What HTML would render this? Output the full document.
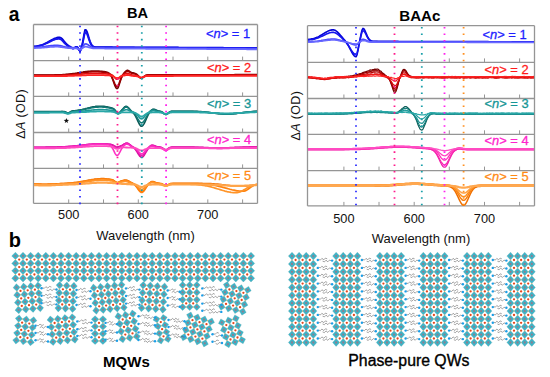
<!DOCTYPE html>
<html><head><meta charset="utf-8"><style>
html,body{margin:0;padding:0;background:#fff;}
body{width:550px;height:377px;position:relative;overflow:hidden;font-family:"Liberation Sans", sans-serif;}
</style></head><body>
<svg width="550" height="377" viewBox="0 0 550 377" style="position:absolute;left:0;top:0">
<line x1="68.7" y1="60.6" x2="68.7" y2="56.6" stroke="#8a8a8a" stroke-width="0.9"/>
<line x1="103.5" y1="60.6" x2="103.5" y2="56.6" stroke="#8a8a8a" stroke-width="0.9"/>
<line x1="138.3" y1="60.6" x2="138.3" y2="56.6" stroke="#8a8a8a" stroke-width="0.9"/>
<line x1="173.0" y1="60.6" x2="173.0" y2="56.6" stroke="#8a8a8a" stroke-width="0.9"/>
<line x1="207.8" y1="60.6" x2="207.8" y2="56.6" stroke="#8a8a8a" stroke-width="0.9"/>
<line x1="242.6" y1="60.6" x2="242.6" y2="56.6" stroke="#8a8a8a" stroke-width="0.9"/>
<line x1="68.7" y1="96.4" x2="68.7" y2="92.4" stroke="#8a8a8a" stroke-width="0.9"/>
<line x1="103.5" y1="96.4" x2="103.5" y2="92.4" stroke="#8a8a8a" stroke-width="0.9"/>
<line x1="138.3" y1="96.4" x2="138.3" y2="92.4" stroke="#8a8a8a" stroke-width="0.9"/>
<line x1="173.0" y1="96.4" x2="173.0" y2="92.4" stroke="#8a8a8a" stroke-width="0.9"/>
<line x1="207.8" y1="96.4" x2="207.8" y2="92.4" stroke="#8a8a8a" stroke-width="0.9"/>
<line x1="242.6" y1="96.4" x2="242.6" y2="92.4" stroke="#8a8a8a" stroke-width="0.9"/>
<line x1="68.7" y1="132.5" x2="68.7" y2="128.5" stroke="#8a8a8a" stroke-width="0.9"/>
<line x1="103.5" y1="132.5" x2="103.5" y2="128.5" stroke="#8a8a8a" stroke-width="0.9"/>
<line x1="138.3" y1="132.5" x2="138.3" y2="128.5" stroke="#8a8a8a" stroke-width="0.9"/>
<line x1="173.0" y1="132.5" x2="173.0" y2="128.5" stroke="#8a8a8a" stroke-width="0.9"/>
<line x1="207.8" y1="132.5" x2="207.8" y2="128.5" stroke="#8a8a8a" stroke-width="0.9"/>
<line x1="242.6" y1="132.5" x2="242.6" y2="128.5" stroke="#8a8a8a" stroke-width="0.9"/>
<line x1="68.7" y1="168.4" x2="68.7" y2="164.4" stroke="#8a8a8a" stroke-width="0.9"/>
<line x1="103.5" y1="168.4" x2="103.5" y2="164.4" stroke="#8a8a8a" stroke-width="0.9"/>
<line x1="138.3" y1="168.4" x2="138.3" y2="164.4" stroke="#8a8a8a" stroke-width="0.9"/>
<line x1="173.0" y1="168.4" x2="173.0" y2="164.4" stroke="#8a8a8a" stroke-width="0.9"/>
<line x1="207.8" y1="168.4" x2="207.8" y2="164.4" stroke="#8a8a8a" stroke-width="0.9"/>
<line x1="242.6" y1="168.4" x2="242.6" y2="164.4" stroke="#8a8a8a" stroke-width="0.9"/>
<line x1="68.7" y1="203.4" x2="68.7" y2="199.4" stroke="#8a8a8a" stroke-width="0.9"/>
<line x1="103.5" y1="203.4" x2="103.5" y2="199.4" stroke="#8a8a8a" stroke-width="0.9"/>
<line x1="138.3" y1="203.4" x2="138.3" y2="199.4" stroke="#8a8a8a" stroke-width="0.9"/>
<line x1="173.0" y1="203.4" x2="173.0" y2="199.4" stroke="#8a8a8a" stroke-width="0.9"/>
<line x1="207.8" y1="203.4" x2="207.8" y2="199.4" stroke="#8a8a8a" stroke-width="0.9"/>
<line x1="242.6" y1="203.4" x2="242.6" y2="199.4" stroke="#8a8a8a" stroke-width="0.9"/>
<line x1="33.5" y1="24.5" x2="257.5" y2="24.5" stroke="#959595" stroke-width="1.3"/>
<line x1="33.5" y1="60.6" x2="257.5" y2="60.6" stroke="#959595" stroke-width="1.3"/>
<line x1="33.5" y1="96.4" x2="257.5" y2="96.4" stroke="#959595" stroke-width="1.3"/>
<line x1="33.5" y1="132.5" x2="257.5" y2="132.5" stroke="#959595" stroke-width="1.3"/>
<line x1="33.5" y1="168.4" x2="257.5" y2="168.4" stroke="#959595" stroke-width="1.3"/>
<line x1="33.5" y1="203.4" x2="257.5" y2="203.4" stroke="#959595" stroke-width="1.3"/>
<line x1="33.5" y1="24.5" x2="33.5" y2="203.4" stroke="#959595" stroke-width="1.3"/>
<line x1="257.5" y1="24.5" x2="257.5" y2="203.4" stroke="#959595" stroke-width="1.3"/>
<path d="M34,183.9 35,183.9 36,184.0 37,184.0 38,184.0 39,184.1 40,184.1 41,184.1 42,184.2 43,184.2 44,184.2 45,184.2 46,184.2 47,184.2 48,184.1 49,184.1 50,184.1 51,184.0 52,184.0 53,184.0 54,183.9 55,183.9 56,183.8 57,183.8 58,183.7 59,183.7 60,183.6 61,183.5 62,183.5 63,183.4 64,183.4 65,183.3 66,183.3 67,183.2 68,183.1 69,183.1 70,183.0 71,182.9 72,182.8 73,182.7 74,182.6 75,182.5 76,182.4 77,182.2 78,182.1 79,182.0 80,181.8 81,181.6 82,181.5 83,181.3 84,181.1 85,180.9 86,180.7 87,180.5 88,180.3 89,180.1 90,179.9 91,179.8 92,179.6 93,179.4 94,179.3 95,179.1 96,179.0 97,178.9 98,178.8 99,178.7 100,178.7 101,178.6 102,178.6 103,178.6 104,178.6 105,178.7 106,178.8 107,178.9 108,179.0 109,179.1 110,179.2 111,179.4 112,179.6 113,180.0 114,180.6 115,181.3 116,182.0 117,182.5 118,182.4 119,181.9 120,181.4 121,181.0 122,180.7 123,180.4 124,180.1 125,180.0 126,180.0 127,180.3 128,180.7 129,181.2 130,181.8 131,182.3 132,182.8 133,183.3 134,184.0 135,184.8 136,185.9 137,187.1 138,188.5 139,189.9 140,190.9 141,191.6 142,191.7 143,191.2 144,190.2 145,188.8 146,187.4 147,185.9 148,184.5 149,183.4 150,182.5 151,181.8 152,181.5 153,181.5 154,181.8 155,182.1 156,182.5 157,182.8 158,183.1 159,183.2 160,183.4 161,183.5 162,183.8 163,184.3 164,184.8 165,185.2 166,185.3 167,185.1 168,184.6 169,184.1 170,183.7 171,183.5 172,183.4 173,183.3 174,183.3 175,183.3 176,183.3 177,183.3 178,183.3 179,183.3 180,183.3 181,183.3 182,183.3 183,183.3 184,183.3 185,183.3 186,183.3 187,183.3 188,183.3 189,183.3 190,183.3 191,183.3 192,183.3 193,183.3 194,183.3 195,183.3 196,183.3 197,183.3 198,183.3 199,183.3 200,183.3 201,183.3 202,183.3 203,183.4 204,183.4 205,183.4 206,183.4 207,183.5 208,183.5 209,183.5 210,183.6 211,183.6 212,183.7 213,183.7 214,183.8 215,183.9 216,183.9 217,184.0 218,184.1 219,184.2 220,184.3 221,184.4 222,184.6 223,184.7 224,184.8 225,184.9 226,185.1 227,185.2 228,185.3 229,185.4 230,185.6 231,185.7 232,185.8 233,185.9 234,186.0 235,186.0 236,186.1 237,186.2 238,186.2 239,186.2 240,186.2 241,186.2 242,186.2 243,186.2 244,186.1 245,186.0 246,186.0 247,185.9 248,185.8 249,185.7 250,185.5 251,185.4 252,185.3 253,185.2 254,185.0 255,184.9 256,184.8 257,184.6" fill="none" stroke="#ee6e00" stroke-width="1.50" stroke-linejoin="round"/>
<path d="M34,184.1 35,184.1 36,184.2 37,184.2 38,184.2 39,184.3 40,184.3 41,184.3 42,184.4 43,184.4 44,184.4 45,184.4 46,184.4 47,184.4 48,184.3 49,184.3 50,184.3 51,184.2 52,184.2 53,184.2 54,184.1 55,184.1 56,184.0 57,184.0 58,183.9 59,183.9 60,183.8 61,183.7 62,183.7 63,183.6 64,183.6 65,183.5 66,183.5 67,183.4 68,183.4 69,183.3 70,183.2 71,183.1 72,183.0 73,183.0 74,182.9 75,182.7 76,182.6 77,182.5 78,182.4 79,182.2 80,182.1 81,181.9 82,181.7 83,181.6 84,181.4 85,181.2 86,181.0 87,180.8 88,180.7 89,180.5 90,180.3 91,180.1 92,179.9 93,179.8 94,179.6 95,179.5 96,179.4 97,179.3 98,179.2 99,179.1 100,179.1 101,179.0 102,179.0 103,179.0 104,179.0 105,179.1 106,179.2 107,179.3 108,179.4 109,179.5 110,179.6 111,179.8 112,180.0 113,180.3 114,180.9 115,181.6 116,182.4 117,182.8 118,182.7 119,182.3 120,181.8 121,181.3 122,181.0 123,180.8 124,180.6 125,180.5 126,180.5 127,180.7 128,181.1 129,181.6 130,182.1 131,182.6 132,183.1 133,183.6 134,184.3 135,185.1 136,186.2 137,187.6 138,189.0 139,190.5 140,191.6 141,192.3 142,192.4 143,191.8 144,190.8 145,189.4 146,187.8 147,186.3 148,184.9 149,183.8 150,182.9 151,182.2 152,181.9 153,181.9 154,182.1 155,182.5 156,182.8 157,183.1 158,183.3 159,183.4 160,183.6 161,183.8 162,184.1 163,184.6 164,185.1 165,185.6 166,185.7 167,185.4 168,184.9 169,184.4 170,183.9 171,183.7 172,183.6 173,183.5 174,183.5 175,183.5 176,183.5 177,183.5 178,183.5 179,183.5 180,183.5 181,183.5 182,183.5 183,183.5 184,183.5 185,183.5 186,183.5 187,183.5 188,183.5 189,183.5 190,183.6 191,183.6 192,183.6 193,183.6 194,183.6 195,183.6 196,183.7 197,183.7 198,183.7 199,183.8 200,183.8 201,183.8 202,183.9 203,184.0 204,184.0 205,184.1 206,184.2 207,184.3 208,184.4 209,184.5 210,184.6 211,184.8 212,184.9 213,185.1 214,185.3 215,185.5 216,185.7 217,185.9 218,186.1 219,186.3 220,186.6 221,186.8 222,187.1 223,187.4 224,187.6 225,187.9 226,188.2 227,188.4 228,188.7 229,189.0 230,189.3 231,189.5 232,189.8 233,190.0 234,190.2 235,190.4 236,190.6 237,190.8 238,190.9 239,191.0 240,191.1 241,191.2 242,191.2 243,191.2 244,191.1 245,190.9 246,190.4 247,189.9 248,189.2 249,188.5 250,187.8 251,187.1 252,186.4 253,185.8 254,185.3 255,184.8 256,184.5 257,184.2" fill="none" stroke="#ff820e" stroke-width="1.70" stroke-linejoin="round"/>
<path d="M34,184.6 35,184.6 36,184.7 37,184.7 38,184.7 39,184.8 40,184.8 41,184.8 42,184.9 43,184.9 44,184.9 45,184.9 46,184.9 47,184.9 48,184.8 49,184.8 50,184.8 51,184.7 52,184.7 53,184.7 54,184.6 55,184.6 56,184.5 57,184.5 58,184.4 59,184.4 60,184.3 61,184.3 62,184.2 63,184.2 64,184.1 65,184.1 66,184.0 67,184.0 68,183.9 69,183.8 70,183.8 71,183.7 72,183.6 73,183.5 74,183.5 75,183.4 76,183.3 77,183.1 78,183.0 79,182.9 80,182.8 81,182.6 82,182.5 83,182.3 84,182.2 85,182.0 86,181.9 87,181.7 88,181.5 89,181.4 90,181.2 91,181.1 92,180.9 93,180.8 94,180.6 95,180.5 96,180.4 97,180.3 98,180.3 99,180.2 100,180.1 101,180.1 102,180.1 103,180.1 104,180.1 105,180.2 106,180.2 107,180.3 108,180.4 109,180.5 110,180.6 111,180.8 112,181.0 113,181.2 114,181.7 115,182.3 116,182.8 117,183.1 118,183.1 119,182.8 120,182.4 121,182.1 122,181.9 123,181.7 124,181.5 125,181.4 126,181.5 127,181.7 128,182.0 129,182.4 130,182.8 131,183.1 132,183.4 133,183.7 134,184.0 135,184.4 136,185.1 137,185.9 138,186.9 139,187.9 140,188.8 141,189.3 142,189.4 143,189.0 144,188.2 145,187.1 146,186.1 147,185.1 148,184.2 149,183.6 150,183.0 151,182.7 152,182.6 153,182.6 154,182.8 155,183.1 156,183.4 157,183.7 158,183.8 159,184.0 160,184.1 161,184.2 162,184.5 163,185.0 164,185.5 165,185.9 166,186.0 167,185.8 168,185.3 169,184.8 170,184.4 171,184.2 172,184.1 173,184.0 174,184.0 175,184.0 176,184.0 177,184.0 178,184.0 179,184.0 180,184.0 181,184.0 182,184.1 183,184.1 184,184.1 185,184.1 186,184.1 187,184.1 188,184.2 189,184.2 190,184.2 191,184.3 192,184.3 193,184.3 194,184.4 195,184.5 196,184.5 197,184.6 198,184.7 199,184.8 200,184.9 201,185.0 202,185.2 203,185.3 204,185.5 205,185.6 206,185.8 207,186.0 208,186.2 209,186.5 210,186.7 211,186.9 212,187.2 213,187.5 214,187.8 215,188.1 216,188.4 217,188.7 218,189.0 219,189.3 220,189.6 221,189.9 222,190.2 223,190.5 224,190.8 225,191.1 226,191.3 227,191.6 228,191.8 229,192.0 230,192.2 231,192.4 232,192.5 233,192.6 234,192.7 235,192.7 236,192.7 237,192.7 238,192.5 239,192.2 240,191.9 241,191.5 242,191.0 243,190.4 244,189.8 245,189.3 246,188.7 247,188.1 248,187.5 249,187.0 250,186.5 251,186.1 252,185.7 253,185.4 254,185.1 255,184.9 256,184.6 257,184.5" fill="none" stroke="#ff9428" stroke-width="1.70" stroke-linejoin="round"/>
<path d="M34,185.1 35,185.1 36,185.2 37,185.2 38,185.2 39,185.3 40,185.3 41,185.3 42,185.4 43,185.4 44,185.4 45,185.4 46,185.4 47,185.4 48,185.3 49,185.3 50,185.3 51,185.3 52,185.2 53,185.2 54,185.1 55,185.1 56,185.0 57,185.0 58,184.9 59,184.9 60,184.9 61,184.8 62,184.8 63,184.7 64,184.7 65,184.7 66,184.6 67,184.6 68,184.6 69,184.5 70,184.5 71,184.4 72,184.4 73,184.4 74,184.3 75,184.3 76,184.2 77,184.1 78,184.1 79,184.0 80,184.0 81,183.9 82,183.8 83,183.7 84,183.7 85,183.6 86,183.5 87,183.4 88,183.3 89,183.3 90,183.2 91,183.1 92,183.0 93,183.0 94,182.9 95,182.8 96,182.8 97,182.7 98,182.7 99,182.7 100,182.6 101,182.6 102,182.6 103,182.6 104,182.6 105,182.6 106,182.7 107,182.7 108,182.8 109,182.8 110,182.9 111,182.9 112,183.0 113,183.1 114,183.1 115,183.2 116,183.3 117,183.4 118,183.5 119,183.5 120,183.6 121,183.7 122,183.8 123,183.8 124,183.9 125,184.0 126,184.0 127,184.1 128,184.1 129,184.2 130,184.2 131,184.3 132,184.3 133,184.4 134,184.5 135,184.6 136,184.8 137,185.2 138,185.7 139,186.2 140,186.6 141,186.9 142,187.0 143,186.7 144,186.3 145,185.8 146,185.4 147,185.0 148,184.8 149,184.6 150,184.6 151,184.6 152,184.5 153,184.5 154,184.5 155,184.5 156,184.5 157,184.5 158,184.5 159,184.5 160,184.6 161,184.7 162,184.8 163,185.1 164,185.4 165,185.7 166,185.7 167,185.6 168,185.3 169,185.0 170,184.7 171,184.6 172,184.5 173,184.5 174,184.5 175,184.5 176,184.5 177,184.5 178,184.5 179,184.5 180,184.5 181,184.5 182,184.5 183,184.5 184,184.5 185,184.5 186,184.5 187,184.5 188,184.5 189,184.5 190,184.5 191,184.5 192,184.5 193,184.5 194,184.5 195,184.5 196,184.5 197,184.5 198,184.5 199,184.5 200,184.5 201,184.5 202,184.5 203,184.5 204,184.5 205,184.6 206,184.6 207,184.6 208,184.6 209,184.6 210,184.7 211,184.7 212,184.7 213,184.8 214,184.8 215,184.8 216,184.9 217,184.9 218,185.0 219,185.0 220,185.1 221,185.2 222,185.2 223,185.3 224,185.4 225,185.4 226,185.5 227,185.5 228,185.6 229,185.7 230,185.7 231,185.8 232,185.8 233,185.8 234,185.9 235,185.9 236,185.9 237,185.9 238,185.9 239,185.9 240,185.9 241,185.9 242,185.9 243,185.8 244,185.8 245,185.7 246,185.7 247,185.6 248,185.6 249,185.5 250,185.4 251,185.4 252,185.3 253,185.3 254,185.2 255,185.1 256,185.1 257,185.0" fill="none" stroke="#ffa54a" stroke-width="2.20" stroke-linejoin="round"/>
<path d="M34,147.2 35,147.2 36,147.2 37,147.2 38,147.2 39,147.2 40,147.2 41,147.2 42,147.2 43,147.2 44,147.2 45,147.2 46,147.1 47,147.1 48,147.1 49,147.1 50,147.1 51,147.1 52,147.1 53,147.1 54,147.0 55,147.0 56,147.0 57,147.0 58,146.9 59,146.9 60,146.9 61,146.8 62,146.8 63,146.8 64,146.7 65,146.7 66,146.6 67,146.5 68,146.5 69,146.4 70,146.3 71,146.3 72,146.2 73,146.1 74,146.0 75,145.9 76,145.8 77,145.7 78,145.6 79,145.5 80,145.4 81,145.3 82,145.2 83,145.1 84,145.0 85,144.8 86,144.7 87,144.6 88,144.5 89,144.4 90,144.4 91,144.3 92,144.2 93,144.1 94,144.1 95,144.0 96,144.0 97,143.9 98,143.9 99,143.9 100,143.9 101,143.9 102,143.9 103,143.9 104,144.0 105,144.0 106,144.0 107,144.1 108,144.2 109,144.3 110,144.4 111,144.5 112,144.8 113,145.1 114,145.7 115,146.2 116,146.7 117,147.0 118,146.9 119,146.6 120,146.2 121,145.8 122,145.4 123,144.9 124,144.3 125,143.7 126,143.3 127,143.2 128,143.5 129,144.1 130,144.9 131,145.7 132,146.4 133,147.2 134,148.0 135,149.0 136,150.3 137,151.9 138,153.5 139,155.1 140,156.4 141,157.1 142,157.2 143,156.7 144,155.5 145,153.9 146,152.2 147,150.5 148,148.8 149,147.4 150,146.3 151,145.6 152,145.2 153,145.3 154,145.5 155,145.9 156,146.3 157,146.6 158,146.8 159,146.9 160,147.1 161,147.3 162,147.7 163,148.3 164,149.0 165,149.6 166,149.8 167,149.4 168,148.7 169,148.0 170,147.5 171,147.2 172,147.0 173,147.0 174,147.0 175,147.0 176,147.0 177,147.0 178,147.0 179,147.0 180,147.0 181,147.0 182,147.0 183,147.0 184,147.0 185,147.0 186,147.0 187,147.0 188,147.0 189,147.0 190,147.1 191,147.1 192,147.1 193,147.1 194,147.1 195,147.2 196,147.2 197,147.2 198,147.2 199,147.3 200,147.3 201,147.3 202,147.4 203,147.4 204,147.5 205,147.5 206,147.5 207,147.6 208,147.6 209,147.7 210,147.7 211,147.7 212,147.7 213,147.8 214,147.8 215,147.8 216,147.8 217,147.9 218,147.9 219,147.9 220,147.9 221,147.9 222,147.9 223,147.8 224,147.8 225,147.8 226,147.8 227,147.8 228,147.7 229,147.7 230,147.6 231,147.6 232,147.6 233,147.5 234,147.5 235,147.4 236,147.4 237,147.4 238,147.3 239,147.3 240,147.2 241,147.2 242,147.2 243,147.1 244,147.1 245,147.1 246,147.0 247,147.0 248,147.0 249,147.0 250,146.9 251,146.9 252,146.9 253,146.9 254,146.9 255,146.9 256,146.9 257,146.8" fill="none" stroke="#d4109c" stroke-width="1.60" stroke-linejoin="round"/>
<path d="M34,147.4 35,147.4 36,147.4 37,147.4 38,147.4 39,147.4 40,147.4 41,147.4 42,147.4 43,147.4 44,147.4 45,147.3 46,147.3 47,147.3 48,147.3 49,147.3 50,147.3 51,147.3 52,147.3 53,147.3 54,147.2 55,147.2 56,147.2 57,147.2 58,147.1 59,147.1 60,147.1 61,147.0 62,147.0 63,146.9 64,146.9 65,146.8 66,146.8 67,146.7 68,146.6 69,146.5 70,146.5 71,146.4 72,146.3 73,146.2 74,146.1 75,146.0 76,145.9 77,145.8 78,145.7 79,145.5 80,145.4 81,145.3 82,145.2 83,145.1 84,145.0 85,144.8 86,144.7 87,144.6 88,144.5 89,144.4 90,144.3 91,144.2 92,144.1 93,144.0 94,144.0 95,143.9 96,143.9 97,143.8 98,143.8 99,143.8 100,143.8 101,143.8 102,143.8 103,143.8 104,143.9 105,143.9 106,144.0 107,144.0 108,144.1 109,144.2 110,144.3 111,144.5 112,144.9 113,145.4 114,146.1 115,147.0 116,147.7 117,148.0 118,147.9 119,147.4 120,146.7 121,146.1 122,145.5 123,144.9 124,144.3 125,143.7 126,143.2 127,143.1 128,143.4 129,144.1 130,144.9 131,145.7 132,146.4 133,147.0 134,147.7 135,148.5 136,149.6 137,150.9 138,152.3 139,153.6 140,154.7 141,155.3 142,155.4 143,154.9 144,153.9 145,152.6 146,151.2 147,149.7 148,148.4 149,147.2 150,146.2 151,145.6 152,145.3 153,145.4 154,145.7 155,146.1 156,146.5 157,146.8 158,147.0 159,147.1 160,147.3 161,147.5 162,147.9 163,148.6 164,149.4 165,150.0 166,150.1 167,149.8 168,149.1 169,148.3 170,147.7 171,147.4 172,147.2 173,147.2 174,147.2 175,147.2 176,147.2 177,147.2 178,147.2 179,147.2 180,147.2 181,147.2 182,147.2 183,147.2 184,147.2 185,147.2 186,147.2 187,147.2 188,147.2 189,147.2 190,147.3 191,147.3 192,147.3 193,147.3 194,147.3 195,147.4 196,147.4 197,147.4 198,147.4 199,147.5 200,147.5 201,147.5 202,147.6 203,147.6 204,147.7 205,147.7 206,147.7 207,147.8 208,147.8 209,147.9 210,147.9 211,147.9 212,147.9 213,148.0 214,148.0 215,148.0 216,148.0 217,148.1 218,148.1 219,148.1 220,148.1 221,148.1 222,148.1 223,148.0 224,148.0 225,148.0 226,148.0 227,148.0 228,147.9 229,147.9 230,147.8 231,147.8 232,147.8 233,147.7 234,147.7 235,147.6 236,147.6 237,147.6 238,147.5 239,147.5 240,147.4 241,147.4 242,147.4 243,147.3 244,147.3 245,147.3 246,147.2 247,147.2 248,147.2 249,147.2 250,147.1 251,147.1 252,147.1 253,147.1 254,147.1 255,147.1 256,147.1 257,147.0" fill="none" stroke="#e818b0" stroke-width="1.60" stroke-linejoin="round"/>
<path d="M34,147.9 35,147.9 36,147.9 37,147.9 38,147.9 39,147.9 40,147.9 41,147.9 42,147.9 43,147.9 44,147.9 45,147.8 46,147.8 47,147.8 48,147.8 49,147.8 50,147.8 51,147.8 52,147.8 53,147.8 54,147.7 55,147.7 56,147.7 57,147.7 58,147.6 59,147.6 60,147.6 61,147.5 62,147.5 63,147.4 64,147.4 65,147.3 66,147.3 67,147.2 68,147.1 69,147.0 70,147.0 71,146.9 72,146.8 73,146.7 74,146.6 75,146.5 76,146.4 77,146.3 78,146.2 79,146.0 80,145.9 81,145.8 82,145.7 83,145.6 84,145.5 85,145.3 86,145.2 87,145.1 88,145.0 89,144.9 90,144.8 91,144.7 92,144.6 93,144.5 94,144.5 95,144.4 96,144.4 97,144.3 98,144.3 99,144.3 100,144.3 101,144.3 102,144.3 103,144.3 104,144.4 105,144.4 106,144.5 107,144.6 108,144.7 109,145.0 110,145.4 111,146.2 112,147.5 113,149.2 114,151.2 115,153.3 116,154.9 117,155.5 118,155.1 119,153.7 120,151.9 121,149.9 122,148.2 123,146.8 124,145.7 125,144.8 126,144.3 127,144.1 128,144.4 129,144.9 130,145.6 131,146.2 132,146.7 133,147.1 134,147.5 135,147.9 136,148.6 137,149.6 138,150.8 139,152.0 140,153.1 141,153.8 142,153.9 143,153.4 144,152.4 145,151.2 146,149.9 147,148.8 148,147.9 149,147.1 150,146.6 151,146.3 152,146.2 153,146.3 154,146.5 155,146.9 156,147.2 157,147.4 158,147.5 159,147.6 160,147.8 161,148.0 162,148.4 163,149.1 164,149.9 165,150.5 166,150.6 167,150.3 168,149.6 169,148.8 170,148.2 171,147.9 172,147.7 173,147.7 174,147.7 175,147.7 176,147.7 177,147.7 178,147.7 179,147.7 180,147.7 181,147.7 182,147.7 183,147.7 184,147.7 185,147.7 186,147.7 187,147.7 188,147.7 189,147.7 190,147.8 191,147.8 192,147.8 193,147.8 194,147.8 195,147.9 196,147.9 197,147.9 198,147.9 199,148.0 200,148.0 201,148.0 202,148.1 203,148.1 204,148.2 205,148.2 206,148.2 207,148.3 208,148.3 209,148.4 210,148.4 211,148.4 212,148.4 213,148.5 214,148.5 215,148.5 216,148.5 217,148.6 218,148.6 219,148.6 220,148.6 221,148.6 222,148.6 223,148.5 224,148.5 225,148.5 226,148.5 227,148.5 228,148.4 229,148.4 230,148.3 231,148.3 232,148.3 233,148.2 234,148.2 235,148.1 236,148.1 237,148.1 238,148.0 239,148.0 240,147.9 241,147.9 242,147.9 243,147.8 244,147.8 245,147.8 246,147.7 247,147.7 248,147.7 249,147.7 250,147.6 251,147.6 252,147.6 253,147.6 254,147.6 255,147.6 256,147.6 257,147.5" fill="none" stroke="#ff30c4" stroke-width="1.60" stroke-linejoin="round"/>
<path d="M34,148.4 35,148.4 36,148.4 37,148.4 38,148.4 39,148.4 40,148.4 41,148.4 42,148.4 43,148.4 44,148.4 45,148.4 46,148.4 47,148.3 48,148.3 49,148.3 50,148.3 51,148.3 52,148.3 53,148.3 54,148.3 55,148.3 56,148.2 57,148.2 58,148.2 59,148.2 60,148.2 61,148.1 62,148.1 63,148.1 64,148.0 65,148.0 66,148.0 67,147.9 68,147.9 69,147.8 70,147.8 71,147.7 72,147.7 73,147.6 74,147.6 75,147.5 76,147.4 77,147.4 78,147.3 79,147.2 80,147.1 81,147.1 82,147.0 83,146.9 84,146.8 85,146.8 86,146.7 87,146.6 88,146.5 89,146.5 90,146.4 91,146.4 92,146.3 93,146.3 94,146.2 95,146.2 96,146.1 97,146.1 98,146.1 99,146.1 100,146.1 101,146.1 102,146.1 103,146.1 104,146.1 105,146.2 106,146.2 107,146.2 108,146.3 109,146.3 110,146.4 111,146.5 112,146.8 113,147.1 114,147.6 115,148.2 116,148.6 117,148.8 118,148.8 119,148.4 120,148.0 121,147.7 122,147.5 123,147.4 124,147.4 125,147.4 126,147.5 127,147.5 128,147.6 129,147.6 130,147.7 131,147.7 132,147.8 133,147.9 134,148.0 135,148.1 136,148.4 137,148.7 138,149.2 139,149.7 140,150.2 141,150.5 142,150.5 143,150.3 144,149.9 145,149.4 146,149.0 147,148.6 148,148.4 149,148.3 150,148.2 151,148.2 152,148.2 153,148.2 154,148.2 155,148.2 156,148.2 157,148.2 158,148.2 159,148.2 160,148.2 161,148.3 162,148.5 163,148.9 164,149.3 165,149.6 166,149.7 167,149.5 168,149.1 169,148.7 170,148.4 171,148.3 172,148.2 173,148.2 174,148.2 175,148.1 176,148.1 177,148.1 178,148.1 179,148.1 180,148.1 181,148.1 182,148.1 183,148.1 184,148.1 185,148.1 186,148.1 187,148.1 188,148.1 189,148.1 190,148.1 191,148.1 192,148.1 193,148.1 194,148.1 195,148.1 196,148.1 197,148.1 198,148.1 199,148.1 200,148.1 201,148.1 202,148.1 203,148.1 204,148.1 205,148.1 206,148.1 207,148.1 208,148.1 209,148.1 210,148.1 211,148.1 212,148.1 213,148.1 214,148.1 215,148.1 216,148.1 217,148.1 218,148.1 219,148.1 220,148.1 221,148.1 222,148.1 223,148.1 224,148.1 225,148.1 226,148.1 227,148.1 228,148.1 229,148.1 230,148.0 231,148.0 232,148.0 233,148.0 234,148.0 235,148.0 236,148.0 237,148.0 238,148.0 239,148.0 240,148.0 241,148.0 242,148.0 243,148.0 244,148.0 245,148.0 246,148.0 247,148.0 248,148.0 249,148.0 250,148.0 251,148.0 252,148.0 253,148.0 254,148.0 255,148.0 256,148.0 257,148.0" fill="none" stroke="#ff4cc0" stroke-width="1.80" stroke-linejoin="round"/>
<path d="M34,111.6 35,111.6 36,111.6 37,111.6 38,111.6 39,111.6 40,111.6 41,111.6 42,111.6 43,111.6 44,111.6 45,111.6 46,111.6 47,111.6 48,111.6 49,111.6 50,111.5 51,111.5 52,111.5 53,111.5 54,111.5 55,111.5 56,111.5 57,111.5 58,111.5 59,111.5 60,111.5 61,111.5 62,111.4 63,111.5 64,111.5 65,111.8 66,112.3 67,112.8 68,113.0 69,112.7 70,112.1 71,111.5 72,111.1 73,110.9 74,110.8 75,110.7 76,110.5 77,110.4 78,110.2 79,110.0 80,109.9 81,109.7 82,109.5 83,109.2 84,109.0 85,108.8 86,108.5 87,108.3 88,108.0 89,107.8 90,107.6 91,107.3 92,107.1 93,106.9 94,106.7 95,106.6 96,106.4 97,106.3 98,106.3 99,106.2 100,106.2 101,106.2 102,106.2 103,106.3 104,106.4 105,106.5 106,106.7 107,106.9 108,107.1 109,107.3 110,107.5 111,107.7 112,108.0 113,108.4 114,109.0 115,110.0 116,111.5 117,112.8 118,113.5 119,113.2 120,112.1 121,110.9 122,109.7 123,108.7 124,107.6 125,106.7 126,106.3 127,106.5 128,107.3 129,108.4 130,109.6 131,110.7 132,111.7 133,112.6 134,113.8 135,115.2 136,117.1 137,119.2 138,121.4 139,123.5 140,125.1 141,126.1 142,126.2 143,125.4 144,123.9 145,121.8 146,119.6 147,117.3 148,115.2 149,113.4 150,111.8 151,110.6 152,109.8 153,109.3 154,109.3 155,109.6 156,110.0 157,110.4 158,110.8 159,111.0 160,111.2 161,111.5 162,112.0 163,112.7 164,113.5 165,114.2 166,114.4 167,114.0 168,113.2 169,112.4 170,111.8 171,111.4 172,111.3 173,111.2 174,111.2 175,111.2 176,111.2 177,111.2 178,111.2 179,111.2 180,111.2 181,111.2 182,111.2 183,111.2 184,111.2 185,111.2 186,111.2 187,111.2 188,111.2 189,111.2 190,111.2 191,111.2 192,111.2 193,111.3 194,111.3 195,111.3 196,111.4 197,111.4 198,111.5 199,111.5 200,111.6 201,111.6 202,111.7 203,111.8 204,111.9 205,112.0 206,112.1 207,112.2 208,112.3 209,112.5 210,112.6 211,112.7 212,112.8 213,113.0 214,113.1 215,113.2 216,113.4 217,113.5 218,113.6 219,113.7 220,113.8 221,113.9 222,114.0 223,114.1 224,114.1 225,114.2 226,114.2 227,114.2 228,114.2 229,114.2 230,114.1 231,114.1 232,114.0 233,113.9 234,113.8 235,113.7 236,113.6 237,113.4 238,113.3 239,113.2 240,113.0 241,112.9 242,112.7 243,112.6 244,112.5 245,112.3 246,112.2 247,112.1 248,112.0 249,111.9 250,111.8 251,111.7 252,111.6 253,111.5 254,111.4 255,111.3 256,111.3 257,111.2" fill="none" stroke="#0b5a56" stroke-width="1.60" stroke-linejoin="round"/>
<path d="M34,111.8 35,111.8 36,111.8 37,111.8 38,111.8 39,111.8 40,111.8 41,111.8 42,111.8 43,111.8 44,111.8 45,111.8 46,111.8 47,111.8 48,111.8 49,111.8 50,111.7 51,111.7 52,111.7 53,111.7 54,111.7 55,111.7 56,111.7 57,111.7 58,111.7 59,111.7 60,111.7 61,111.7 62,111.7 63,111.7 64,111.8 65,112.0 66,112.5 67,113.1 68,113.3 69,113.0 70,112.3 71,111.8 72,111.4 73,111.2 74,111.1 75,110.9 76,110.8 77,110.7 78,110.6 79,110.4 80,110.2 81,110.1 82,109.9 83,109.7 84,109.5 85,109.3 86,109.1 87,108.8 88,108.6 89,108.4 90,108.2 91,108.0 92,107.8 93,107.6 94,107.5 95,107.3 96,107.2 97,107.1 98,107.1 99,107.0 100,107.0 101,107.0 102,107.0 103,107.1 104,107.2 105,107.3 106,107.4 107,107.6 108,107.8 109,107.9 110,108.1 111,108.4 112,108.6 113,108.9 114,109.5 115,110.5 116,111.8 117,113.1 118,113.8 119,113.4 120,112.4 121,111.2 122,110.1 123,109.1 124,108.2 125,107.4 126,106.9 127,107.1 128,107.8 129,108.9 130,109.9 131,110.8 132,111.6 133,112.3 134,113.2 135,114.3 136,115.7 137,117.3 138,119.1 139,120.7 140,122.0 141,122.8 142,122.9 143,122.3 144,121.0 145,119.4 146,117.6 147,115.9 148,114.2 149,112.8 150,111.6 151,110.6 152,109.9 153,109.6 154,109.6 155,109.9 156,110.3 157,110.7 158,111.0 159,111.2 160,111.4 161,111.7 162,112.2 163,112.8 164,113.6 165,114.2 166,114.4 167,114.0 168,113.3 169,112.5 170,111.9 171,111.6 172,111.4 173,111.4 174,111.4 175,111.4 176,111.4 177,111.4 178,111.4 179,111.4 180,111.4 181,111.4 182,111.4 183,111.4 184,111.4 185,111.4 186,111.4 187,111.4 188,111.4 189,111.4 190,111.4 191,111.4 192,111.4 193,111.4 194,111.5 195,111.5 196,111.5 197,111.6 198,111.6 199,111.7 200,111.7 201,111.8 202,111.8 203,111.9 204,112.0 205,112.1 206,112.2 207,112.3 208,112.4 209,112.5 210,112.6 211,112.7 212,112.8 213,112.9 214,113.1 215,113.2 216,113.3 217,113.4 218,113.5 219,113.6 220,113.7 221,113.8 222,113.8 223,113.9 224,113.9 225,114.0 226,114.0 227,114.0 228,114.0 229,114.0 230,113.9 231,113.9 232,113.8 233,113.7 234,113.6 235,113.5 236,113.4 237,113.3 238,113.2 239,113.1 240,113.0 241,112.8 242,112.7 243,112.6 244,112.5 245,112.4 246,112.2 247,112.1 248,112.0 249,111.9 250,111.8 251,111.8 252,111.7 253,111.6 254,111.5 255,111.5 256,111.4 257,111.4" fill="none" stroke="#137a77" stroke-width="1.60" stroke-linejoin="round"/>
<path d="M34,112.3 35,112.3 36,112.3 37,112.3 38,112.3 39,112.3 40,112.3 41,112.3 42,112.3 43,112.3 44,112.3 45,112.3 46,112.3 47,112.3 48,112.3 49,112.3 50,112.2 51,112.2 52,112.2 53,112.2 54,112.2 55,112.2 56,112.2 57,112.2 58,112.2 59,112.2 60,112.2 61,112.2 62,112.2 63,112.2 64,112.3 65,112.5 66,112.9 67,113.4 68,113.6 69,113.3 70,112.8 71,112.4 72,112.1 73,111.9 74,111.8 75,111.8 76,111.7 77,111.6 78,111.6 79,111.5 80,111.4 81,111.3 82,111.2 83,111.1 84,111.0 85,110.9 86,110.7 87,110.6 88,110.5 89,110.4 90,110.3 91,110.2 92,110.0 93,110.0 94,109.9 95,109.8 96,109.7 97,109.7 98,109.6 99,109.6 100,109.6 101,109.6 102,109.6 103,109.6 104,109.7 105,109.8 106,109.8 107,109.9 108,110.0 109,110.1 110,110.2 111,110.3 112,110.5 113,110.6 114,111.0 115,111.6 116,112.4 117,113.2 118,113.6 119,113.4 120,112.7 121,112.0 122,111.3 123,110.8 124,110.3 125,109.9 126,109.7 127,109.8 128,110.1 129,110.6 130,111.1 131,111.5 132,111.8 133,112.1 134,112.4 135,112.9 136,113.6 137,114.6 138,115.8 139,117.1 140,118.2 141,118.8 142,118.9 143,118.3 144,117.3 145,116.0 146,114.8 147,113.7 148,112.8 149,112.1 150,111.5 151,111.1 152,110.9 153,110.7 154,110.8 155,111.0 156,111.2 157,111.5 158,111.7 159,111.8 160,112.0 161,112.2 162,112.5 163,113.1 164,113.7 165,114.2 166,114.4 167,114.1 168,113.5 169,112.8 170,112.3 171,112.1 172,111.9 173,111.9 174,111.9 175,111.9 176,111.9 177,111.9 178,111.9 179,111.9 180,111.8 181,111.8 182,111.8 183,111.8 184,111.8 185,111.8 186,111.9 187,111.9 188,111.9 189,111.9 190,111.9 191,111.9 192,111.9 193,111.9 194,111.9 195,111.9 196,112.0 197,112.0 198,112.0 199,112.1 200,112.1 201,112.1 202,112.2 203,112.2 204,112.3 205,112.3 206,112.4 207,112.5 208,112.6 209,112.6 210,112.7 211,112.8 212,112.9 213,113.0 214,113.0 215,113.1 216,113.2 217,113.3 218,113.3 219,113.4 220,113.5 221,113.5 222,113.6 223,113.6 224,113.7 225,113.7 226,113.7 227,113.7 228,113.7 229,113.7 230,113.6 231,113.6 232,113.6 233,113.5 234,113.4 235,113.4 236,113.3 237,113.2 238,113.1 239,113.0 240,113.0 241,112.9 242,112.8 243,112.7 244,112.6 245,112.5 246,112.4 247,112.4 248,112.3 249,112.2 250,112.1 251,112.1 252,112.0 253,112.0 254,111.9 255,111.9 256,111.8 257,111.8" fill="none" stroke="#1c9696" stroke-width="1.60" stroke-linejoin="round"/>
<path d="M34,112.8 35,112.8 36,112.8 37,112.8 38,112.8 39,112.8 40,112.8 41,112.8 42,112.8 43,112.8 44,112.8 45,112.8 46,112.8 47,112.8 48,112.8 49,112.8 50,112.7 51,112.7 52,112.7 53,112.7 54,112.7 55,112.7 56,112.7 57,112.7 58,112.7 59,112.7 60,112.7 61,112.7 62,112.7 63,112.7 64,112.8 65,113.0 66,113.3 67,113.7 68,113.8 69,113.6 70,113.3 71,112.9 72,112.7 73,112.6 74,112.5 75,112.5 76,112.4 77,112.4 78,112.4 79,112.3 80,112.3 81,112.2 82,112.2 83,112.1 84,112.1 85,112.0 86,112.0 87,111.9 88,111.8 89,111.8 90,111.7 91,111.7 92,111.6 93,111.6 94,111.5 95,111.5 96,111.5 97,111.4 98,111.4 99,111.4 100,111.4 101,111.4 102,111.4 103,111.4 104,111.4 105,111.5 106,111.5 107,111.5 108,111.6 109,111.6 110,111.7 111,111.7 112,111.8 113,111.9 114,112.1 115,112.4 116,112.9 117,113.4 118,113.6 119,113.4 120,113.1 121,112.7 122,112.4 123,112.3 124,112.3 125,112.3 126,112.3 127,112.4 128,112.4 129,112.4 130,112.4 131,112.4 132,112.5 133,112.5 134,112.7 135,112.9 136,113.3 137,113.9 138,114.6 139,115.3 140,116.0 141,116.4 142,116.4 143,116.1 144,115.5 145,114.7 146,114.0 147,113.4 148,113.0 149,112.7 150,112.6 151,112.5 152,112.4 153,112.4 154,112.4 155,112.4 156,112.4 157,112.4 158,112.4 159,112.4 160,112.5 161,112.6 162,112.8 163,113.1 164,113.5 165,113.8 166,113.9 167,113.7 168,113.3 169,112.9 170,112.7 171,112.5 172,112.4 173,112.4 174,112.4 175,112.4 176,112.4 177,112.4 178,112.4 179,112.3 180,112.3 181,112.3 182,112.3 183,112.3 184,112.3 185,112.3 186,112.3 187,112.3 188,112.3 189,112.3 190,112.3 191,112.4 192,112.4 193,112.4 194,112.4 195,112.4 196,112.4 197,112.4 198,112.4 199,112.4 200,112.5 201,112.5 202,112.5 203,112.5 204,112.6 205,112.6 206,112.6 207,112.7 208,112.7 209,112.8 210,112.8 211,112.9 212,112.9 213,113.0 214,113.0 215,113.1 216,113.1 217,113.2 218,113.2 219,113.2 220,113.3 221,113.3 222,113.3 223,113.4 224,113.4 225,113.4 226,113.4 227,113.4 228,113.4 229,113.4 230,113.4 231,113.3 232,113.3 233,113.3 234,113.2 235,113.2 236,113.1 237,113.1 238,113.0 239,113.0 240,112.9 241,112.9 242,112.8 243,112.8 244,112.7 245,112.7 246,112.6 247,112.6 248,112.5 249,112.5 250,112.4 251,112.4 252,112.4 253,112.3 254,112.3 255,112.3 256,112.2 257,112.2" fill="none" stroke="#2aa8a8" stroke-width="1.80" stroke-linejoin="round"/>
<path d="M34,75.1 35,75.1 36,75.1 37,75.1 38,75.1 39,75.1 40,75.1 41,75.1 42,75.1 43,75.1 44,75.1 45,75.1 46,75.1 47,75.0 48,75.0 49,75.0 50,75.0 51,75.0 52,75.0 53,75.0 54,75.0 55,74.9 56,74.9 57,74.9 58,74.9 59,74.8 60,74.8 61,74.7 62,74.7 63,74.6 64,74.6 65,74.5 66,74.4 67,74.3 68,74.2 69,74.1 70,74.0 71,73.9 72,73.8 73,73.6 74,73.5 75,73.4 76,73.2 77,73.1 78,72.9 79,72.7 80,72.6 81,72.4 82,72.2 83,72.1 84,71.9 85,71.8 86,71.6 87,71.5 88,71.4 89,71.3 90,71.2 91,71.1 92,71.0 93,71.0 94,71.0 95,71.0 96,71.0 97,71.0 98,71.0 99,71.1 100,71.2 101,71.3 102,71.4 103,71.5 104,71.6 105,71.8 106,71.9 107,72.2 108,72.6 109,73.1 110,74.1 111,75.6 112,77.6 113,80.3 114,83.2 115,85.9 116,87.9 117,88.7 118,87.9 119,85.3 120,82.0 121,78.9 122,76.4 123,74.5 124,73.1 125,71.9 126,71.0 127,70.4 128,70.4 129,70.9 130,71.6 131,72.2 132,72.7 133,72.9 134,73.1 135,73.4 136,73.8 137,74.5 138,75.5 139,76.6 140,77.7 141,78.3 142,78.2 143,77.6 144,76.6 145,75.8 146,75.3 147,75.0 148,74.9 149,74.8 150,74.8 151,74.8 152,74.8 153,74.8 154,74.8 155,74.8 156,74.8 157,74.8 158,74.8 159,74.8 160,74.8 161,74.8 162,74.8 163,74.8 164,74.8 165,74.8 166,74.8 167,74.8 168,74.8 169,74.8 170,74.8 171,74.8 172,74.8 173,74.8 174,74.8 175,74.8 176,74.8 177,74.8 178,74.8 179,74.8 180,74.8 181,74.8 182,74.8 183,74.8 184,74.8 185,74.8 186,74.8 187,74.8 188,74.8 189,74.8 190,74.8 191,74.7 192,74.7 193,74.7 194,74.7 195,74.7 196,74.7 197,74.7 198,74.7 199,74.7 200,74.7 201,74.7 202,74.7 203,74.7 204,74.7 205,74.7 206,74.7 207,74.7 208,74.7 209,74.7 210,74.7 211,74.7 212,74.7 213,74.7 214,74.7 215,74.7 216,74.7 217,74.7 218,74.7 219,74.7 220,74.7 221,74.7 222,74.7 223,74.7 224,74.7 225,74.7 226,74.7 227,74.7 228,74.7 229,74.7 230,74.7 231,74.7 232,74.7 233,74.7 234,74.7 235,74.6 236,74.6 237,74.6 238,74.6 239,74.6 240,74.6 241,74.6 242,74.6 243,74.6 244,74.6 245,74.6 246,74.6 247,74.6 248,74.6 249,74.6 250,74.6 251,74.6 252,74.6 253,74.6 254,74.6 255,74.6 256,74.6 257,74.6" fill="none" stroke="#760000" stroke-width="1.60" stroke-linejoin="round"/>
<path d="M34,75.3 35,75.3 36,75.3 37,75.3 38,75.3 39,75.3 40,75.3 41,75.3 42,75.3 43,75.3 44,75.3 45,75.3 46,75.3 47,75.3 48,75.2 49,75.2 50,75.2 51,75.2 52,75.2 53,75.2 54,75.2 55,75.2 56,75.1 57,75.1 58,75.1 59,75.1 60,75.0 61,75.0 62,74.9 63,74.9 64,74.8 65,74.8 66,74.7 67,74.6 68,74.6 69,74.5 70,74.4 71,74.3 72,74.2 73,74.1 74,73.9 75,73.8 76,73.7 77,73.5 78,73.4 79,73.3 80,73.1 81,73.0 82,72.9 83,72.7 84,72.6 85,72.5 86,72.3 87,72.2 88,72.1 89,72.0 90,72.0 91,71.9 92,71.8 93,71.8 94,71.8 95,71.8 96,71.8 97,71.8 98,71.8 99,71.9 100,71.9 101,72.0 102,72.1 103,72.2 104,72.3 105,72.4 106,72.6 107,72.8 108,73.1 109,73.6 110,74.4 111,75.6 112,77.3 113,79.5 114,81.9 115,84.1 116,85.8 117,86.5 118,85.7 119,83.6 120,80.9 121,78.4 122,76.3 123,74.7 124,73.6 125,72.6 126,71.8 127,71.3 128,71.3 129,71.8 130,72.4 131,73.0 132,73.4 133,73.7 134,73.8 135,74.1 136,74.4 137,74.9 138,75.7 139,76.6 140,77.4 141,77.9 142,77.9 143,77.3 144,76.5 145,75.9 146,75.4 147,75.2 148,75.1 149,75.0 150,75.0 151,75.0 152,75.0 153,75.0 154,75.0 155,75.0 156,75.0 157,75.0 158,75.0 159,75.0 160,75.0 161,75.0 162,75.0 163,75.0 164,75.0 165,75.0 166,75.0 167,75.0 168,75.0 169,75.0 170,75.0 171,75.0 172,75.0 173,75.0 174,75.0 175,75.0 176,75.0 177,75.0 178,75.0 179,75.0 180,75.0 181,75.0 182,75.0 183,75.0 184,75.0 185,75.0 186,75.0 187,75.0 188,75.0 189,75.0 190,75.0 191,74.9 192,74.9 193,74.9 194,74.9 195,74.9 196,74.9 197,74.9 198,74.9 199,74.9 200,74.9 201,74.9 202,74.9 203,74.9 204,74.9 205,74.9 206,74.9 207,74.9 208,74.9 209,74.9 210,74.9 211,74.9 212,74.9 213,74.9 214,74.9 215,74.9 216,74.9 217,74.9 218,74.9 219,74.9 220,74.9 221,74.9 222,74.9 223,74.9 224,74.9 225,74.9 226,74.9 227,74.9 228,74.9 229,74.9 230,74.9 231,74.9 232,74.9 233,74.9 234,74.9 235,74.8 236,74.8 237,74.8 238,74.8 239,74.8 240,74.8 241,74.8 242,74.8 243,74.8 244,74.8 245,74.8 246,74.8 247,74.8 248,74.8 249,74.8 250,74.8 251,74.8 252,74.8 253,74.8 254,74.8 255,74.8 256,74.8 257,74.8" fill="none" stroke="#a00000" stroke-width="1.60" stroke-linejoin="round"/>
<path d="M34,75.7 35,75.7 36,75.7 37,75.7 38,75.7 39,75.7 40,75.7 41,75.7 42,75.7 43,75.7 44,75.7 45,75.7 46,75.7 47,75.7 48,75.7 49,75.7 50,75.6 51,75.6 52,75.6 53,75.6 54,75.6 55,75.6 56,75.6 57,75.6 58,75.6 59,75.5 60,75.5 61,75.5 62,75.5 63,75.4 64,75.4 65,75.3 66,75.3 67,75.3 68,75.2 69,75.1 70,75.1 71,75.0 72,75.0 73,74.9 74,74.8 75,74.7 76,74.6 77,74.6 78,74.5 79,74.4 80,74.3 81,74.2 82,74.1 83,74.0 84,73.9 85,73.8 86,73.8 87,73.7 88,73.6 89,73.6 90,73.5 91,73.5 92,73.4 93,73.4 94,73.4 95,73.4 96,73.4 97,73.4 98,73.4 99,73.5 100,73.5 101,73.5 102,73.6 103,73.7 104,73.7 105,73.8 106,73.9 107,74.0 108,74.1 109,74.2 110,74.3 111,74.6 112,75.0 113,75.7 114,76.8 115,77.9 116,78.9 117,79.3 118,79.0 119,78.2 120,77.2 121,76.2 122,75.5 123,74.9 124,74.4 125,74.0 126,73.6 127,73.3 128,73.4 129,73.7 130,74.2 131,74.6 132,75.0 133,75.2 134,75.4 135,75.5 136,75.6 137,75.9 138,76.3 139,76.8 140,77.4 141,77.7 142,77.6 143,77.2 144,76.6 145,76.1 146,75.8 147,75.6 148,75.5 149,75.5 150,75.5 151,75.5 152,75.5 153,75.5 154,75.5 155,75.5 156,75.5 157,75.5 158,75.5 159,75.5 160,75.5 161,75.5 162,75.5 163,75.5 164,75.5 165,75.5 166,75.5 167,75.5 168,75.5 169,75.5 170,75.5 171,75.5 172,75.5 173,75.5 174,75.4 175,75.4 176,75.4 177,75.4 178,75.4 179,75.4 180,75.4 181,75.4 182,75.4 183,75.4 184,75.4 185,75.4 186,75.4 187,75.4 188,75.4 189,75.4 190,75.4 191,75.4 192,75.4 193,75.4 194,75.4 195,75.4 196,75.4 197,75.4 198,75.4 199,75.4 200,75.4 201,75.4 202,75.4 203,75.4 204,75.4 205,75.4 206,75.4 207,75.4 208,75.4 209,75.4 210,75.4 211,75.4 212,75.4 213,75.4 214,75.4 215,75.4 216,75.4 217,75.4 218,75.4 219,75.4 220,75.4 221,75.4 222,75.4 223,75.4 224,75.4 225,75.4 226,75.4 227,75.4 228,75.4 229,75.4 230,75.3 231,75.3 232,75.3 233,75.3 234,75.3 235,75.3 236,75.3 237,75.3 238,75.3 239,75.3 240,75.3 241,75.3 242,75.3 243,75.3 244,75.3 245,75.3 246,75.3 247,75.3 248,75.3 249,75.3 250,75.3 251,75.3 252,75.3 253,75.3 254,75.3 255,75.3 256,75.3 257,75.3" fill="none" stroke="#e01010" stroke-width="1.60" stroke-linejoin="round"/>
<path d="M34,76.2 35,76.2 36,76.2 37,76.2 38,76.2 39,76.2 40,76.2 41,76.2 42,76.2 43,76.2 44,76.2 45,76.2 46,76.2 47,76.2 48,76.2 49,76.2 50,76.2 51,76.2 52,76.2 53,76.1 54,76.1 55,76.1 56,76.1 57,76.1 58,76.1 59,76.1 60,76.1 61,76.1 62,76.1 63,76.0 64,76.0 65,76.0 66,76.0 67,76.0 68,75.9 69,75.9 70,75.9 71,75.9 72,75.8 73,75.8 74,75.8 75,75.7 76,75.7 77,75.6 78,75.6 79,75.6 80,75.5 81,75.5 82,75.4 83,75.4 84,75.3 85,75.3 86,75.3 87,75.2 88,75.2 89,75.2 90,75.2 91,75.1 92,75.1 93,75.1 94,75.1 95,75.1 96,75.1 97,75.1 98,75.1 99,75.1 100,75.1 101,75.2 102,75.2 103,75.2 104,75.2 105,75.3 106,75.3 107,75.3 108,75.4 109,75.4 110,75.5 111,75.6 112,75.8 113,76.2 114,76.8 115,77.4 116,78.0 117,78.2 118,78.0 119,77.5 120,76.9 121,76.4 122,76.0 123,75.7 124,75.5 125,75.3 126,75.1 127,74.9 128,75.0 129,75.1 130,75.4 131,75.6 132,75.8 133,75.9 134,76.0 135,76.0 136,76.1 137,76.3 138,76.5 139,76.9 140,77.3 141,77.5 142,77.4 143,77.1 144,76.8 145,76.4 146,76.2 147,76.1 148,76.0 149,76.0 150,76.0 151,76.0 152,76.0 153,76.0 154,76.0 155,76.0 156,76.0 157,76.0 158,76.0 159,76.0 160,76.0 161,76.0 162,76.0 163,76.0 164,76.0 165,76.0 166,76.0 167,76.0 168,76.0 169,76.0 170,76.0 171,76.0 172,76.0 173,76.0 174,75.9 175,75.9 176,75.9 177,75.9 178,75.9 179,75.9 180,75.9 181,75.9 182,75.9 183,75.9 184,75.9 185,75.9 186,75.9 187,75.9 188,75.9 189,75.9 190,75.9 191,75.9 192,75.9 193,75.9 194,75.9 195,75.9 196,75.9 197,75.9 198,75.9 199,75.9 200,75.9 201,75.9 202,75.9 203,75.9 204,75.9 205,75.9 206,75.9 207,75.9 208,75.9 209,75.9 210,75.9 211,75.9 212,75.9 213,75.9 214,75.9 215,75.9 216,75.9 217,75.9 218,75.9 219,75.9 220,75.9 221,75.9 222,75.9 223,75.9 224,75.9 225,75.9 226,75.9 227,75.9 228,75.9 229,75.9 230,75.8 231,75.8 232,75.8 233,75.8 234,75.8 235,75.8 236,75.8 237,75.8 238,75.8 239,75.8 240,75.8 241,75.8 242,75.8 243,75.8 244,75.8 245,75.8 246,75.8 247,75.8 248,75.8 249,75.8 250,75.8 251,75.8 252,75.8 253,75.8 254,75.8 255,75.8 256,75.8 257,75.8" fill="none" stroke="#ff2424" stroke-width="1.80" stroke-linejoin="round"/>
<path d="M34,46.5 35,46.4 36,46.3 37,46.1 38,46.0 39,45.7 40,45.5 41,45.2 42,44.9 43,44.5 44,44.1 45,43.6 46,43.1 47,42.6 48,42.0 49,41.4 50,40.9 51,40.3 52,39.7 53,39.2 54,38.7 55,38.3 56,38.0 57,37.7 58,37.5 59,37.4 60,37.5 61,37.9 62,38.7 63,39.8 64,41.1 65,42.3 66,43.5 67,44.5 68,45.3 69,46.0 70,46.6 71,47.3 72,48.1 73,48.5 74,48.2 75,47.4 76,46.8 77,46.8 78,47.9 79,50.0 80,51.2 81,49.5 82,45.8 83,40.8 84,34.6 85,30.0 86,29.9 87,31.7 88,34.8 89,38.2 90,41.3 91,43.7 92,45.3 93,46.3 94,46.8 95,47.0 96,47.1 97,47.2 98,47.2 99,47.2 100,47.2 101,47.2 102,47.2 103,47.2 104,47.2 105,47.2 106,47.2 107,47.2 108,47.2 109,47.2 110,47.2 111,47.2 112,47.2 113,47.3 114,47.3 115,47.3 116,47.3 117,47.3 118,47.3 119,47.3 120,47.3 121,47.3 122,47.3 123,47.3 124,47.3 125,47.3 126,47.3 127,47.3 128,47.3 129,47.3 130,47.3 131,47.3 132,47.3 133,47.3 134,47.3 135,47.4 136,47.4 137,47.4 138,47.4 139,47.4 140,47.4 141,47.4 142,47.4 143,47.4 144,47.4 145,47.4 146,47.4 147,47.4 148,47.4 149,47.4 150,47.4 151,47.4 152,47.4 153,47.4 154,47.4 155,47.4 156,47.4 157,47.5 158,47.5 159,47.5 160,47.5 161,47.5 162,47.5 163,47.5 164,47.5 165,47.5 166,47.5 167,47.5 168,47.5 169,47.5 170,47.5 171,47.5 172,47.5 173,47.5 174,47.5 175,47.5 176,47.5 177,47.5 178,47.5 179,47.6 180,47.6 181,47.6 182,47.6 183,47.6 184,47.6 185,47.6 186,47.6 187,47.6 188,47.6 189,47.6 190,47.6 191,47.6 192,47.6 193,47.6 194,47.6 195,47.6 196,47.6 197,47.6 198,47.6 199,47.6 200,47.6 201,47.6 202,47.7 203,47.7 204,47.7 205,47.7 206,47.7 207,47.7 208,47.7 209,47.7 210,47.7 211,47.7 212,47.7 213,47.7 214,47.7 215,47.7 216,47.7 217,47.7 218,47.7 219,47.7 220,47.7 221,47.7 222,47.7 223,47.7 224,47.8 225,47.8 226,47.8 227,47.8 228,47.8 229,47.8 230,47.8 231,47.8 232,47.8 233,47.8 234,47.8 235,47.8 236,47.8 237,47.8 238,47.8 239,47.8 240,47.8 241,47.8 242,47.8 243,47.8 244,47.8 245,47.8 246,47.9 247,47.9 248,47.9 249,47.9 250,47.9 251,47.9 252,47.9 253,47.9 254,47.9 255,47.9 256,47.9 257,47.9" fill="none" stroke="#0505d5" stroke-width="1.80" stroke-linejoin="round"/>
<path d="M34,46.7 35,46.6 36,46.5 37,46.4 38,46.2 39,46.0 40,45.7 41,45.5 42,45.2 43,44.8 44,44.4 45,44.0 46,43.5 47,43.1 48,42.6 49,42.1 50,41.6 51,41.1 52,40.6 53,40.2 54,39.8 55,39.4 56,39.2 57,39.0 58,38.8 59,38.8 60,39.0 61,39.6 62,40.4 63,41.5 64,42.6 65,43.7 66,44.6 67,45.4 68,46.0 69,46.5 70,47.0 71,47.6 72,48.2 73,48.6 74,48.3 75,47.6 76,46.9 77,46.9 78,47.9 79,49.8 80,50.8 81,49.3 82,46.2 83,41.9 84,36.5 85,32.5 86,32.4 87,34.0 88,36.6 89,39.6 90,42.3 91,44.4 92,45.8 93,46.6 94,47.0 95,47.2 96,47.3 97,47.4 98,47.4 99,47.4 100,47.4 101,47.4 102,47.4 103,47.4 104,47.4 105,47.4 106,47.4 107,47.4 108,47.4 109,47.4 110,47.4 111,47.4 112,47.4 113,47.5 114,47.5 115,47.5 116,47.5 117,47.5 118,47.5 119,47.5 120,47.5 121,47.5 122,47.5 123,47.5 124,47.5 125,47.5 126,47.5 127,47.5 128,47.5 129,47.5 130,47.5 131,47.5 132,47.5 133,47.5 134,47.5 135,47.6 136,47.6 137,47.6 138,47.6 139,47.6 140,47.6 141,47.6 142,47.6 143,47.6 144,47.6 145,47.6 146,47.6 147,47.6 148,47.6 149,47.6 150,47.6 151,47.6 152,47.6 153,47.6 154,47.6 155,47.6 156,47.6 157,47.7 158,47.7 159,47.7 160,47.7 161,47.7 162,47.7 163,47.7 164,47.7 165,47.7 166,47.7 167,47.7 168,47.7 169,47.7 170,47.7 171,47.7 172,47.7 173,47.7 174,47.7 175,47.7 176,47.7 177,47.7 178,47.7 179,47.8 180,47.8 181,47.8 182,47.8 183,47.8 184,47.8 185,47.8 186,47.8 187,47.8 188,47.8 189,47.8 190,47.8 191,47.8 192,47.8 193,47.8 194,47.8 195,47.8 196,47.8 197,47.8 198,47.8 199,47.8 200,47.8 201,47.8 202,47.9 203,47.9 204,47.9 205,47.9 206,47.9 207,47.9 208,47.9 209,47.9 210,47.9 211,47.9 212,47.9 213,47.9 214,47.9 215,47.9 216,47.9 217,47.9 218,47.9 219,47.9 220,47.9 221,47.9 222,47.9 223,47.9 224,48.0 225,48.0 226,48.0 227,48.0 228,48.0 229,48.0 230,48.0 231,48.0 232,48.0 233,48.0 234,48.0 235,48.0 236,48.0 237,48.0 238,48.0 239,48.0 240,48.0 241,48.0 242,48.0 243,48.0 244,48.0 245,48.0 246,48.1 247,48.1 248,48.1 249,48.1 250,48.1 251,48.1 252,48.1 253,48.1 254,48.1 255,48.1 256,48.1 257,48.1" fill="none" stroke="#1414ee" stroke-width="1.80" stroke-linejoin="round"/>
<path d="M34,47.4 35,47.4 36,47.3 37,47.3 38,47.2 39,47.1 40,47.1 41,47.0 42,46.9 43,46.7 44,46.6 45,46.5 46,46.3 47,46.2 48,46.1 49,45.9 50,45.8 51,45.7 52,45.6 53,45.5 54,45.4 55,45.4 56,45.3 57,45.3 58,45.4 59,45.5 60,45.6 61,45.8 62,46.0 63,46.3 64,46.5 65,46.8 66,47.0 67,47.2 68,47.3 69,47.4 70,47.5 71,47.6 72,47.7 73,47.7 74,47.8 75,47.8 76,47.8 77,48.0 78,48.5 79,49.3 80,49.7 81,49.1 82,47.7 83,46.2 84,44.9 85,44.0 86,43.9 87,44.2 88,44.8 89,45.4 90,46.1 91,46.7 92,47.2 93,47.5 94,47.7 95,47.8 96,47.9 97,47.9 98,47.9 99,47.9 100,47.9 101,47.9 102,47.9 103,47.9 104,47.9 105,48.0 106,48.0 107,48.0 108,48.0 109,48.0 110,48.0 111,48.0 112,48.0 113,48.0 114,48.0 115,48.0 116,48.0 117,48.0 118,48.0 119,48.0 120,48.0 121,48.0 122,48.0 123,48.0 124,48.0 125,48.0 126,48.1 127,48.1 128,48.1 129,48.1 130,48.1 131,48.1 132,48.1 133,48.1 134,48.1 135,48.1 136,48.1 137,48.1 138,48.1 139,48.1 140,48.1 141,48.1 142,48.1 143,48.1 144,48.1 145,48.1 146,48.2 147,48.2 148,48.2 149,48.2 150,48.2 151,48.2 152,48.2 153,48.2 154,48.2 155,48.2 156,48.2 157,48.2 158,48.2 159,48.2 160,48.2 161,48.2 162,48.2 163,48.2 164,48.2 165,48.2 166,48.3 167,48.3 168,48.3 169,48.3 170,48.3 171,48.3 172,48.3 173,48.3 174,48.3 175,48.3 176,48.3 177,48.3 178,48.3 179,48.3 180,48.3 181,48.3 182,48.3 183,48.3 184,48.3 185,48.3 186,48.3 187,48.4 188,48.4 189,48.4 190,48.4 191,48.4 192,48.4 193,48.4 194,48.4 195,48.4 196,48.4 197,48.4 198,48.4 199,48.4 200,48.4 201,48.4 202,48.4 203,48.4 204,48.4 205,48.4 206,48.4 207,48.5 208,48.5 209,48.5 210,48.5 211,48.5 212,48.5 213,48.5 214,48.5 215,48.5 216,48.5 217,48.5 218,48.5 219,48.5 220,48.5 221,48.5 222,48.5 223,48.5 224,48.5 225,48.5 226,48.5 227,48.6 228,48.6 229,48.6 230,48.6 231,48.6 232,48.6 233,48.6 234,48.6 235,48.6 236,48.6 237,48.6 238,48.6 239,48.6 240,48.6 241,48.6 242,48.6 243,48.6 244,48.6 245,48.6 246,48.6 247,48.7 248,48.7 249,48.7 250,48.7 251,48.7 252,48.7 253,48.7 254,48.7 255,48.7 256,48.7 257,48.7" fill="none" stroke="#4646ff" stroke-width="1.70" stroke-linejoin="round"/>
<path d="M34,48.1 35,48.1 36,48.0 37,48.0 38,48.0 39,47.9 40,47.9 41,47.8 42,47.7 43,47.6 44,47.6 45,47.5 46,47.4 47,47.3 48,47.2 49,47.1 50,47.0 51,46.9 52,46.9 53,46.8 54,46.8 55,46.7 56,46.7 57,46.7 58,46.7 59,46.8 60,46.9 61,47.1 62,47.2 63,47.4 64,47.5 65,47.7 66,47.8 67,48.0 68,48.1 69,48.2 70,48.2 71,48.3 72,48.3 73,48.3 74,48.4 75,48.4 76,48.4 77,48.6 78,48.9 79,49.4 80,49.6 81,49.2 82,48.5 83,47.8 84,47.1 85,46.7 86,46.7 87,46.8 88,47.1 89,47.4 90,47.7 91,48.0 92,48.2 93,48.3 94,48.4 95,48.5 96,48.5 97,48.5 98,48.5 99,48.5 100,48.5 101,48.5 102,48.5 103,48.5 104,48.5 105,48.6 106,48.6 107,48.6 108,48.6 109,48.6 110,48.6 111,48.6 112,48.6 113,48.6 114,48.6 115,48.6 116,48.6 117,48.6 118,48.6 119,48.6 120,48.6 121,48.6 122,48.6 123,48.6 124,48.6 125,48.6 126,48.7 127,48.7 128,48.7 129,48.7 130,48.7 131,48.7 132,48.7 133,48.7 134,48.7 135,48.7 136,48.7 137,48.7 138,48.7 139,48.7 140,48.7 141,48.7 142,48.7 143,48.7 144,48.7 145,48.7 146,48.8 147,48.8 148,48.8 149,48.8 150,48.8 151,48.8 152,48.8 153,48.8 154,48.8 155,48.8 156,48.8 157,48.8 158,48.8 159,48.8 160,48.8 161,48.8 162,48.8 163,48.8 164,48.8 165,48.8 166,48.9 167,48.9 168,48.9 169,48.9 170,48.9 171,48.9 172,48.9 173,48.9 174,48.9 175,48.9 176,48.9 177,48.9 178,48.9 179,48.9 180,48.9 181,48.9 182,48.9 183,48.9 184,48.9 185,48.9 186,48.9 187,49.0 188,49.0 189,49.0 190,49.0 191,49.0 192,49.0 193,49.0 194,49.0 195,49.0 196,49.0 197,49.0 198,49.0 199,49.0 200,49.0 201,49.0 202,49.0 203,49.0 204,49.0 205,49.0 206,49.0 207,49.1 208,49.1 209,49.1 210,49.1 211,49.1 212,49.1 213,49.1 214,49.1 215,49.1 216,49.1 217,49.1 218,49.1 219,49.1 220,49.1 221,49.1 222,49.1 223,49.1 224,49.1 225,49.1 226,49.1 227,49.2 228,49.2 229,49.2 230,49.2 231,49.2 232,49.2 233,49.2 234,49.2 235,49.2 236,49.2 237,49.2 238,49.2 239,49.2 240,49.2 241,49.2 242,49.2 243,49.2 244,49.2 245,49.2 246,49.2 247,49.3 248,49.3 249,49.3 250,49.3 251,49.3 252,49.3 253,49.3 254,49.3 255,49.3 256,49.3 257,49.3" fill="none" stroke="#6a6aff" stroke-width="1.70" stroke-linejoin="round"/>
<line x1="80.0" y1="25.7" x2="80.0" y2="204.4" stroke="#3030ff" stroke-width="1.8" stroke-dasharray="1.6 4.95" />
<line x1="117.5" y1="25.7" x2="117.5" y2="204.4" stroke="#ff1a8c" stroke-width="1.8" stroke-dasharray="1.6 4.95" />
<line x1="141.8" y1="25.7" x2="141.8" y2="204.4" stroke="#1aa0aa" stroke-width="1.8" stroke-dasharray="1.6 4.95" />
<line x1="166.1" y1="25.7" x2="166.1" y2="204.4" stroke="#ff22ee" stroke-width="1.8" stroke-dasharray="1.6 4.95" />
<line x1="343.9" y1="62.4" x2="343.9" y2="58.4" stroke="#8a8a8a" stroke-width="0.9"/>
<line x1="379.0" y1="62.4" x2="379.0" y2="58.4" stroke="#8a8a8a" stroke-width="0.9"/>
<line x1="414.2" y1="62.4" x2="414.2" y2="58.4" stroke="#8a8a8a" stroke-width="0.9"/>
<line x1="449.3" y1="62.4" x2="449.3" y2="58.4" stroke="#8a8a8a" stroke-width="0.9"/>
<line x1="484.5" y1="62.4" x2="484.5" y2="58.4" stroke="#8a8a8a" stroke-width="0.9"/>
<line x1="519.6" y1="62.4" x2="519.6" y2="58.4" stroke="#8a8a8a" stroke-width="0.9"/>
<line x1="343.9" y1="98.5" x2="343.9" y2="94.5" stroke="#8a8a8a" stroke-width="0.9"/>
<line x1="379.0" y1="98.5" x2="379.0" y2="94.5" stroke="#8a8a8a" stroke-width="0.9"/>
<line x1="414.2" y1="98.5" x2="414.2" y2="94.5" stroke="#8a8a8a" stroke-width="0.9"/>
<line x1="449.3" y1="98.5" x2="449.3" y2="94.5" stroke="#8a8a8a" stroke-width="0.9"/>
<line x1="484.5" y1="98.5" x2="484.5" y2="94.5" stroke="#8a8a8a" stroke-width="0.9"/>
<line x1="519.6" y1="98.5" x2="519.6" y2="94.5" stroke="#8a8a8a" stroke-width="0.9"/>
<line x1="343.9" y1="134.3" x2="343.9" y2="130.3" stroke="#8a8a8a" stroke-width="0.9"/>
<line x1="379.0" y1="134.3" x2="379.0" y2="130.3" stroke="#8a8a8a" stroke-width="0.9"/>
<line x1="414.2" y1="134.3" x2="414.2" y2="130.3" stroke="#8a8a8a" stroke-width="0.9"/>
<line x1="449.3" y1="134.3" x2="449.3" y2="130.3" stroke="#8a8a8a" stroke-width="0.9"/>
<line x1="484.5" y1="134.3" x2="484.5" y2="130.3" stroke="#8a8a8a" stroke-width="0.9"/>
<line x1="519.6" y1="134.3" x2="519.6" y2="130.3" stroke="#8a8a8a" stroke-width="0.9"/>
<line x1="343.9" y1="170.6" x2="343.9" y2="166.6" stroke="#8a8a8a" stroke-width="0.9"/>
<line x1="379.0" y1="170.6" x2="379.0" y2="166.6" stroke="#8a8a8a" stroke-width="0.9"/>
<line x1="414.2" y1="170.6" x2="414.2" y2="166.6" stroke="#8a8a8a" stroke-width="0.9"/>
<line x1="449.3" y1="170.6" x2="449.3" y2="166.6" stroke="#8a8a8a" stroke-width="0.9"/>
<line x1="484.5" y1="170.6" x2="484.5" y2="166.6" stroke="#8a8a8a" stroke-width="0.9"/>
<line x1="519.6" y1="170.6" x2="519.6" y2="166.6" stroke="#8a8a8a" stroke-width="0.9"/>
<line x1="343.9" y1="205.9" x2="343.9" y2="201.9" stroke="#8a8a8a" stroke-width="0.9"/>
<line x1="379.0" y1="205.9" x2="379.0" y2="201.9" stroke="#8a8a8a" stroke-width="0.9"/>
<line x1="414.2" y1="205.9" x2="414.2" y2="201.9" stroke="#8a8a8a" stroke-width="0.9"/>
<line x1="449.3" y1="205.9" x2="449.3" y2="201.9" stroke="#8a8a8a" stroke-width="0.9"/>
<line x1="484.5" y1="205.9" x2="484.5" y2="201.9" stroke="#8a8a8a" stroke-width="0.9"/>
<line x1="519.6" y1="205.9" x2="519.6" y2="201.9" stroke="#8a8a8a" stroke-width="0.9"/>
<line x1="307.5" y1="25.7" x2="534.5" y2="25.7" stroke="#959595" stroke-width="1.3"/>
<line x1="307.5" y1="62.4" x2="534.5" y2="62.4" stroke="#959595" stroke-width="1.3"/>
<line x1="307.5" y1="98.5" x2="534.5" y2="98.5" stroke="#959595" stroke-width="1.3"/>
<line x1="307.5" y1="134.3" x2="534.5" y2="134.3" stroke="#959595" stroke-width="1.3"/>
<line x1="307.5" y1="170.6" x2="534.5" y2="170.6" stroke="#959595" stroke-width="1.3"/>
<line x1="307.5" y1="205.9" x2="534.5" y2="205.9" stroke="#959595" stroke-width="1.3"/>
<line x1="307.5" y1="25.7" x2="307.5" y2="205.9" stroke="#959595" stroke-width="1.3"/>
<line x1="534.5" y1="25.7" x2="534.5" y2="205.9" stroke="#959595" stroke-width="1.3"/>
<path d="M308,186.3 309,186.3 310,186.3 311,186.3 312,186.3 313,186.3 314,186.3 315,186.3 316,186.3 317,186.3 318,186.3 319,186.3 320,186.3 321,186.3 322,186.3 323,186.3 324,186.3 325,186.3 326,186.3 327,186.3 328,186.3 329,186.3 330,186.3 331,186.3 332,186.3 333,186.3 334,186.3 335,186.3 336,186.3 337,186.3 338,186.3 339,186.3 340,186.3 341,186.3 342,186.3 343,186.3 344,186.3 345,186.3 346,186.3 347,186.3 348,186.3 349,186.3 350,186.3 351,186.3 352,186.3 353,186.3 354,186.3 355,186.3 356,186.3 357,186.3 358,186.3 359,186.3 360,186.3 361,186.3 362,186.3 363,186.3 364,186.3 365,186.3 366,186.3 367,186.3 368,186.3 369,186.3 370,186.3 371,186.3 372,186.3 373,186.3 374,186.3 375,186.2 376,186.2 377,186.2 378,186.2 379,186.2 380,186.2 381,186.1 382,186.1 383,186.1 384,186.1 385,186.0 386,186.0 387,185.9 388,185.9 389,185.9 390,185.8 391,185.7 392,185.7 393,185.6 394,185.5 395,185.5 396,185.4 397,185.3 398,185.2 399,185.2 400,185.1 401,185.0 402,184.9 403,184.8 404,184.8 405,184.7 406,184.6 407,184.6 408,184.5 409,184.5 410,184.4 411,184.4 412,184.3 413,184.3 414,184.3 415,184.3 416,184.3 417,184.3 418,184.3 419,184.4 420,184.4 421,184.5 422,184.5 423,184.6 424,184.6 425,184.7 426,184.8 427,184.8 428,184.9 429,185.0 430,185.1 431,185.2 432,185.2 433,185.3 434,185.4 435,185.5 436,185.5 437,185.6 438,185.7 439,185.7 440,185.8 441,185.9 442,185.9 443,186.0 444,186.0 445,186.1 446,186.1 447,186.2 448,186.3 449,186.5 450,186.8 451,187.2 452,187.8 453,188.6 454,189.7 455,191.1 456,192.8 457,194.8 458,196.9 459,199.1 460,201.2 461,203.0 462,204.4 463,205.2 464,205.2 465,204.6 466,203.2 467,201.4 468,199.2 469,196.9 470,194.7 471,192.7 472,190.9 473,189.5 474,188.5 475,187.7 476,187.2 477,186.8 478,186.6 479,186.5 480,186.4 481,186.3 482,186.3 483,186.3 484,186.3 485,186.3 486,186.3 487,186.3 488,186.3 489,186.3 490,186.3 491,186.3 492,186.3 493,186.3 494,186.3 495,186.3 496,186.3 497,186.3 498,186.3 499,186.3 500,186.3 501,186.3 502,186.3 503,186.3 504,186.3 505,186.3 506,186.3 507,186.3 508,186.3 509,186.3 510,186.3 511,186.3 512,186.3 513,186.3 514,186.3 515,186.3 516,186.3 517,186.3 518,186.3 519,186.3 520,186.3 521,186.3 522,186.3 523,186.3 524,186.3 525,186.3 526,186.3 527,186.3 528,186.3 529,186.3 530,186.3 531,186.3 532,186.3 533,186.3 534,186.3" fill="none" stroke="#f07000" stroke-width="1.50" stroke-linejoin="round"/>
<path d="M308,185.2 309,185.2 310,185.2 311,185.2 312,185.2 313,185.2 314,185.2 315,185.2 316,185.2 317,185.2 318,185.2 319,185.2 320,185.2 321,185.2 322,185.2 323,185.2 324,185.2 325,185.2 326,185.2 327,185.2 328,185.2 329,185.2 330,185.2 331,185.2 332,185.2 333,185.2 334,185.2 335,185.2 336,185.2 337,185.2 338,185.2 339,185.2 340,185.2 341,185.2 342,185.2 343,185.2 344,185.2 345,185.2 346,185.2 347,185.2 348,185.2 349,185.2 350,185.2 351,185.2 352,185.2 353,185.2 354,185.2 355,185.2 356,185.2 357,185.2 358,185.2 359,185.2 360,185.2 361,185.2 362,185.2 363,185.2 364,185.2 365,185.2 366,185.2 367,185.2 368,185.2 369,185.2 370,185.2 371,185.2 372,185.2 373,185.2 374,185.2 375,185.1 376,185.1 377,185.1 378,185.1 379,185.1 380,185.1 381,185.0 382,185.0 383,185.0 384,185.0 385,184.9 386,184.9 387,184.8 388,184.8 389,184.8 390,184.7 391,184.6 392,184.6 393,184.5 394,184.4 395,184.4 396,184.3 397,184.2 398,184.1 399,184.1 400,184.0 401,183.9 402,183.8 403,183.7 404,183.7 405,183.6 406,183.5 407,183.5 408,183.4 409,183.4 410,183.3 411,183.3 412,183.2 413,183.2 414,183.2 415,183.2 416,183.2 417,183.2 418,183.2 419,183.3 420,183.3 421,183.4 422,183.4 423,183.5 424,183.5 425,183.6 426,183.7 427,183.7 428,183.8 429,183.9 430,184.0 431,184.1 432,184.1 433,184.2 434,184.3 435,184.4 436,184.4 437,184.5 438,184.6 439,184.6 440,184.7 441,184.8 442,184.8 443,184.9 444,184.9 445,185.0 446,185.0 447,185.1 448,185.2 449,185.3 450,185.6 451,185.9 452,186.4 453,187.0 454,187.9 455,189.0 456,190.4 457,192.0 458,193.7 459,195.5 460,197.1 461,198.6 462,199.7 463,200.3 464,200.3 465,199.8 466,198.7 467,197.3 468,195.5 469,193.7 470,191.9 471,190.3 472,188.9 473,187.8 474,186.9 475,186.3 476,185.9 477,185.6 478,185.4 479,185.3 480,185.3 481,185.2 482,185.2 483,185.2 484,185.2 485,185.2 486,185.2 487,185.2 488,185.2 489,185.2 490,185.2 491,185.2 492,185.2 493,185.2 494,185.2 495,185.2 496,185.2 497,185.2 498,185.2 499,185.2 500,185.2 501,185.2 502,185.2 503,185.2 504,185.2 505,185.2 506,185.2 507,185.2 508,185.2 509,185.2 510,185.2 511,185.2 512,185.2 513,185.2 514,185.2 515,185.2 516,185.2 517,185.2 518,185.2 519,185.2 520,185.2 521,185.2 522,185.2 523,185.2 524,185.2 525,185.2 526,185.2 527,185.2 528,185.2 529,185.2 530,185.2 531,185.2 532,185.2 533,185.2 534,185.2" fill="none" stroke="#f88010" stroke-width="1.50" stroke-linejoin="round"/>
<path d="M308,185.3 309,185.3 310,185.3 311,185.3 312,185.3 313,185.3 314,185.3 315,185.3 316,185.3 317,185.3 318,185.3 319,185.3 320,185.3 321,185.3 322,185.3 323,185.3 324,185.3 325,185.3 326,185.3 327,185.3 328,185.3 329,185.3 330,185.3 331,185.3 332,185.3 333,185.3 334,185.3 335,185.3 336,185.3 337,185.3 338,185.3 339,185.3 340,185.3 341,185.3 342,185.3 343,185.3 344,185.3 345,185.3 346,185.3 347,185.3 348,185.3 349,185.3 350,185.3 351,185.3 352,185.3 353,185.3 354,185.3 355,185.3 356,185.3 357,185.3 358,185.3 359,185.3 360,185.3 361,185.3 362,185.3 363,185.3 364,185.3 365,185.3 366,185.3 367,185.3 368,185.3 369,185.3 370,185.3 371,185.3 372,185.3 373,185.3 374,185.3 375,185.2 376,185.2 377,185.2 378,185.2 379,185.2 380,185.2 381,185.1 382,185.1 383,185.1 384,185.1 385,185.0 386,185.0 387,184.9 388,184.9 389,184.9 390,184.8 391,184.7 392,184.7 393,184.6 394,184.5 395,184.5 396,184.4 397,184.3 398,184.2 399,184.2 400,184.1 401,184.0 402,183.9 403,183.8 404,183.8 405,183.7 406,183.6 407,183.6 408,183.5 409,183.5 410,183.4 411,183.4 412,183.3 413,183.3 414,183.3 415,183.3 416,183.3 417,183.3 418,183.3 419,183.4 420,183.4 421,183.5 422,183.5 423,183.6 424,183.6 425,183.7 426,183.8 427,183.8 428,183.9 429,184.0 430,184.1 431,184.2 432,184.2 433,184.3 434,184.4 435,184.5 436,184.5 437,184.6 438,184.7 439,184.7 440,184.8 441,184.9 442,184.9 443,185.0 444,185.0 445,185.0 446,185.1 447,185.2 448,185.2 449,185.4 450,185.5 451,185.8 452,186.2 453,186.6 454,187.3 455,188.1 456,189.2 457,190.4 458,191.7 459,193.0 460,194.2 461,195.3 462,196.2 463,196.6 464,196.7 465,196.3 466,195.5 467,194.3 468,193.0 469,191.7 470,190.3 471,189.1 472,188.1 473,187.2 474,186.6 475,186.1 476,185.8 477,185.6 478,185.5 479,185.4 480,185.4 481,185.3 482,185.3 483,185.3 484,185.3 485,185.3 486,185.3 487,185.3 488,185.3 489,185.3 490,185.3 491,185.3 492,185.3 493,185.3 494,185.3 495,185.3 496,185.3 497,185.3 498,185.3 499,185.3 500,185.3 501,185.3 502,185.3 503,185.3 504,185.3 505,185.3 506,185.3 507,185.3 508,185.3 509,185.3 510,185.3 511,185.3 512,185.3 513,185.3 514,185.3 515,185.3 516,185.3 517,185.3 518,185.3 519,185.3 520,185.3 521,185.3 522,185.3 523,185.3 524,185.3 525,185.3 526,185.3 527,185.3 528,185.3 529,185.3 530,185.3 531,185.3 532,185.3 533,185.3 534,185.3" fill="none" stroke="#ff9020" stroke-width="1.50" stroke-linejoin="round"/>
<path d="M308,185.5 309,185.5 310,185.5 311,185.5 312,185.5 313,185.5 314,185.5 315,185.5 316,185.5 317,185.5 318,185.5 319,185.5 320,185.5 321,185.5 322,185.5 323,185.5 324,185.5 325,185.5 326,185.5 327,185.5 328,185.5 329,185.5 330,185.5 331,185.5 332,185.5 333,185.5 334,185.5 335,185.5 336,185.5 337,185.5 338,185.5 339,185.5 340,185.5 341,185.5 342,185.5 343,185.5 344,185.5 345,185.5 346,185.5 347,185.5 348,185.5 349,185.5 350,185.5 351,185.5 352,185.5 353,185.5 354,185.5 355,185.5 356,185.5 357,185.5 358,185.5 359,185.5 360,185.5 361,185.5 362,185.5 363,185.5 364,185.5 365,185.5 366,185.5 367,185.5 368,185.5 369,185.5 370,185.5 371,185.5 372,185.5 373,185.5 374,185.5 375,185.5 376,185.5 377,185.5 378,185.5 379,185.4 380,185.4 381,185.4 382,185.4 383,185.3 384,185.3 385,185.3 386,185.2 387,185.2 388,185.2 389,185.1 390,185.1 391,185.0 392,184.9 393,184.9 394,184.8 395,184.7 396,184.7 397,184.6 398,184.5 399,184.4 400,184.3 401,184.3 402,184.2 403,184.1 404,184.0 405,183.9 406,183.9 407,183.8 408,183.8 409,183.7 410,183.7 411,183.6 412,183.6 413,183.6 414,183.6 415,183.6 416,183.6 417,183.6 418,183.6 419,183.6 420,183.7 421,183.7 422,183.8 423,183.8 424,183.9 425,183.9 426,184.0 427,184.1 428,184.2 429,184.3 430,184.3 431,184.4 432,184.5 433,184.6 434,184.7 435,184.7 436,184.8 437,184.9 438,184.9 439,185.0 440,185.1 441,185.1 442,185.2 443,185.2 444,185.2 445,185.3 446,185.3 447,185.4 448,185.5 449,185.5 450,185.7 451,185.8 452,186.1 453,186.4 454,186.9 455,187.4 456,188.1 457,188.9 458,189.8 459,190.7 460,191.5 461,192.2 462,192.8 463,193.1 464,193.1 465,192.9 466,192.3 467,191.6 468,190.7 469,189.8 470,188.9 471,188.1 472,187.4 473,186.8 474,186.4 475,186.1 476,185.9 477,185.8 478,185.7 479,185.6 480,185.6 481,185.6 482,185.6 483,185.6 484,185.6 485,185.6 486,185.6 487,185.6 488,185.6 489,185.6 490,185.5 491,185.5 492,185.5 493,185.5 494,185.5 495,185.5 496,185.5 497,185.5 498,185.5 499,185.5 500,185.5 501,185.5 502,185.5 503,185.5 504,185.5 505,185.5 506,185.5 507,185.5 508,185.5 509,185.5 510,185.5 511,185.5 512,185.5 513,185.5 514,185.5 515,185.5 516,185.5 517,185.5 518,185.5 519,185.5 520,185.5 521,185.5 522,185.5 523,185.5 524,185.5 525,185.5 526,185.5 527,185.5 528,185.5 529,185.5 530,185.5 531,185.5 532,185.5 533,185.5 534,185.5" fill="none" stroke="#ffa040" stroke-width="1.50" stroke-linejoin="round"/>
<path d="M308,185.8 309,185.8 310,185.8 311,185.8 312,185.8 313,185.8 314,185.8 315,185.8 316,185.8 317,185.8 318,185.8 319,185.8 320,185.8 321,185.8 322,185.8 323,185.8 324,185.8 325,185.8 326,185.8 327,185.8 328,185.8 329,185.8 330,185.8 331,185.8 332,185.8 333,185.8 334,185.8 335,185.8 336,185.8 337,185.8 338,185.8 339,185.8 340,185.8 341,185.8 342,185.8 343,185.8 344,185.8 345,185.8 346,185.8 347,185.8 348,185.8 349,185.8 350,185.8 351,185.8 352,185.8 353,185.8 354,185.8 355,185.8 356,185.8 357,185.8 358,185.8 359,185.8 360,185.8 361,185.8 362,185.8 363,185.8 364,185.8 365,185.8 366,185.8 367,185.8 368,185.8 369,185.8 370,185.8 371,185.8 372,185.8 373,185.8 374,185.8 375,185.7 376,185.7 377,185.7 378,185.7 379,185.7 380,185.7 381,185.6 382,185.6 383,185.6 384,185.6 385,185.5 386,185.5 387,185.4 388,185.4 389,185.4 390,185.3 391,185.2 392,185.2 393,185.1 394,185.0 395,185.0 396,184.9 397,184.8 398,184.7 399,184.7 400,184.6 401,184.5 402,184.4 403,184.3 404,184.3 405,184.2 406,184.1 407,184.1 408,184.0 409,184.0 410,183.9 411,183.9 412,183.8 413,183.8 414,183.8 415,183.8 416,183.8 417,183.8 418,183.8 419,183.9 420,183.9 421,184.0 422,184.0 423,184.1 424,184.1 425,184.2 426,184.3 427,184.3 428,184.4 429,184.5 430,184.6 431,184.7 432,184.7 433,184.8 434,184.9 435,185.0 436,185.0 437,185.1 438,185.2 439,185.2 440,185.3 441,185.4 442,185.4 443,185.5 444,185.5 445,185.5 446,185.6 447,185.6 448,185.6 449,185.7 450,185.7 451,185.8 452,185.9 453,186.0 454,186.1 455,186.2 456,186.4 457,186.6 458,186.8 459,187.1 460,187.3 461,187.5 462,187.6 463,187.7 464,187.7 465,187.6 466,187.5 467,187.3 468,187.1 469,186.9 470,186.6 471,186.4 472,186.3 473,186.1 474,186.0 475,185.9 476,185.9 477,185.9 478,185.8 479,185.8 480,185.8 481,185.8 482,185.8 483,185.8 484,185.8 485,185.8 486,185.8 487,185.8 488,185.8 489,185.8 490,185.8 491,185.8 492,185.8 493,185.8 494,185.8 495,185.8 496,185.8 497,185.8 498,185.8 499,185.8 500,185.8 501,185.8 502,185.8 503,185.8 504,185.8 505,185.8 506,185.8 507,185.8 508,185.8 509,185.8 510,185.8 511,185.8 512,185.8 513,185.8 514,185.8 515,185.8 516,185.8 517,185.8 518,185.8 519,185.8 520,185.8 521,185.8 522,185.8 523,185.8 524,185.8 525,185.8 526,185.8 527,185.8 528,185.8 529,185.8 530,185.8 531,185.8 532,185.8 533,185.8 534,185.8" fill="none" stroke="#ffa850" stroke-width="2.20" stroke-linejoin="round"/>
<path d="M308,149.5 309,149.5 310,149.5 311,149.5 312,149.5 313,149.5 314,149.5 315,149.5 316,149.5 317,149.5 318,149.5 319,149.5 320,149.5 321,149.5 322,149.5 323,149.5 324,149.5 325,149.5 326,149.5 327,149.5 328,149.5 329,149.5 330,149.5 331,149.5 332,149.5 333,149.5 334,149.5 335,149.5 336,149.5 337,149.5 338,149.5 339,149.5 340,149.5 341,149.5 342,149.5 343,149.5 344,149.5 345,149.5 346,149.5 347,149.5 348,149.5 349,149.5 350,149.4 351,149.4 352,149.4 353,149.4 354,149.4 355,149.4 356,149.3 357,149.3 358,149.3 359,149.2 360,149.2 361,149.2 362,149.1 363,149.1 364,149.1 365,149.0 366,149.0 367,148.9 368,148.9 369,148.8 370,148.7 371,148.7 372,148.6 373,148.5 374,148.5 375,148.4 376,148.3 377,148.3 378,148.2 379,148.1 380,148.0 381,148.0 382,147.9 383,147.8 384,147.7 385,147.7 386,147.6 387,147.5 388,147.5 389,147.4 390,147.3 391,147.3 392,147.2 393,147.2 394,147.2 395,147.1 396,147.1 397,147.1 398,147.1 399,147.1 400,147.1 401,147.1 402,147.1 403,147.1 404,147.1 405,147.1 406,147.2 407,147.2 408,147.2 409,147.3 410,147.3 411,147.4 412,147.5 413,147.5 414,147.6 415,147.7 416,147.7 417,147.8 418,147.9 419,148.0 420,148.0 421,148.1 422,148.2 423,148.3 424,148.3 425,148.4 426,148.5 427,148.6 428,148.7 429,148.8 430,149.0 431,149.3 432,149.6 433,150.2 434,150.9 435,152.0 436,153.3 437,154.9 438,156.9 439,159.0 440,161.2 441,163.3 442,165.2 443,166.5 444,167.2 445,167.2 446,166.4 447,164.9 448,162.9 449,160.6 450,158.2 451,156.1 452,154.2 453,152.6 454,151.4 455,150.5 456,149.8 457,149.3 458,149.0 459,148.8 460,148.8 461,148.9 462,149.1 463,149.2 464,149.3 465,149.4 466,149.5 467,149.5 468,149.5 469,149.5 470,149.5 471,149.5 472,149.5 473,149.5 474,149.5 475,149.5 476,149.5 477,149.5 478,149.5 479,149.5 480,149.5 481,149.5 482,149.5 483,149.5 484,149.5 485,149.5 486,149.5 487,149.5 488,149.5 489,149.5 490,149.5 491,149.5 492,149.5 493,149.5 494,149.5 495,149.5 496,149.5 497,149.5 498,149.5 499,149.5 500,149.5 501,149.5 502,149.5 503,149.5 504,149.5 505,149.5 506,149.5 507,149.5 508,149.5 509,149.5 510,149.5 511,149.5 512,149.5 513,149.5 514,149.5 515,149.5 516,149.5 517,149.5 518,149.5 519,149.5 520,149.5 521,149.5 522,149.5 523,149.5 524,149.5 525,149.5 526,149.5 527,149.5 528,149.5 529,149.5 530,149.5 531,149.5 532,149.5 533,149.5 534,149.5" fill="none" stroke="#f020a8" stroke-width="1.30" stroke-linejoin="round"/>
<path d="M308,149.8 309,149.8 310,149.8 311,149.8 312,149.8 313,149.8 314,149.8 315,149.8 316,149.8 317,149.8 318,149.8 319,149.8 320,149.8 321,149.8 322,149.8 323,149.8 324,149.8 325,149.8 326,149.8 327,149.8 328,149.8 329,149.8 330,149.8 331,149.8 332,149.8 333,149.8 334,149.8 335,149.8 336,149.8 337,149.8 338,149.8 339,149.8 340,149.8 341,149.8 342,149.8 343,149.8 344,149.8 345,149.7 346,149.7 347,149.7 348,149.7 349,149.7 350,149.7 351,149.7 352,149.7 353,149.6 354,149.6 355,149.6 356,149.6 357,149.6 358,149.5 359,149.5 360,149.5 361,149.4 362,149.4 363,149.3 364,149.3 365,149.3 366,149.2 367,149.2 368,149.1 369,149.0 370,149.0 371,148.9 372,148.9 373,148.8 374,148.7 375,148.7 376,148.6 377,148.5 378,148.4 379,148.4 380,148.3 381,148.2 382,148.1 383,148.1 384,148.0 385,147.9 386,147.8 387,147.8 388,147.7 389,147.7 390,147.6 391,147.5 392,147.5 393,147.4 394,147.4 395,147.4 396,147.3 397,147.3 398,147.3 399,147.3 400,147.3 401,147.3 402,147.3 403,147.3 404,147.3 405,147.4 406,147.4 407,147.4 408,147.5 409,147.5 410,147.6 411,147.7 412,147.7 413,147.8 414,147.8 415,147.9 416,148.0 417,148.1 418,148.1 419,148.2 420,148.3 421,148.4 422,148.4 423,148.5 424,148.6 425,148.7 426,148.7 427,148.8 428,148.9 429,149.1 430,149.2 431,149.4 432,149.8 433,150.2 434,150.9 435,151.8 436,152.9 437,154.3 438,156.0 439,157.8 440,159.7 441,161.5 442,163.0 443,164.2 444,164.8 445,164.8 446,164.1 447,162.8 448,161.1 449,159.2 450,157.2 451,155.3 452,153.7 453,152.4 454,151.3 455,150.5 456,149.9 457,149.5 458,149.2 459,149.1 460,149.1 461,149.2 462,149.3 463,149.5 464,149.6 465,149.7 466,149.7 467,149.8 468,149.8 469,149.8 470,149.8 471,149.8 472,149.8 473,149.8 474,149.8 475,149.8 476,149.8 477,149.8 478,149.8 479,149.8 480,149.8 481,149.8 482,149.8 483,149.8 484,149.8 485,149.8 486,149.8 487,149.8 488,149.8 489,149.8 490,149.8 491,149.8 492,149.8 493,149.8 494,149.8 495,149.8 496,149.8 497,149.8 498,149.8 499,149.8 500,149.8 501,149.8 502,149.8 503,149.8 504,149.8 505,149.8 506,149.8 507,149.8 508,149.8 509,149.8 510,149.8 511,149.8 512,149.8 513,149.8 514,149.8 515,149.8 516,149.8 517,149.8 518,149.8 519,149.8 520,149.8 521,149.8 522,149.8 523,149.8 524,149.8 525,149.8 526,149.8 527,149.8 528,149.8 529,149.8 530,149.8 531,149.8 532,149.8 533,149.8 534,149.8" fill="none" stroke="#f828b0" stroke-width="1.30" stroke-linejoin="round"/>
<path d="M308,148.7 309,148.7 310,148.7 311,148.7 312,148.7 313,148.7 314,148.7 315,148.7 316,148.7 317,148.7 318,148.7 319,148.7 320,148.7 321,148.7 322,148.7 323,148.7 324,148.7 325,148.7 326,148.7 327,148.7 328,148.7 329,148.7 330,148.7 331,148.7 332,148.7 333,148.7 334,148.7 335,148.7 336,148.7 337,148.7 338,148.7 339,148.7 340,148.7 341,148.7 342,148.7 343,148.7 344,148.7 345,148.6 346,148.6 347,148.6 348,148.6 349,148.6 350,148.6 351,148.6 352,148.6 353,148.5 354,148.5 355,148.5 356,148.5 357,148.5 358,148.4 359,148.4 360,148.4 361,148.3 362,148.3 363,148.2 364,148.2 365,148.2 366,148.1 367,148.1 368,148.0 369,147.9 370,147.9 371,147.8 372,147.8 373,147.7 374,147.6 375,147.6 376,147.5 377,147.4 378,147.3 379,147.3 380,147.2 381,147.1 382,147.0 383,147.0 384,146.9 385,146.8 386,146.7 387,146.7 388,146.6 389,146.6 390,146.5 391,146.4 392,146.4 393,146.3 394,146.3 395,146.3 396,146.2 397,146.2 398,146.2 399,146.2 400,146.2 401,146.2 402,146.2 403,146.2 404,146.2 405,146.3 406,146.3 407,146.3 408,146.4 409,146.4 410,146.5 411,146.6 412,146.6 413,146.7 414,146.7 415,146.8 416,146.9 417,147.0 418,147.0 419,147.1 420,147.2 421,147.3 422,147.3 423,147.4 424,147.5 425,147.6 426,147.6 427,147.7 428,147.8 429,147.9 430,148.1 431,148.3 432,148.5 433,148.9 434,149.4 435,150.1 436,151.0 437,152.0 438,153.3 439,154.7 440,156.2 441,157.6 442,158.7 443,159.6 444,160.1 445,160.1 446,159.6 447,158.6 448,157.3 449,155.8 450,154.3 451,152.9 452,151.7 453,150.6 454,149.8 455,149.2 456,148.7 457,148.3 458,148.1 459,147.9 460,148.0 461,148.1 462,148.2 463,148.4 464,148.5 465,148.6 466,148.6 467,148.7 468,148.7 469,148.7 470,148.7 471,148.7 472,148.7 473,148.7 474,148.7 475,148.7 476,148.7 477,148.7 478,148.7 479,148.7 480,148.7 481,148.7 482,148.7 483,148.7 484,148.7 485,148.7 486,148.7 487,148.7 488,148.7 489,148.7 490,148.7 491,148.7 492,148.7 493,148.7 494,148.7 495,148.7 496,148.7 497,148.7 498,148.7 499,148.7 500,148.7 501,148.7 502,148.7 503,148.7 504,148.7 505,148.7 506,148.7 507,148.7 508,148.7 509,148.7 510,148.7 511,148.7 512,148.7 513,148.7 514,148.7 515,148.7 516,148.7 517,148.7 518,148.7 519,148.7 520,148.7 521,148.7 522,148.7 523,148.7 524,148.7 525,148.7 526,148.7 527,148.7 528,148.7 529,148.7 530,148.7 531,148.7 532,148.7 533,148.7 534,148.7" fill="none" stroke="#ff30b8" stroke-width="1.30" stroke-linejoin="round"/>
<path d="M308,148.8 309,148.8 310,148.8 311,148.8 312,148.8 313,148.8 314,148.8 315,148.8 316,148.8 317,148.8 318,148.8 319,148.8 320,148.8 321,148.8 322,148.8 323,148.8 324,148.8 325,148.8 326,148.8 327,148.8 328,148.8 329,148.8 330,148.8 331,148.8 332,148.8 333,148.8 334,148.8 335,148.8 336,148.8 337,148.8 338,148.8 339,148.8 340,148.8 341,148.8 342,148.8 343,148.8 344,148.8 345,148.7 346,148.7 347,148.7 348,148.7 349,148.7 350,148.7 351,148.7 352,148.7 353,148.6 354,148.6 355,148.6 356,148.6 357,148.6 358,148.5 359,148.5 360,148.5 361,148.4 362,148.4 363,148.3 364,148.3 365,148.3 366,148.2 367,148.2 368,148.1 369,148.0 370,148.0 371,147.9 372,147.9 373,147.8 374,147.7 375,147.7 376,147.6 377,147.5 378,147.4 379,147.4 380,147.3 381,147.2 382,147.1 383,147.1 384,147.0 385,146.9 386,146.8 387,146.8 388,146.7 389,146.7 390,146.6 391,146.5 392,146.5 393,146.4 394,146.4 395,146.4 396,146.3 397,146.3 398,146.3 399,146.3 400,146.3 401,146.3 402,146.3 403,146.3 404,146.3 405,146.4 406,146.4 407,146.4 408,146.5 409,146.5 410,146.6 411,146.7 412,146.7 413,146.8 414,146.8 415,146.9 416,147.0 417,147.1 418,147.1 419,147.2 420,147.3 421,147.4 422,147.4 423,147.5 424,147.6 425,147.7 426,147.7 427,147.8 428,147.9 429,148.0 430,148.1 431,148.2 432,148.4 433,148.7 434,149.0 435,149.4 436,150.0 437,150.7 438,151.5 439,152.4 440,153.3 441,154.1 442,154.9 443,155.4 444,155.7 445,155.8 446,155.4 447,154.9 448,154.0 449,153.1 450,152.2 451,151.3 452,150.6 453,149.9 454,149.4 455,148.9 456,148.6 457,148.3 458,148.1 459,148.0 460,148.0 461,148.1 462,148.3 463,148.5 464,148.6 465,148.7 466,148.7 467,148.8 468,148.8 469,148.8 470,148.8 471,148.8 472,148.8 473,148.8 474,148.8 475,148.8 476,148.8 477,148.8 478,148.8 479,148.8 480,148.8 481,148.8 482,148.8 483,148.8 484,148.8 485,148.8 486,148.8 487,148.8 488,148.8 489,148.8 490,148.8 491,148.8 492,148.8 493,148.8 494,148.8 495,148.8 496,148.8 497,148.8 498,148.8 499,148.8 500,148.8 501,148.8 502,148.8 503,148.8 504,148.8 505,148.8 506,148.8 507,148.8 508,148.8 509,148.8 510,148.8 511,148.8 512,148.8 513,148.8 514,148.8 515,148.8 516,148.8 517,148.8 518,148.8 519,148.8 520,148.8 521,148.8 522,148.8 523,148.8 524,148.8 525,148.8 526,148.8 527,148.8 528,148.8 529,148.8 530,148.8 531,148.8 532,148.8 533,148.8 534,148.8" fill="none" stroke="#ff40c0" stroke-width="1.30" stroke-linejoin="round"/>
<path d="M308,149.0 309,149.0 310,149.0 311,149.0 312,149.0 313,149.0 314,149.0 315,149.0 316,149.0 317,149.0 318,149.0 319,149.0 320,149.0 321,149.0 322,149.0 323,149.0 324,149.0 325,149.0 326,149.0 327,149.0 328,149.0 329,149.0 330,149.0 331,149.0 332,149.0 333,149.0 334,149.0 335,149.0 336,149.0 337,149.0 338,149.0 339,149.0 340,149.0 341,149.0 342,149.0 343,149.0 344,149.0 345,149.0 346,149.0 347,149.0 348,149.0 349,149.0 350,148.9 351,148.9 352,148.9 353,148.9 354,148.9 355,148.9 356,148.8 357,148.8 358,148.8 359,148.7 360,148.7 361,148.7 362,148.6 363,148.6 364,148.6 365,148.5 366,148.5 367,148.4 368,148.4 369,148.3 370,148.2 371,148.2 372,148.1 373,148.0 374,148.0 375,147.9 376,147.8 377,147.8 378,147.7 379,147.6 380,147.5 381,147.5 382,147.4 383,147.3 384,147.2 385,147.2 386,147.1 387,147.0 388,147.0 389,146.9 390,146.8 391,146.8 392,146.7 393,146.7 394,146.7 395,146.6 396,146.6 397,146.6 398,146.6 399,146.6 400,146.6 401,146.6 402,146.6 403,146.6 404,146.6 405,146.6 406,146.7 407,146.7 408,146.7 409,146.8 410,146.8 411,146.9 412,147.0 413,147.0 414,147.1 415,147.2 416,147.2 417,147.3 418,147.4 419,147.5 420,147.5 421,147.6 422,147.7 423,147.8 424,147.8 425,147.9 426,148.0 427,148.0 428,148.1 429,148.2 430,148.3 431,148.3 432,148.4 433,148.5 434,148.7 435,148.8 436,149.0 437,149.2 438,149.4 439,149.7 440,149.9 441,150.2 442,150.4 443,150.5 444,150.6 445,150.6 446,150.6 447,150.4 448,150.3 449,150.0 450,149.8 451,149.6 452,149.4 453,149.2 454,149.0 455,148.8 456,148.6 457,148.4 458,148.3 459,148.2 460,148.3 461,148.4 462,148.5 463,148.7 464,148.8 465,148.9 466,149.0 467,149.0 468,149.0 469,149.0 470,149.0 471,149.0 472,149.0 473,149.0 474,149.0 475,149.0 476,149.0 477,149.0 478,149.0 479,149.0 480,149.0 481,149.0 482,149.0 483,149.0 484,149.0 485,149.0 486,149.0 487,149.0 488,149.0 489,149.0 490,149.0 491,149.0 492,149.0 493,149.0 494,149.0 495,149.0 496,149.0 497,149.0 498,149.0 499,149.0 500,149.0 501,149.0 502,149.0 503,149.0 504,149.0 505,149.0 506,149.0 507,149.0 508,149.0 509,149.0 510,149.0 511,149.0 512,149.0 513,149.0 514,149.0 515,149.0 516,149.0 517,149.0 518,149.0 519,149.0 520,149.0 521,149.0 522,149.0 523,149.0 524,149.0 525,149.0 526,149.0 527,149.0 528,149.0 529,149.0 530,149.0 531,149.0 532,149.0 533,149.0 534,149.0" fill="none" stroke="#ff50c4" stroke-width="1.30" stroke-linejoin="round"/>
<path d="M308,113.7 309,113.8 310,113.7 311,113.9 312,113.9 313,113.6 314,113.6 315,114.0 316,113.7 317,113.7 318,114.0 319,113.8 320,114.0 321,113.8 322,113.9 323,113.6 324,113.9 325,114.0 326,113.8 327,113.9 328,113.9 329,113.6 330,113.9 331,113.8 332,113.7 333,113.5 334,113.9 335,113.7 336,113.8 337,113.9 338,113.8 339,113.9 340,113.6 341,113.8 342,113.6 343,113.8 344,113.8 345,113.3 346,113.3 347,113.3 348,113.6 349,113.3 350,113.4 351,113.1 352,113.2 353,113.1 354,113.0 355,113.0 356,112.9 357,113.0 358,112.8 359,112.9 360,112.8 361,112.8 362,112.5 363,112.2 364,112.5 365,112.4 366,112.3 367,112.1 368,112.1 369,111.8 370,112.1 371,111.9 372,111.7 373,111.6 374,112.0 375,112.0 376,111.6 377,112.0 378,111.8 379,111.7 380,111.8 381,112.1 382,112.2 383,111.8 384,112.2 385,112.0 386,112.4 387,112.3 388,112.6 389,112.7 390,112.6 391,112.9 392,112.6 393,112.6 394,112.8 395,112.5 396,112.5 397,112.3 398,112.0 399,111.2 400,110.4 401,109.8 402,108.5 403,107.9 404,107.2 405,106.5 406,106.6 407,107.1 408,108.0 409,109.0 410,110.1 411,111.4 412,112.8 413,113.9 414,115.3 415,117.3 416,119.2 417,121.7 418,124.7 419,127.0 420,129.1 421,129.9 422,130.1 423,129.1 424,126.8 425,124.6 426,122.0 427,119.3 428,117.5 429,115.8 430,114.8 431,113.9 432,113.7 433,113.5 434,113.2 435,113.3 436,113.7 437,114.0 438,113.6 439,113.8 440,113.8 441,113.7 442,113.7 443,113.7 444,113.7 445,113.8 446,113.7 447,113.7 448,113.9 449,113.6 450,113.8 451,113.9 452,113.7 453,113.7 454,114.0 455,113.7 456,113.6 457,113.8 458,113.9 459,113.6 460,113.7 461,113.7 462,114.0 463,113.8 464,114.0 465,113.6 466,113.7 467,113.9 468,114.0 469,113.8 470,113.7 471,113.6 472,113.8 473,113.6 474,114.0 475,114.0 476,113.6 477,113.7 478,114.0 479,113.9 480,114.0 481,113.7 482,113.6 483,113.7 484,113.9 485,113.7 486,113.7 487,113.8 488,113.8 489,113.8 490,114.0 491,113.6 492,113.6 493,114.0 494,114.0 495,114.0 496,113.8 497,114.0 498,114.0 499,113.7 500,113.9 501,114.0 502,113.9 503,113.8 504,113.7 505,113.7 506,113.7 507,113.6 508,113.8 509,113.7 510,114.0 511,113.6 512,114.0 513,113.9 514,114.0 515,114.0 516,114.0 517,113.8 518,113.6 519,113.9 520,113.6 521,113.7 522,113.9 523,113.8 524,113.8 525,114.0 526,113.9 527,113.7 528,113.7 529,114.0 530,113.8 531,113.9 532,113.7 533,113.6 534,113.8" fill="none" stroke="#0c5c58" stroke-width="1.20" stroke-linejoin="round"/>
<path d="M308,114.2 309,113.9 310,114.2 311,114.3 312,114.2 313,114.2 314,113.8 315,114.1 316,114.2 317,113.8 318,113.9 319,113.9 320,114.1 321,114.0 322,114.0 323,114.2 324,113.8 325,113.8 326,113.9 327,113.9 328,113.8 329,114.3 330,114.2 331,113.8 332,114.0 333,113.9 334,113.9 335,113.9 336,114.1 337,114.0 338,113.9 339,113.8 340,113.8 341,113.7 342,113.9 343,114.0 344,113.8 345,113.6 346,113.6 347,113.6 348,113.7 349,113.7 350,113.5 351,113.6 352,113.5 353,113.3 354,113.2 355,113.2 356,113.3 357,113.0 358,113.1 359,112.9 360,112.7 361,112.8 362,112.8 363,112.4 364,112.5 365,112.4 366,112.6 367,112.5 368,112.2 369,112.4 370,112.3 371,112.0 372,112.1 373,111.9 374,112.2 375,112.1 376,112.2 377,112.2 378,112.2 379,112.2 380,112.2 381,112.0 382,112.3 383,112.1 384,112.2 385,112.6 386,112.3 387,112.4 388,112.5 389,112.9 390,112.7 391,112.7 392,113.1 393,112.8 394,113.2 395,113.1 396,113.1 397,113.0 398,112.5 399,112.1 400,111.1 401,110.8 402,109.8 403,109.2 404,108.3 405,108.3 406,108.5 407,108.4 408,109.2 409,110.2 410,111.2 411,111.9 412,112.9 413,114.0 414,115.3 415,116.8 416,118.4 417,120.4 418,122.6 419,124.6 420,126.2 421,126.9 422,127.1 423,126.5 424,124.6 425,122.8 426,120.4 427,118.7 428,117.1 429,115.7 430,114.7 431,114.1 432,113.8 433,113.8 434,113.5 435,113.6 436,114.0 437,114.2 438,114.0 439,114.0 440,114.2 441,113.9 442,113.9 443,113.9 444,114.1 445,114.0 446,113.9 447,114.1 448,114.3 449,113.9 450,114.2 451,114.0 452,114.2 453,114.1 454,113.9 455,113.9 456,113.8 457,114.0 458,114.0 459,113.9 460,114.0 461,114.0 462,114.2 463,113.9 464,114.3 465,114.0 466,114.1 467,114.0 468,114.2 469,114.2 470,114.1 471,114.0 472,114.2 473,114.2 474,114.0 475,114.2 476,114.3 477,114.0 478,113.9 479,113.9 480,114.2 481,114.1 482,114.3 483,114.2 484,113.9 485,113.9 486,113.9 487,113.9 488,114.2 489,114.2 490,114.2 491,113.9 492,114.2 493,114.0 494,114.0 495,114.2 496,113.8 497,113.8 498,114.2 499,113.9 500,114.0 501,114.1 502,114.1 503,113.8 504,114.0 505,114.0 506,114.0 507,113.9 508,114.1 509,114.3 510,114.0 511,114.1 512,113.9 513,113.9 514,114.1 515,113.9 516,114.2 517,114.3 518,113.8 519,114.3 520,114.0 521,114.2 522,114.2 523,113.9 524,114.1 525,114.1 526,114.2 527,113.9 528,114.2 529,114.3 530,114.1 531,114.1 532,113.9 533,114.0 534,114.0" fill="none" stroke="#15807d" stroke-width="1.20" stroke-linejoin="round"/>
<path d="M308,114.4 309,114.4 310,114.3 311,114.1 312,114.4 313,114.4 314,114.1 315,114.5 316,114.4 317,114.1 318,114.5 319,114.1 320,114.2 321,114.4 322,114.3 323,114.3 324,114.4 325,114.3 326,114.2 327,114.1 328,114.1 329,114.4 330,114.4 331,114.3 332,114.4 333,114.2 334,114.1 335,114.2 336,114.4 337,114.0 338,114.2 339,114.1 340,114.3 341,114.1 342,114.0 343,114.0 344,114.1 345,114.2 346,113.9 347,114.1 348,113.7 349,113.7 350,113.6 351,113.6 352,113.8 353,113.7 354,113.4 355,113.3 356,113.4 357,113.4 358,113.4 359,113.3 360,113.1 361,112.8 362,112.9 363,112.7 364,112.8 365,112.7 366,112.5 367,112.4 368,112.6 369,112.2 370,112.6 371,112.6 372,112.6 373,112.3 374,112.3 375,112.3 376,112.4 377,112.6 378,112.4 379,112.3 380,112.6 381,112.4 382,112.6 383,112.7 384,112.4 385,112.8 386,112.9 387,112.8 388,112.9 389,113.0 390,112.9 391,113.2 392,113.0 393,113.3 394,113.4 395,113.3 396,113.4 397,113.4 398,113.2 399,112.5 400,112.5 401,111.9 402,111.1 403,110.7 404,110.3 405,110.0 406,110.3 407,110.7 408,110.9 409,111.7 410,112.3 411,112.7 412,113.8 413,114.3 414,115.3 415,116.2 416,117.4 417,118.6 418,120.3 419,121.8 420,122.8 421,123.2 422,123.4 423,122.7 424,121.4 425,120.0 426,118.6 427,117.2 428,116.1 429,115.3 430,114.7 431,114.2 432,113.9 433,113.9 434,113.8 435,114.0 436,114.3 437,114.2 438,114.1 439,114.5 440,114.4 441,114.2 442,114.2 443,114.3 444,114.3 445,114.2 446,114.1 447,114.2 448,114.4 449,114.1 450,114.3 451,114.1 452,114.2 453,114.1 454,114.3 455,114.1 456,114.1 457,114.1 458,114.1 459,114.3 460,114.1 461,114.1 462,114.3 463,114.3 464,114.4 465,114.1 466,114.3 467,114.2 468,114.1 469,114.5 470,114.2 471,114.1 472,114.3 473,114.1 474,114.4 475,114.2 476,114.1 477,114.1 478,114.4 479,114.2 480,114.4 481,114.3 482,114.5 483,114.2 484,114.2 485,114.2 486,114.5 487,114.4 488,114.2 489,114.1 490,114.4 491,114.5 492,114.3 493,114.1 494,114.1 495,114.1 496,114.1 497,114.1 498,114.1 499,114.4 500,114.5 501,114.2 502,114.5 503,114.3 504,114.5 505,114.5 506,114.5 507,114.1 508,114.2 509,114.4 510,114.5 511,114.1 512,114.2 513,114.5 514,114.1 515,114.2 516,114.2 517,114.4 518,114.5 519,114.1 520,114.4 521,114.4 522,114.5 523,114.3 524,114.5 525,114.2 526,114.3 527,114.2 528,114.4 529,114.3 530,114.2 531,114.1 532,114.4 533,114.4 534,114.4" fill="none" stroke="#1a9090" stroke-width="1.20" stroke-linejoin="round"/>
<path d="M308,113.1 309,113.2 310,113.0 311,113.3 312,113.0 313,113.2 314,113.3 315,113.3 316,113.0 317,113.1 318,113.4 319,113.3 320,113.4 321,113.4 322,113.2 323,113.4 324,113.3 325,113.1 326,113.1 327,113.0 328,113.1 329,113.4 330,113.0 331,113.2 332,113.0 333,113.0 334,113.2 335,113.0 336,112.9 337,112.9 338,113.2 339,113.1 340,112.8 341,112.9 342,113.3 343,112.9 344,113.0 345,112.9 346,113.0 347,112.9 348,112.9 349,112.8 350,112.5 351,112.5 352,112.4 353,112.7 354,112.3 355,112.1 356,112.5 357,112.1 358,112.3 359,111.9 360,112.0 361,111.8 362,112.0 363,111.8 364,111.7 365,111.7 366,111.7 367,111.4 368,111.5 369,111.3 370,111.1 371,111.4 372,111.3 373,111.4 374,111.1 375,111.2 376,111.2 377,111.3 378,111.0 379,111.2 380,111.3 381,111.1 382,111.4 383,111.6 384,111.5 385,111.7 386,111.7 387,111.6 388,111.8 389,112.2 390,111.9 391,112.0 392,111.9 393,112.1 394,112.1 395,112.5 396,112.4 397,112.4 398,112.4 399,112.0 400,112.0 401,111.5 402,111.1 403,111.1 404,110.8 405,110.7 406,110.5 407,110.9 408,111.0 409,111.7 410,112.0 411,112.2 412,112.9 413,113.0 414,113.5 415,114.4 416,115.0 417,116.0 418,117.0 419,117.6 420,118.6 421,118.8 422,118.9 423,118.5 424,118.0 425,117.1 426,115.9 427,114.9 428,114.3 429,113.7 430,113.0 431,112.7 432,112.9 433,112.8 434,113.0 435,113.2 436,113.2 437,113.1 438,113.0 439,113.1 440,113.2 441,113.2 442,113.2 443,113.1 444,113.4 445,113.1 446,113.2 447,113.4 448,113.4 449,113.1 450,113.1 451,113.4 452,113.0 453,113.0 454,113.2 455,113.2 456,113.0 457,113.0 458,113.1 459,113.3 460,113.2 461,113.4 462,113.3 463,113.4 464,113.0 465,113.0 466,113.0 467,113.2 468,113.1 469,113.0 470,113.2 471,113.0 472,113.1 473,113.1 474,113.4 475,113.2 476,113.1 477,113.0 478,113.2 479,113.3 480,113.3 481,113.4 482,113.4 483,113.1 484,113.0 485,113.3 486,113.3 487,113.2 488,113.4 489,113.2 490,113.1 491,113.0 492,113.0 493,113.3 494,113.4 495,113.4 496,113.2 497,113.3 498,113.4 499,113.4 500,113.3 501,113.2 502,113.2 503,113.0 504,113.0 505,113.3 506,113.4 507,113.2 508,113.2 509,113.1 510,113.2 511,113.4 512,113.2 513,113.4 514,113.0 515,113.1 516,113.2 517,113.2 518,113.4 519,113.4 520,113.4 521,113.3 522,113.0 523,113.2 524,113.2 525,113.2 526,113.1 527,113.3 528,113.4 529,113.0 530,113.3 531,113.1 532,113.2 533,113.4 534,113.4" fill="none" stroke="#22a0a0" stroke-width="1.20" stroke-linejoin="round"/>
<path d="M308,113.4 309,113.1 310,113.5 311,113.1 312,113.2 313,113.5 314,113.2 315,113.2 316,113.5 317,113.5 318,113.2 319,113.2 320,113.2 321,113.1 322,113.2 323,113.5 324,113.1 325,113.2 326,113.1 327,113.1 328,113.3 329,113.4 330,113.4 331,113.3 332,113.4 333,113.0 334,113.1 335,113.5 336,113.0 337,113.1 338,113.2 339,113.1 340,113.2 341,112.9 342,113.0 343,113.3 344,112.9 345,113.2 346,112.8 347,113.2 348,113.0 349,112.9 350,112.6 351,112.5 352,112.8 353,112.5 354,112.4 355,112.6 356,112.6 357,112.1 358,112.5 359,112.2 360,112.0 361,111.8 362,111.9 363,112.1 364,111.7 365,111.5 366,111.5 367,111.4 368,111.4 369,111.7 370,111.2 371,111.2 372,111.6 373,111.6 374,111.5 375,111.2 376,111.2 377,111.5 378,111.3 379,111.5 380,111.3 381,111.2 382,111.4 383,111.7 384,111.8 385,111.7 386,111.8 387,111.9 388,111.9 389,112.0 390,112.3 391,112.0 392,112.3 393,112.5 394,112.6 395,112.3 396,112.7 397,112.7 398,112.4 399,112.4 400,112.4 401,112.3 402,112.7 403,112.3 404,112.5 405,112.1 406,112.1 407,112.6 408,112.7 409,112.9 410,112.9 411,113.0 412,113.2 413,113.0 414,113.4 415,113.6 416,113.6 417,114.1 418,114.3 419,114.6 420,114.7 421,114.8 422,114.8 423,114.9 424,114.9 425,114.6 426,114.3 427,114.0 428,113.4 429,113.5 430,112.9 431,112.6 432,112.7 433,112.9 434,112.8 435,113.1 436,113.0 437,113.5 438,113.2 439,113.3 440,113.3 441,113.5 442,113.5 443,113.3 444,113.3 445,113.4 446,113.1 447,113.3 448,113.5 449,113.4 450,113.1 451,113.5 452,113.2 453,113.5 454,113.2 455,113.2 456,113.3 457,113.5 458,113.3 459,113.5 460,113.4 461,113.2 462,113.2 463,113.3 464,113.2 465,113.2 466,113.4 467,113.5 468,113.3 469,113.1 470,113.2 471,113.2 472,113.4 473,113.1 474,113.1 475,113.2 476,113.2 477,113.1 478,113.3 479,113.5 480,113.3 481,113.4 482,113.5 483,113.5 484,113.5 485,113.3 486,113.4 487,113.1 488,113.5 489,113.2 490,113.3 491,113.5 492,113.2 493,113.1 494,113.5 495,113.3 496,113.1 497,113.1 498,113.2 499,113.1 500,113.5 501,113.1 502,113.2 503,113.2 504,113.3 505,113.3 506,113.4 507,113.4 508,113.3 509,113.1 510,113.5 511,113.4 512,113.1 513,113.3 514,113.4 515,113.5 516,113.1 517,113.1 518,113.3 519,113.3 520,113.5 521,113.5 522,113.2 523,113.3 524,113.3 525,113.5 526,113.2 527,113.2 528,113.1 529,113.4 530,113.1 531,113.5 532,113.3 533,113.3 534,113.1" fill="none" stroke="#2aa8a8" stroke-width="1.20" stroke-linejoin="round"/>
<path d="M308,77.0 309,77.2 310,77.5 311,77.3 312,77.2 313,77.8 314,77.6 315,77.7 316,77.6 317,77.8 318,78.3 319,77.9 320,78.4 321,78.6 322,78.5 323,78.8 324,78.9 325,78.9 326,78.7 327,78.3 328,78.0 329,78.1 330,77.9 331,77.7 332,78.0 333,77.4 334,77.7 335,77.7 336,77.0 337,77.5 338,77.1 339,76.9 340,76.8 341,76.7 342,76.9 343,76.8 344,77.1 345,77.0 346,76.4 347,76.5 348,76.4 349,76.1 350,76.0 351,75.9 352,76.0 353,75.6 354,75.2 355,75.0 356,74.9 357,74.7 358,74.2 359,74.2 360,73.5 361,73.5 362,73.1 363,72.4 364,72.4 365,71.8 366,71.6 367,71.2 368,70.9 369,70.5 370,69.9 371,70.1 372,69.9 373,69.5 374,69.4 375,69.1 376,69.4 377,69.2 378,69.1 379,70.0 380,70.8 381,71.2 382,72.6 383,73.2 384,73.9 385,75.1 386,75.6 387,76.6 388,77.5 389,78.5 390,80.7 391,83.6 392,86.4 393,89.5 394,92.0 395,92.5 396,91.4 397,88.5 398,84.9 399,80.6 400,77.0 401,74.5 402,71.7 403,69.7 404,69.4 405,69.8 406,70.7 407,72.6 408,74.1 409,75.3 410,75.9 411,76.2 412,77.0 413,77.2 414,77.0 415,77.1 416,77.1 417,76.9 418,77.2 419,77.1 420,77.0 421,76.8 422,77.1 423,77.0 424,77.3 425,76.9 426,77.0 427,76.9 428,77.0 429,77.1 430,76.8 431,76.8 432,77.1 433,76.9 434,77.1 435,76.9 436,76.8 437,77.1 438,77.4 439,77.4 440,77.1 441,77.0 442,76.8 443,76.9 444,77.0 445,77.4 446,76.8 447,77.4 448,77.1 449,77.0 450,76.9 451,77.4 452,76.9 453,77.1 454,77.1 455,76.9 456,76.9 457,77.4 458,77.3 459,77.2 460,77.4 461,76.8 462,77.2 463,77.3 464,76.9 465,77.1 466,77.4 467,77.0 468,77.3 469,76.8 470,77.2 471,76.9 472,77.1 473,77.0 474,77.3 475,77.2 476,77.1 477,77.2 478,77.0 479,77.3 480,76.9 481,77.1 482,77.1 483,77.0 484,76.8 485,76.8 486,77.2 487,76.9 488,77.3 489,77.1 490,77.4 491,77.3 492,77.2 493,77.0 494,76.7 495,77.1 496,77.2 497,77.4 498,76.9 499,76.8 500,77.4 501,77.2 502,77.1 503,77.2 504,76.8 505,77.1 506,77.2 507,77.1 508,76.8 509,76.8 510,77.1 511,77.3 512,76.8 513,76.7 514,76.8 515,77.3 516,77.0 517,77.0 518,77.4 519,77.1 520,76.9 521,77.2 522,76.7 523,76.9 524,77.2 525,76.8 526,76.7 527,77.1 528,76.9 529,77.4 530,76.8 531,77.3 532,77.0 533,77.3 534,77.0" fill="none" stroke="#760000" stroke-width="1.20" stroke-linejoin="round"/>
<path d="M308,77.6 309,77.3 310,77.3 311,77.5 312,77.8 313,77.6 314,77.6 315,77.8 316,77.7 317,78.0 318,78.4 319,78.5 320,78.7 321,78.6 322,78.5 323,78.5 324,78.8 325,78.7 326,78.9 327,78.5 328,78.8 329,78.5 330,78.4 331,78.3 332,78.0 333,77.8 334,77.6 335,77.3 336,77.7 337,77.5 338,77.1 339,77.7 340,77.4 341,77.4 342,77.2 343,76.9 344,77.5 345,76.8 346,76.9 347,77.3 348,76.6 349,76.7 350,76.6 351,76.3 352,76.6 353,76.1 354,75.6 355,75.7 356,75.2 357,75.4 358,75.3 359,75.1 360,74.2 361,74.3 362,73.7 363,73.5 364,73.1 365,72.8 366,72.4 367,72.4 368,71.7 369,72.1 370,71.2 371,71.6 372,70.8 373,70.6 374,70.9 375,70.7 376,70.8 377,70.6 378,70.8 379,70.8 380,71.8 381,72.4 382,73.6 383,73.7 384,74.5 385,75.6 386,76.5 387,76.8 388,77.8 389,78.8 390,80.3 391,82.6 392,85.3 393,87.5 394,89.7 395,90.7 396,89.4 397,87.0 398,83.6 399,80.4 400,77.6 401,75.1 402,73.1 403,71.2 404,70.4 405,70.8 406,71.6 407,73.0 408,74.6 409,75.7 410,76.3 411,76.7 412,76.9 413,77.1 414,77.3 415,77.2 416,77.6 417,77.4 418,77.2 419,77.3 420,77.0 421,77.5 422,77.5 423,77.3 424,77.5 425,77.2 426,77.2 427,77.2 428,77.1 429,77.4 430,77.4 431,77.5 432,77.1 433,77.5 434,77.3 435,77.3 436,77.3 437,77.3 438,77.1 439,77.3 440,77.4 441,77.5 442,77.6 443,77.1 444,77.6 445,77.5 446,77.5 447,77.7 448,77.1 449,77.5 450,77.6 451,77.1 452,77.4 453,77.6 454,77.2 455,77.6 456,77.6 457,77.3 458,77.1 459,77.1 460,77.6 461,77.3 462,77.2 463,77.3 464,77.6 465,77.2 466,77.0 467,77.6 468,77.2 469,77.2 470,77.7 471,77.2 472,77.0 473,77.6 474,77.1 475,77.1 476,77.6 477,77.1 478,77.6 479,77.2 480,77.2 481,77.1 482,77.4 483,77.4 484,77.3 485,77.3 486,77.2 487,77.6 488,77.6 489,77.5 490,77.5 491,77.0 492,77.1 493,77.1 494,77.1 495,77.6 496,77.6 497,77.6 498,77.4 499,77.0 500,77.3 501,77.0 502,77.6 503,77.1 504,77.2 505,77.6 506,77.1 507,77.6 508,77.2 509,77.4 510,77.0 511,77.6 512,77.2 513,77.2 514,77.4 515,77.4 516,77.1 517,77.0 518,77.4 519,77.0 520,77.6 521,77.2 522,77.1 523,77.2 524,77.0 525,77.2 526,77.3 527,77.2 528,77.2 529,77.2 530,77.3 531,77.5 532,77.3 533,77.5 534,77.3" fill="none" stroke="#980000" stroke-width="1.20" stroke-linejoin="round"/>
<path d="M308,77.4 309,77.5 310,78.0 311,77.8 312,77.8 313,77.9 314,78.3 315,78.0 316,78.2 317,78.3 318,78.2 319,78.7 320,78.8 321,79.0 322,79.0 323,79.1 324,79.3 325,78.9 326,79.4 327,78.7 328,79.1 329,78.5 330,78.7 331,78.2 332,77.9 333,78.1 334,78.2 335,78.1 336,78.1 337,78.1 338,77.4 339,77.5 340,77.3 341,77.7 342,77.5 343,77.6 344,77.6 345,77.7 346,77.4 347,77.5 348,77.2 349,76.8 350,77.3 351,76.6 352,76.5 353,76.8 354,76.3 355,76.4 356,75.8 357,75.7 358,75.9 359,75.2 360,75.3 361,75.3 362,74.5 363,74.6 364,74.4 365,74.1 366,73.9 367,73.6 368,72.9 369,72.8 370,72.8 371,72.9 372,72.2 373,72.3 374,71.9 375,72.3 376,72.0 377,72.0 378,72.2 379,72.2 380,73.1 381,73.8 382,74.5 383,74.7 384,75.3 385,75.9 386,76.9 387,77.1 388,77.8 389,78.8 390,80.3 391,81.8 392,84.0 393,86.5 394,88.1 395,88.3 396,87.4 397,85.9 398,83.0 399,80.2 400,77.7 401,76.0 402,73.8 403,72.3 404,71.8 405,72.2 406,73.2 407,74.1 408,75.6 409,76.3 410,76.8 411,77.3 412,77.5 413,77.6 414,77.6 415,77.6 416,77.6 417,77.8 418,77.4 419,77.8 420,77.5 421,77.8 422,77.3 423,77.6 424,77.6 425,77.7 426,77.4 427,77.4 428,77.3 429,77.6 430,77.6 431,77.2 432,77.4 433,77.4 434,77.9 435,77.6 436,77.6 437,77.4 438,77.7 439,77.8 440,77.7 441,77.2 442,77.5 443,77.6 444,77.3 445,77.8 446,77.5 447,77.4 448,77.7 449,77.6 450,77.6 451,77.8 452,77.6 453,77.5 454,77.3 455,77.6 456,77.5 457,77.6 458,77.5 459,77.2 460,77.3 461,77.3 462,77.3 463,77.8 464,77.6 465,77.4 466,77.7 467,77.7 468,77.3 469,77.8 470,77.4 471,77.9 472,77.3 473,77.4 474,77.4 475,77.8 476,77.8 477,77.6 478,77.3 479,77.5 480,77.7 481,77.3 482,77.9 483,77.8 484,77.9 485,77.7 486,77.7 487,77.9 488,77.4 489,77.4 490,77.3 491,77.3 492,77.8 493,77.3 494,77.7 495,77.5 496,77.8 497,77.7 498,77.7 499,77.8 500,77.2 501,77.4 502,77.5 503,77.5 504,77.7 505,77.8 506,77.7 507,77.9 508,77.7 509,77.5 510,77.6 511,77.7 512,77.8 513,77.5 514,77.5 515,77.6 516,77.4 517,77.8 518,77.2 519,77.7 520,77.5 521,77.3 522,77.6 523,77.5 524,77.9 525,77.8 526,77.6 527,77.8 528,77.8 529,77.3 530,77.8 531,77.8 532,77.9 533,77.7 534,77.5" fill="none" stroke="#b80000" stroke-width="1.20" stroke-linejoin="round"/>
<path d="M308,77.7 309,78.1 310,77.8 311,78.2 312,78.2 313,78.4 314,78.2 315,78.2 316,78.8 317,78.8 318,78.7 319,79.0 320,79.1 321,79.3 322,79.3 323,79.2 324,79.7 325,79.6 326,79.5 327,79.1 328,78.9 329,79.1 330,79.0 331,78.7 332,78.3 333,78.5 334,78.3 335,78.1 336,78.1 337,78.0 338,78.0 339,78.1 340,78.2 341,77.6 342,77.8 343,78.1 344,77.8 345,77.7 346,77.9 347,77.3 348,77.8 349,77.6 350,77.5 351,77.2 352,77.3 353,76.9 354,77.1 355,76.8 356,77.1 357,76.9 358,76.5 359,76.5 360,76.1 361,76.0 362,75.6 363,75.9 364,75.6 365,75.4 366,74.8 367,75.1 368,74.4 369,74.6 370,74.4 371,74.0 372,74.1 373,74.3 374,74.1 375,73.8 376,74.1 377,73.8 378,74.2 379,74.1 380,74.2 381,75.3 382,75.1 383,75.7 384,76.6 385,76.5 386,77.2 387,77.8 388,78.1 389,78.6 390,79.8 391,81.2 392,82.6 393,84.1 394,85.1 395,85.5 396,85.4 397,83.9 398,81.3 399,79.5 400,77.8 401,76.7 402,75.0 403,74.0 404,74.1 405,73.8 406,75.0 407,75.4 408,76.5 409,77.1 410,77.1 411,77.8 412,77.7 413,77.6 414,77.5 415,78.0 416,77.9 417,77.7 418,78.1 419,77.6 420,77.8 421,77.6 422,77.7 423,78.1 424,77.8 425,77.6 426,77.7 427,77.9 428,77.7 429,78.1 430,77.5 431,78.1 432,77.9 433,78.1 434,77.7 435,77.5 436,77.6 437,77.9 438,77.5 439,77.6 440,78.0 441,78.1 442,78.1 443,78.1 444,77.9 445,78.1 446,78.0 447,77.9 448,77.8 449,77.5 450,77.5 451,77.7 452,77.8 453,77.6 454,78.2 455,77.9 456,78.0 457,78.1 458,77.6 459,78.1 460,78.2 461,77.7 462,77.6 463,78.0 464,78.1 465,78.0 466,77.8 467,77.9 468,77.6 469,77.6 470,77.8 471,78.0 472,77.5 473,78.1 474,77.5 475,78.2 476,77.6 477,78.0 478,78.0 479,78.1 480,77.8 481,78.0 482,77.7 483,78.1 484,77.5 485,78.1 486,77.9 487,77.5 488,78.1 489,77.7 490,77.5 491,77.7 492,77.5 493,77.7 494,78.0 495,78.2 496,77.9 497,78.1 498,78.0 499,78.0 500,77.7 501,77.6 502,77.6 503,77.8 504,77.6 505,78.0 506,77.7 507,77.9 508,77.8 509,77.9 510,77.6 511,77.6 512,77.9 513,77.6 514,77.9 515,78.1 516,77.7 517,78.1 518,77.9 519,78.1 520,77.8 521,78.0 522,77.9 523,77.6 524,77.8 525,77.9 526,77.8 527,77.9 528,78.1 529,78.0 530,78.0 531,77.6 532,77.9 533,77.9 534,78.1" fill="none" stroke="#d81010" stroke-width="1.20" stroke-linejoin="round"/>
<path d="M308,76.5 309,76.6 310,77.2 311,76.9 312,77.1 313,77.1 314,77.1 315,77.2 316,77.5 317,77.9 318,77.7 319,78.1 320,77.9 321,78.3 322,78.3 323,78.4 324,78.6 325,78.0 326,78.5 327,78.2 328,77.8 329,77.8 330,77.4 331,77.4 332,77.6 333,77.4 334,77.4 335,76.8 336,76.7 337,76.8 338,76.9 339,77.0 340,76.6 341,76.9 342,76.8 343,76.6 344,76.9 345,76.4 346,76.7 347,76.4 348,76.3 349,76.5 350,76.5 351,76.5 352,76.3 353,76.6 354,76.5 355,76.0 356,75.8 357,76.4 358,75.9 359,75.6 360,75.5 361,75.8 362,75.3 363,75.3 364,75.4 365,75.1 366,75.2 367,75.3 368,75.1 369,74.9 370,74.8 371,74.5 372,74.6 373,74.6 374,74.5 375,74.4 376,74.6 377,74.2 378,74.6 379,74.9 380,74.4 381,74.9 382,75.7 383,75.3 384,76.1 385,76.2 386,76.0 387,76.7 388,76.5 389,77.5 390,77.7 391,78.9 392,79.8 393,80.2 394,81.1 395,81.2 396,81.2 397,79.9 398,78.7 399,77.6 400,77.1 401,75.7 402,75.0 403,74.5 404,74.4 405,74.4 406,75.1 407,75.2 408,75.8 409,76.4 410,76.3 411,76.4 412,76.9 413,76.6 414,77.0 415,77.0 416,76.7 417,76.6 418,76.5 419,77.0 420,76.7 421,76.6 422,76.5 423,76.6 424,77.0 425,76.5 426,76.8 427,76.8 428,76.8 429,76.7 430,76.7 431,76.5 432,77.0 433,77.0 434,76.8 435,76.6 436,77.0 437,76.5 438,76.5 439,76.8 440,77.0 441,76.8 442,76.5 443,77.1 444,76.5 445,76.6 446,77.1 447,76.9 448,76.9 449,76.4 450,77.0 451,76.7 452,76.4 453,76.9 454,77.0 455,76.4 456,76.7 457,77.0 458,76.6 459,76.6 460,76.9 461,76.7 462,77.1 463,77.0 464,77.0 465,76.9 466,76.5 467,76.9 468,76.8 469,76.7 470,76.8 471,76.6 472,76.5 473,77.0 474,76.6 475,76.5 476,77.1 477,76.7 478,76.8 479,76.6 480,76.5 481,76.6 482,77.0 483,76.6 484,77.0 485,76.6 486,77.0 487,76.5 488,76.7 489,76.5 490,76.5 491,76.7 492,76.6 493,76.7 494,76.5 495,76.6 496,76.6 497,77.0 498,76.4 499,76.7 500,77.0 501,76.8 502,76.5 503,77.1 504,76.4 505,76.5 506,76.4 507,76.7 508,77.0 509,76.6 510,76.6 511,76.9 512,76.4 513,76.4 514,76.8 515,76.4 516,76.7 517,76.5 518,76.8 519,77.0 520,76.7 521,76.5 522,76.8 523,76.8 524,76.4 525,76.5 526,76.6 527,76.7 528,76.5 529,76.8 530,76.5 531,77.0 532,76.6 533,76.5 534,76.4" fill="none" stroke="#f01818" stroke-width="1.20" stroke-linejoin="round"/>
<path d="M308,76.7 309,76.8 310,77.3 311,77.0 312,77.1 313,77.5 314,77.6 315,77.6 316,77.3 317,77.5 318,77.8 319,77.8 320,78.0 321,78.0 322,78.1 323,78.5 324,78.5 325,78.3 326,78.3 327,78.3 328,78.2 329,77.6 330,78.0 331,77.6 332,77.4 333,77.7 334,77.4 335,77.1 336,76.8 337,77.0 338,76.9 339,76.9 340,76.6 341,76.9 342,76.7 343,77.1 344,76.9 345,76.7 346,77.1 347,76.8 348,76.5 349,76.6 350,76.5 351,76.7 352,77.0 353,77.0 354,76.8 355,76.4 356,76.5 357,76.4 358,76.5 359,76.7 360,76.2 361,76.5 362,76.4 363,76.5 364,76.6 365,76.3 366,76.4 367,76.1 368,76.2 369,76.3 370,75.9 371,76.2 372,76.1 373,75.9 374,75.9 375,76.3 376,76.0 377,75.9 378,75.9 379,76.1 380,76.1 381,76.2 382,76.3 383,76.3 384,76.6 385,76.7 386,76.4 387,76.9 388,76.8 389,77.4 390,77.5 391,77.2 392,77.9 393,78.0 394,78.1 395,78.7 396,78.6 397,78.2 398,77.7 399,77.6 400,76.9 401,76.7 402,76.4 403,76.4 404,76.3 405,76.0 406,76.0 407,76.4 408,76.6 409,76.6 410,77.0 411,77.0 412,77.0 413,76.9 414,77.0 415,76.6 416,77.1 417,76.6 418,77.1 419,76.9 420,76.7 421,76.6 422,76.9 423,76.8 424,77.0 425,76.6 426,77.1 427,76.8 428,76.8 429,77.0 430,76.9 431,76.8 432,76.7 433,76.8 434,76.5 435,76.7 436,77.1 437,76.6 438,76.6 439,77.1 440,76.8 441,76.9 442,76.9 443,77.0 444,76.7 445,77.0 446,76.5 447,77.1 448,76.7 449,76.9 450,76.7 451,77.0 452,76.7 453,76.9 454,76.7 455,77.1 456,77.0 457,76.6 458,77.0 459,77.1 460,76.6 461,76.6 462,77.1 463,77.2 464,76.6 465,77.0 466,77.1 467,76.7 468,77.0 469,76.7 470,77.0 471,76.8 472,76.8 473,76.6 474,76.9 475,77.0 476,76.7 477,76.5 478,76.5 479,76.7 480,77.2 481,77.0 482,77.1 483,77.0 484,76.6 485,76.7 486,77.1 487,77.1 488,77.2 489,77.0 490,77.0 491,77.0 492,77.1 493,76.8 494,76.5 495,76.7 496,76.5 497,76.7 498,76.9 499,76.7 500,76.6 501,76.5 502,76.7 503,76.8 504,76.9 505,77.1 506,76.5 507,76.6 508,76.5 509,77.1 510,76.9 511,76.9 512,77.0 513,76.5 514,77.1 515,76.7 516,76.9 517,76.7 518,77.0 519,76.7 520,76.7 521,76.6 522,77.0 523,76.8 524,76.6 525,76.7 526,76.9 527,76.7 528,76.9 529,77.0 530,76.9 531,77.0 532,76.7 533,77.1 534,77.1" fill="none" stroke="#ff2424" stroke-width="1.20" stroke-linejoin="round"/>
<path d="M308,39.5 309,39.4 310,39.3 311,39.1 312,38.9 313,38.7 314,38.4 315,38.1 316,37.7 317,37.3 318,36.9 319,36.4 320,35.8 321,35.2 322,34.6 323,34.0 324,33.4 325,32.8 326,32.2 327,31.6 328,31.1 329,30.7 330,30.3 331,30.1 332,29.9 333,29.9 334,29.9 335,30.3 336,30.9 337,31.6 338,32.6 339,33.6 340,34.7 341,35.9 342,37.0 343,38.2 344,39.4 345,40.6 346,42.0 347,43.5 348,45.1 349,46.9 350,48.8 351,50.7 352,52.6 353,54.3 354,55.6 355,56.5 356,56.8 357,54.9 358,50.3 359,44.9 360,39.7 361,34.5 362,30.2 363,28.4 364,29.0 365,30.7 366,33.0 367,35.4 368,37.5 369,39.1 370,40.2 371,40.8 372,41.1 373,41.3 374,41.4 375,41.4 376,41.4 377,41.4 378,41.4 379,41.4 380,41.4 381,41.4 382,41.4 383,41.4 384,41.4 385,41.4 386,41.4 387,41.4 388,41.4 389,41.4 390,41.4 391,41.4 392,41.4 393,41.4 394,41.4 395,41.4 396,41.4 397,41.4 398,41.4 399,41.5 400,41.5 401,41.5 402,41.5 403,41.5 404,41.5 405,41.5 406,41.5 407,41.5 408,41.5 409,41.5 410,41.5 411,41.5 412,41.5 413,41.5 414,41.5 415,41.5 416,41.5 417,41.5 418,41.5 419,41.5 420,41.5 421,41.5 422,41.5 423,41.5 424,41.5 425,41.5 426,41.5 427,41.5 428,41.5 429,41.5 430,41.5 431,41.5 432,41.5 433,41.5 434,41.5 435,41.5 436,41.5 437,41.5 438,41.5 439,41.5 440,41.5 441,41.5 442,41.5 443,41.5 444,41.6 445,41.6 446,41.6 447,41.6 448,41.6 449,41.6 450,41.6 451,41.6 452,41.6 453,41.6 454,41.6 455,41.6 456,41.6 457,41.6 458,41.6 459,41.6 460,41.6 461,41.6 462,41.6 463,41.6 464,41.6 465,41.6 466,41.6 467,41.6 468,41.6 469,41.6 470,41.6 471,41.6 472,41.6 473,41.6 474,41.6 475,41.6 476,41.6 477,41.6 478,41.6 479,41.6 480,41.6 481,41.6 482,41.6 483,41.6 484,41.6 485,41.6 486,41.6 487,41.6 488,41.6 489,41.7 490,41.7 491,41.7 492,41.7 493,41.7 494,41.7 495,41.7 496,41.7 497,41.7 498,41.7 499,41.7 500,41.7 501,41.7 502,41.7 503,41.7 504,41.7 505,41.7 506,41.7 507,41.7 508,41.7 509,41.7 510,41.7 511,41.7 512,41.7 513,41.7 514,41.7 515,41.7 516,41.7 517,41.7 518,41.7 519,41.7 520,41.7 521,41.7 522,41.7 523,41.7 524,41.7 525,41.7 526,41.7 527,41.7 528,41.7 529,41.7 530,41.7 531,41.7 532,41.7 533,41.7 534,41.8" fill="none" stroke="#0505d5" stroke-width="1.60" stroke-linejoin="round"/>
<path d="M308,40.0 309,39.9 310,39.8 311,39.7 312,39.6 313,39.4 314,39.2 315,38.9 316,38.6 317,38.3 318,37.9 319,37.5 320,37.1 321,36.6 322,36.2 323,35.7 324,35.2 325,34.7 326,34.2 327,33.8 328,33.4 329,33.0 330,32.7 331,32.5 332,32.4 333,32.4 334,32.4 335,32.7 336,33.2 337,33.8 338,34.6 339,35.4 340,36.3 341,37.2 342,38.1 343,39.1 344,40.1 345,41.1 346,42.2 347,43.5 348,44.8 349,46.3 350,47.9 351,49.6 352,51.2 353,52.6 354,53.7 355,54.4 356,54.7 357,53.1 358,49.2 359,44.6 360,40.2 361,35.8 362,32.1 363,30.6 364,31.1 365,32.5 366,34.5 367,36.6 368,38.4 369,39.7 370,40.6 371,41.1 372,41.4 373,41.6 374,41.6 375,41.6 376,41.6 377,41.6 378,41.7 379,41.7 380,41.7 381,41.7 382,41.7 383,41.7 384,41.7 385,41.7 386,41.7 387,41.7 388,41.7 389,41.7 390,41.7 391,41.7 392,41.7 393,41.7 394,41.7 395,41.7 396,41.7 397,41.7 398,41.7 399,41.7 400,41.7 401,41.7 402,41.7 403,41.7 404,41.7 405,41.7 406,41.7 407,41.7 408,41.7 409,41.7 410,41.7 411,41.7 412,41.7 413,41.7 414,41.7 415,41.7 416,41.7 417,41.7 418,41.7 419,41.7 420,41.7 421,41.7 422,41.8 423,41.8 424,41.8 425,41.8 426,41.8 427,41.8 428,41.8 429,41.8 430,41.8 431,41.8 432,41.8 433,41.8 434,41.8 435,41.8 436,41.8 437,41.8 438,41.8 439,41.8 440,41.8 441,41.8 442,41.8 443,41.8 444,41.8 445,41.8 446,41.8 447,41.8 448,41.8 449,41.8 450,41.8 451,41.8 452,41.8 453,41.8 454,41.8 455,41.8 456,41.8 457,41.8 458,41.8 459,41.8 460,41.8 461,41.8 462,41.8 463,41.8 464,41.8 465,41.8 466,41.8 467,41.9 468,41.9 469,41.9 470,41.9 471,41.9 472,41.9 473,41.9 474,41.9 475,41.9 476,41.9 477,41.9 478,41.9 479,41.9 480,41.9 481,41.9 482,41.9 483,41.9 484,41.9 485,41.9 486,41.9 487,41.9 488,41.9 489,41.9 490,41.9 491,41.9 492,41.9 493,41.9 494,41.9 495,41.9 496,41.9 497,41.9 498,41.9 499,41.9 500,41.9 501,41.9 502,41.9 503,41.9 504,41.9 505,41.9 506,41.9 507,41.9 508,41.9 509,41.9 510,41.9 511,41.9 512,42.0 513,42.0 514,42.0 515,42.0 516,42.0 517,42.0 518,42.0 519,42.0 520,42.0 521,42.0 522,42.0 523,42.0 524,42.0 525,42.0 526,42.0 527,42.0 528,42.0 529,42.0 530,42.0 531,42.0 532,42.0 533,42.0 534,42.0" fill="none" stroke="#1414ee" stroke-width="1.60" stroke-linejoin="round"/>
<path d="M308,41.8 309,41.8 310,41.7 311,41.7 312,41.6 313,41.6 314,41.5 315,41.4 316,41.3 317,41.2 318,41.0 319,40.9 320,40.7 321,40.6 322,40.4 323,40.2 324,40.0 325,39.9 326,39.7 327,39.5 328,39.4 329,39.3 330,39.2 331,39.1 332,39.0 333,39.0 334,39.0 335,39.1 336,39.2 337,39.4 338,39.7 339,39.9 340,40.2 341,40.5 342,40.8 343,41.1 344,41.3 345,41.6 346,41.9 347,42.2 348,42.6 349,43.0 350,43.3 351,43.7 352,44.1 353,44.5 354,44.7 355,44.9 356,45.0 357,44.6 358,43.7 359,42.6 360,41.5 361,40.5 362,39.6 363,39.3 364,39.4 365,39.7 366,40.2 367,40.7 368,41.1 369,41.4 370,41.7 371,41.8 372,41.8 373,41.9 374,41.9 375,41.9 376,41.9 377,41.9 378,41.9 379,41.9 380,41.9 381,41.9 382,41.9 383,41.9 384,41.9 385,41.9 386,41.9 387,41.9 388,41.9 389,41.9 390,41.9 391,41.9 392,41.9 393,41.9 394,41.9 395,41.9 396,41.9 397,41.9 398,41.9 399,42.0 400,42.0 401,42.0 402,42.0 403,42.0 404,42.0 405,42.0 406,42.0 407,42.0 408,42.0 409,42.0 410,42.0 411,42.0 412,42.0 413,42.0 414,42.0 415,42.0 416,42.0 417,42.0 418,42.0 419,42.0 420,42.0 421,42.0 422,42.0 423,42.0 424,42.0 425,42.0 426,42.0 427,42.0 428,42.0 429,42.0 430,42.0 431,42.0 432,42.0 433,42.0 434,42.0 435,42.0 436,42.0 437,42.0 438,42.0 439,42.0 440,42.0 441,42.0 442,42.0 443,42.0 444,42.1 445,42.1 446,42.1 447,42.1 448,42.1 449,42.1 450,42.1 451,42.1 452,42.1 453,42.1 454,42.1 455,42.1 456,42.1 457,42.1 458,42.1 459,42.1 460,42.1 461,42.1 462,42.1 463,42.1 464,42.1 465,42.1 466,42.1 467,42.1 468,42.1 469,42.1 470,42.1 471,42.1 472,42.1 473,42.1 474,42.1 475,42.1 476,42.1 477,42.1 478,42.1 479,42.1 480,42.1 481,42.1 482,42.1 483,42.1 484,42.1 485,42.1 486,42.1 487,42.1 488,42.1 489,42.2 490,42.2 491,42.2 492,42.2 493,42.2 494,42.2 495,42.2 496,42.2 497,42.2 498,42.2 499,42.2 500,42.2 501,42.2 502,42.2 503,42.2 504,42.2 505,42.2 506,42.2 507,42.2 508,42.2 509,42.2 510,42.2 511,42.2 512,42.2 513,42.2 514,42.2 515,42.2 516,42.2 517,42.2 518,42.2 519,42.2 520,42.2 521,42.2 522,42.2 523,42.2 524,42.2 525,42.2 526,42.2 527,42.2 528,42.2 529,42.2 530,42.2 531,42.2 532,42.2 533,42.2 534,42.2" fill="none" stroke="#4646ff" stroke-width="1.60" stroke-linejoin="round"/>
<path d="M308,42.2 309,42.2 310,42.1 311,42.1 312,42.0 313,42.0 314,41.9 315,41.8 316,41.8 317,41.7 318,41.6 319,41.4 320,41.3 321,41.2 322,41.1 323,40.9 324,40.8 325,40.6 326,40.5 327,40.4 328,40.3 329,40.2 330,40.1 331,40.0 332,40.0 333,40.0 334,40.0 335,40.0 336,40.1 337,40.3 338,40.4 339,40.6 340,40.9 341,41.1 342,41.3 343,41.5 344,41.7 345,41.9 346,42.1 347,42.3 348,42.5 349,42.7 350,43.0 351,43.2 352,43.5 353,43.7 354,43.8 355,43.9 356,44.0 357,43.7 358,43.2 359,42.6 360,41.9 361,41.3 362,40.8 363,40.6 364,40.6 365,40.8 366,41.1 367,41.4 368,41.7 369,41.9 370,42.0 371,42.1 372,42.1 373,42.1 374,42.1 375,42.1 376,42.2 377,42.2 378,42.2 379,42.2 380,42.2 381,42.2 382,42.2 383,42.2 384,42.2 385,42.2 386,42.2 387,42.2 388,42.2 389,42.2 390,42.2 391,42.2 392,42.2 393,42.2 394,42.2 395,42.2 396,42.2 397,42.2 398,42.2 399,42.2 400,42.2 401,42.2 402,42.2 403,42.2 404,42.2 405,42.2 406,42.2 407,42.2 408,42.2 409,42.2 410,42.2 411,42.2 412,42.2 413,42.2 414,42.2 415,42.2 416,42.2 417,42.2 418,42.2 419,42.2 420,42.2 421,42.3 422,42.3 423,42.3 424,42.3 425,42.3 426,42.3 427,42.3 428,42.3 429,42.3 430,42.3 431,42.3 432,42.3 433,42.3 434,42.3 435,42.3 436,42.3 437,42.3 438,42.3 439,42.3 440,42.3 441,42.3 442,42.3 443,42.3 444,42.3 445,42.3 446,42.3 447,42.3 448,42.3 449,42.3 450,42.3 451,42.3 452,42.3 453,42.3 454,42.3 455,42.3 456,42.3 457,42.3 458,42.3 459,42.3 460,42.3 461,42.3 462,42.3 463,42.3 464,42.3 465,42.3 466,42.3 467,42.4 468,42.4 469,42.4 470,42.4 471,42.4 472,42.4 473,42.4 474,42.4 475,42.4 476,42.4 477,42.4 478,42.4 479,42.4 480,42.4 481,42.4 482,42.4 483,42.4 484,42.4 485,42.4 486,42.4 487,42.4 488,42.4 489,42.4 490,42.4 491,42.4 492,42.4 493,42.4 494,42.4 495,42.4 496,42.4 497,42.4 498,42.4 499,42.4 500,42.4 501,42.4 502,42.4 503,42.4 504,42.4 505,42.4 506,42.4 507,42.4 508,42.4 509,42.4 510,42.4 511,42.4 512,42.5 513,42.5 514,42.5 515,42.5 516,42.5 517,42.5 518,42.5 519,42.5 520,42.5 521,42.5 522,42.5 523,42.5 524,42.5 525,42.5 526,42.5 527,42.5 528,42.5 529,42.5 530,42.5 531,42.5 532,42.5 533,42.5 534,42.5" fill="none" stroke="#6a6aff" stroke-width="1.60" stroke-linejoin="round"/>
<line x1="356.0" y1="26.9" x2="356.0" y2="206.9" stroke="#3030ff" stroke-width="1.8" stroke-dasharray="1.6 4.95" />
<line x1="394.5" y1="26.9" x2="394.5" y2="206.9" stroke="#ff1a8c" stroke-width="1.8" stroke-dasharray="1.6 4.95" />
<line x1="421.8" y1="26.9" x2="421.8" y2="206.9" stroke="#1aa0aa" stroke-width="1.8" stroke-dasharray="1.6 4.95" />
<line x1="444.5" y1="26.9" x2="444.5" y2="206.9" stroke="#ff22ee" stroke-width="1.8" stroke-dasharray="1.6 4.95" />
<line x1="463.6" y1="26.9" x2="463.6" y2="206.9" stroke="#ff9020" stroke-width="1.8" stroke-dasharray="1.6 4.95" />
</svg>
<svg width="550" height="377" viewBox="0 0 550 377" style="position:absolute;left:0;top:0">
<g fill="#3db4c8" stroke="#55a0a8" stroke-width="0.3">
<polygon points="19.1,255.9 15.4,259.6 11.7,255.9 15.4,252.2"/>
<polygon points="26.7,255.9 23.0,259.6 19.3,255.9 23.0,252.2"/>
<polygon points="34.3,255.9 30.6,259.6 26.9,255.9 30.6,252.2"/>
<polygon points="41.9,255.9 38.2,259.6 34.5,255.9 38.2,252.2"/>
<polygon points="49.5,255.9 45.8,259.6 42.1,255.9 45.8,252.2"/>
<polygon points="57.1,255.9 53.4,259.6 49.7,255.9 53.4,252.2"/>
<polygon points="64.7,255.9 61.0,259.6 57.3,255.9 61.0,252.2"/>
<polygon points="72.3,255.9 68.6,259.6 64.9,255.9 68.6,252.2"/>
<polygon points="79.9,255.9 76.2,259.6 72.5,255.9 76.2,252.2"/>
<polygon points="87.5,255.9 83.8,259.6 80.1,255.9 83.8,252.2"/>
<polygon points="95.1,255.9 91.4,259.6 87.7,255.9 91.4,252.2"/>
<polygon points="102.7,255.9 99.0,259.6 95.3,255.9 99.0,252.2"/>
<polygon points="110.3,255.9 106.6,259.6 102.9,255.9 106.6,252.2"/>
<polygon points="117.9,255.9 114.2,259.6 110.5,255.9 114.2,252.2"/>
<polygon points="125.5,255.9 121.8,259.6 118.1,255.9 121.8,252.2"/>
<polygon points="133.1,255.9 129.4,259.6 125.7,255.9 129.4,252.2"/>
<polygon points="140.7,255.9 137.0,259.6 133.3,255.9 137.0,252.2"/>
<polygon points="148.3,255.9 144.6,259.6 140.9,255.9 144.6,252.2"/>
<polygon points="155.9,255.9 152.2,259.6 148.5,255.9 152.2,252.2"/>
<polygon points="163.5,255.9 159.8,259.6 156.1,255.9 159.8,252.2"/>
<polygon points="171.1,255.9 167.4,259.6 163.7,255.9 167.4,252.2"/>
<polygon points="178.7,255.9 175.0,259.6 171.3,255.9 175.0,252.2"/>
<polygon points="186.3,255.9 182.6,259.6 178.9,255.9 182.6,252.2"/>
<polygon points="193.9,255.9 190.2,259.6 186.5,255.9 190.2,252.2"/>
<polygon points="201.5,255.9 197.8,259.6 194.1,255.9 197.8,252.2"/>
<polygon points="209.1,255.9 205.4,259.6 201.7,255.9 205.4,252.2"/>
<polygon points="216.7,255.9 213.0,259.6 209.3,255.9 213.0,252.2"/>
<polygon points="224.3,255.9 220.6,259.6 216.9,255.9 220.6,252.2"/>
<polygon points="231.9,255.9 228.2,259.6 224.5,255.9 228.2,252.2"/>
<polygon points="239.5,255.9 235.8,259.6 232.1,255.9 235.8,252.2"/>
<polygon points="247.1,255.9 243.4,259.6 239.7,255.9 243.4,252.2"/>
<polygon points="254.7,255.9 251.0,259.6 247.3,255.9 251.0,252.2"/>
<polygon points="19.1,263.4 15.4,267.1 11.7,263.4 15.4,259.6"/>
<polygon points="26.7,263.4 23.0,267.1 19.3,263.4 23.0,259.6"/>
<polygon points="34.3,263.4 30.6,267.1 26.9,263.4 30.6,259.6"/>
<polygon points="41.9,263.4 38.2,267.1 34.5,263.4 38.2,259.6"/>
<polygon points="49.5,263.4 45.8,267.1 42.1,263.4 45.8,259.6"/>
<polygon points="57.1,263.4 53.4,267.1 49.7,263.4 53.4,259.6"/>
<polygon points="64.7,263.4 61.0,267.1 57.3,263.4 61.0,259.6"/>
<polygon points="72.3,263.4 68.6,267.1 64.9,263.4 68.6,259.6"/>
<polygon points="79.9,263.4 76.2,267.1 72.5,263.4 76.2,259.6"/>
<polygon points="87.5,263.4 83.8,267.1 80.1,263.4 83.8,259.6"/>
<polygon points="95.1,263.4 91.4,267.1 87.7,263.4 91.4,259.6"/>
<polygon points="102.7,263.4 99.0,267.1 95.3,263.4 99.0,259.6"/>
<polygon points="110.3,263.4 106.6,267.1 102.9,263.4 106.6,259.6"/>
<polygon points="117.9,263.4 114.2,267.1 110.5,263.4 114.2,259.6"/>
<polygon points="125.5,263.4 121.8,267.1 118.1,263.4 121.8,259.6"/>
<polygon points="133.1,263.4 129.4,267.1 125.7,263.4 129.4,259.6"/>
<polygon points="140.7,263.4 137.0,267.1 133.3,263.4 137.0,259.6"/>
<polygon points="148.3,263.4 144.6,267.1 140.9,263.4 144.6,259.6"/>
<polygon points="155.9,263.4 152.2,267.1 148.5,263.4 152.2,259.6"/>
<polygon points="163.5,263.4 159.8,267.1 156.1,263.4 159.8,259.6"/>
<polygon points="171.1,263.4 167.4,267.1 163.7,263.4 167.4,259.6"/>
<polygon points="178.7,263.4 175.0,267.1 171.3,263.4 175.0,259.6"/>
<polygon points="186.3,263.4 182.6,267.1 178.9,263.4 182.6,259.6"/>
<polygon points="193.9,263.4 190.2,267.1 186.5,263.4 190.2,259.6"/>
<polygon points="201.5,263.4 197.8,267.1 194.1,263.4 197.8,259.6"/>
<polygon points="209.1,263.4 205.4,267.1 201.7,263.4 205.4,259.6"/>
<polygon points="216.7,263.4 213.0,267.1 209.3,263.4 213.0,259.6"/>
<polygon points="224.3,263.4 220.6,267.1 216.9,263.4 220.6,259.6"/>
<polygon points="231.9,263.4 228.2,267.1 224.5,263.4 228.2,259.6"/>
<polygon points="239.5,263.4 235.8,267.1 232.1,263.4 235.8,259.6"/>
<polygon points="247.1,263.4 243.4,267.1 239.7,263.4 243.4,259.6"/>
<polygon points="254.7,263.4 251.0,267.1 247.3,263.4 251.0,259.6"/>
<polygon points="19.1,270.8 15.4,274.5 11.7,270.8 15.4,267.1"/>
<polygon points="26.7,270.8 23.0,274.5 19.3,270.8 23.0,267.1"/>
<polygon points="34.3,270.8 30.6,274.5 26.9,270.8 30.6,267.1"/>
<polygon points="41.9,270.8 38.2,274.5 34.5,270.8 38.2,267.1"/>
<polygon points="49.5,270.8 45.8,274.5 42.1,270.8 45.8,267.1"/>
<polygon points="57.1,270.8 53.4,274.5 49.7,270.8 53.4,267.1"/>
<polygon points="64.7,270.8 61.0,274.5 57.3,270.8 61.0,267.1"/>
<polygon points="72.3,270.8 68.6,274.5 64.9,270.8 68.6,267.1"/>
<polygon points="79.9,270.8 76.2,274.5 72.5,270.8 76.2,267.1"/>
<polygon points="87.5,270.8 83.8,274.5 80.1,270.8 83.8,267.1"/>
<polygon points="95.1,270.8 91.4,274.5 87.7,270.8 91.4,267.1"/>
<polygon points="102.7,270.8 99.0,274.5 95.3,270.8 99.0,267.1"/>
<polygon points="110.3,270.8 106.6,274.5 102.9,270.8 106.6,267.1"/>
<polygon points="117.9,270.8 114.2,274.5 110.5,270.8 114.2,267.1"/>
<polygon points="125.5,270.8 121.8,274.5 118.1,270.8 121.8,267.1"/>
<polygon points="133.1,270.8 129.4,274.5 125.7,270.8 129.4,267.1"/>
<polygon points="140.7,270.8 137.0,274.5 133.3,270.8 137.0,267.1"/>
<polygon points="148.3,270.8 144.6,274.5 140.9,270.8 144.6,267.1"/>
<polygon points="155.9,270.8 152.2,274.5 148.5,270.8 152.2,267.1"/>
<polygon points="163.5,270.8 159.8,274.5 156.1,270.8 159.8,267.1"/>
<polygon points="171.1,270.8 167.4,274.5 163.7,270.8 167.4,267.1"/>
<polygon points="178.7,270.8 175.0,274.5 171.3,270.8 175.0,267.1"/>
<polygon points="186.3,270.8 182.6,274.5 178.9,270.8 182.6,267.1"/>
<polygon points="193.9,270.8 190.2,274.5 186.5,270.8 190.2,267.1"/>
<polygon points="201.5,270.8 197.8,274.5 194.1,270.8 197.8,267.1"/>
<polygon points="209.1,270.8 205.4,274.5 201.7,270.8 205.4,267.1"/>
<polygon points="216.7,270.8 213.0,274.5 209.3,270.8 213.0,267.1"/>
<polygon points="224.3,270.8 220.6,274.5 216.9,270.8 220.6,267.1"/>
<polygon points="231.9,270.8 228.2,274.5 224.5,270.8 228.2,267.1"/>
<polygon points="239.5,270.8 235.8,274.5 232.1,270.8 235.8,267.1"/>
<polygon points="247.1,270.8 243.4,274.5 239.7,270.8 243.4,267.1"/>
<polygon points="254.7,270.8 251.0,274.5 247.3,270.8 251.0,267.1"/>
<polygon points="19.1,278.2 15.4,282.0 11.7,278.2 15.4,274.5"/>
<polygon points="26.7,278.2 23.0,282.0 19.3,278.2 23.0,274.5"/>
<polygon points="34.3,278.2 30.6,282.0 26.9,278.2 30.6,274.5"/>
<polygon points="41.9,278.2 38.2,282.0 34.5,278.2 38.2,274.5"/>
<polygon points="49.5,278.2 45.8,282.0 42.1,278.2 45.8,274.5"/>
<polygon points="57.1,278.2 53.4,282.0 49.7,278.2 53.4,274.5"/>
<polygon points="64.7,278.2 61.0,282.0 57.3,278.2 61.0,274.5"/>
<polygon points="72.3,278.2 68.6,282.0 64.9,278.2 68.6,274.5"/>
<polygon points="79.9,278.2 76.2,282.0 72.5,278.2 76.2,274.5"/>
<polygon points="87.5,278.2 83.8,282.0 80.1,278.2 83.8,274.5"/>
<polygon points="95.1,278.2 91.4,282.0 87.7,278.2 91.4,274.5"/>
<polygon points="102.7,278.2 99.0,282.0 95.3,278.2 99.0,274.5"/>
<polygon points="110.3,278.2 106.6,282.0 102.9,278.2 106.6,274.5"/>
<polygon points="117.9,278.2 114.2,282.0 110.5,278.2 114.2,274.5"/>
<polygon points="125.5,278.2 121.8,282.0 118.1,278.2 121.8,274.5"/>
<polygon points="133.1,278.2 129.4,282.0 125.7,278.2 129.4,274.5"/>
<polygon points="140.7,278.2 137.0,282.0 133.3,278.2 137.0,274.5"/>
<polygon points="148.3,278.2 144.6,282.0 140.9,278.2 144.6,274.5"/>
<polygon points="155.9,278.2 152.2,282.0 148.5,278.2 152.2,274.5"/>
<polygon points="163.5,278.2 159.8,282.0 156.1,278.2 159.8,274.5"/>
<polygon points="171.1,278.2 167.4,282.0 163.7,278.2 167.4,274.5"/>
<polygon points="178.7,278.2 175.0,282.0 171.3,278.2 175.0,274.5"/>
<polygon points="186.3,278.2 182.6,282.0 178.9,278.2 182.6,274.5"/>
<polygon points="193.9,278.2 190.2,282.0 186.5,278.2 190.2,274.5"/>
<polygon points="201.5,278.2 197.8,282.0 194.1,278.2 197.8,274.5"/>
<polygon points="209.1,278.2 205.4,282.0 201.7,278.2 205.4,274.5"/>
<polygon points="216.7,278.2 213.0,282.0 209.3,278.2 213.0,274.5"/>
<polygon points="224.3,278.2 220.6,282.0 216.9,278.2 220.6,274.5"/>
<polygon points="231.9,278.2 228.2,282.0 224.5,278.2 228.2,274.5"/>
<polygon points="239.5,278.2 235.8,282.0 232.1,278.2 235.8,274.5"/>
<polygon points="247.1,278.2 243.4,282.0 239.7,278.2 243.4,274.5"/>
<polygon points="254.7,278.2 251.0,282.0 247.3,278.2 251.0,274.5"/>
<polygon points="20.1,287.2 16.9,291.2 13.1,287.8 16.3,283.8"/>
<polygon points="27.3,286.6 24.1,290.6 20.3,287.2 23.4,283.1"/>
<polygon points="34.5,285.9 31.3,290.0 27.4,286.6 30.6,282.5"/>
<polygon points="41.6,285.3 38.4,289.4 34.6,285.9 37.8,281.9"/>
<polygon points="20.8,294.7 17.6,298.7 13.7,295.3 16.9,291.2"/>
<polygon points="27.9,294.0 24.8,298.1 20.9,294.7 24.1,290.6"/>
<polygon points="35.1,293.4 31.9,297.5 28.1,294.0 31.3,290.0"/>
<polygon points="42.3,292.8 39.1,296.8 35.3,293.4 38.4,289.4"/>
<polygon points="21.4,302.1 18.2,306.2 14.4,302.8 17.6,298.7"/>
<polygon points="28.6,301.5 25.4,305.6 21.6,302.1 24.8,298.1"/>
<polygon points="35.8,300.9 32.6,304.9 28.7,301.5 31.9,297.5"/>
<polygon points="42.9,300.3 39.8,304.3 35.9,300.9 39.1,296.8"/>
<polygon points="22.1,309.6 18.9,313.7 15.0,310.2 18.2,306.2"/>
<polygon points="29.2,309.0 26.1,313.0 22.2,309.6 25.4,305.6"/>
<polygon points="36.4,308.4 33.2,312.4 29.4,309.0 32.6,304.9"/>
<polygon points="43.6,307.7 40.4,311.8 36.6,308.3 39.8,304.3"/>
<polygon points="63.1,285.5 59.4,289.1 56.1,285.1 59.8,281.5"/>
<polygon points="70.2,285.9 66.5,289.5 63.2,285.5 66.9,281.9"/>
<polygon points="77.3,286.2 73.6,289.8 70.3,285.9 74.0,282.2"/>
<polygon points="62.7,293.1 59.0,296.7 55.7,292.7 59.4,289.1"/>
<polygon points="69.8,293.4 66.1,297.1 62.8,293.1 66.5,289.5"/>
<polygon points="76.9,293.8 73.2,297.4 69.9,293.5 73.6,289.8"/>
<polygon points="62.3,300.7 58.6,304.3 55.3,300.3 59.0,296.7"/>
<polygon points="69.4,301.0 65.7,304.6 62.4,300.7 66.1,297.1"/>
<polygon points="76.5,301.4 72.8,305.0 69.5,301.0 73.2,297.4"/>
<polygon points="61.9,308.3 58.2,311.9 54.9,307.9 58.6,304.3"/>
<polygon points="69.0,308.6 65.3,312.2 62.0,308.3 65.7,304.6"/>
<polygon points="76.1,309.0 72.4,312.6 69.1,308.6 72.8,305.0"/>
<polygon points="97.1,287.4 94.1,291.6 90.3,288.2 93.3,284.0"/>
<polygon points="104.1,286.7 101.1,290.8 97.3,287.4 100.3,283.3"/>
<polygon points="111.0,286.0 108.0,290.1 104.2,286.7 107.2,282.6"/>
<polygon points="118.0,285.2 115.0,289.4 111.2,286.0 114.2,281.8"/>
<polygon points="125.0,284.5 121.9,288.7 118.1,285.2 121.1,281.1"/>
<polygon points="97.9,295.0 94.9,299.1 91.1,295.7 94.1,291.6"/>
<polygon points="104.9,294.3 101.9,298.4 98.0,295.0 101.1,290.8"/>
<polygon points="111.8,293.5 108.8,297.7 105.0,294.3 108.0,290.1"/>
<polygon points="118.8,292.8 115.8,296.9 112.0,293.5 115.0,289.4"/>
<polygon points="125.8,292.1 122.7,296.2 118.9,292.8 121.9,288.7"/>
<polygon points="98.7,302.6 95.7,306.7 91.9,303.3 94.9,299.1"/>
<polygon points="105.7,301.8 102.6,306.0 98.8,302.5 101.9,298.4"/>
<polygon points="112.6,301.1 109.6,305.2 105.8,301.8 108.8,297.7"/>
<polygon points="119.6,300.4 116.6,304.5 112.8,301.1 115.8,296.9"/>
<polygon points="126.5,299.6 123.5,303.8 119.7,300.3 122.7,296.2"/>
<polygon points="99.5,310.1 96.5,314.3 92.7,310.8 95.7,306.7"/>
<polygon points="106.5,309.4 103.4,313.5 99.6,310.1 102.6,306.0"/>
<polygon points="113.4,308.7 110.4,312.8 106.6,309.4 109.6,305.2"/>
<polygon points="120.4,307.9 117.4,312.1 113.6,308.6 116.6,304.5"/>
<polygon points="127.3,307.2 124.3,311.3 120.5,307.9 123.5,303.8"/>
<polygon points="146.7,285.4 142.9,289.0 139.7,285.0 143.5,281.4"/>
<polygon points="153.8,285.9 150.0,289.5 146.8,285.5 150.5,281.9"/>
<polygon points="160.8,286.4 157.1,290.0 153.9,285.9 157.6,282.4"/>
<polygon points="167.9,286.9 164.2,290.5 161.0,286.4 164.7,282.9"/>
<polygon points="146.1,293.0 142.4,296.6 139.2,292.5 142.9,289.0"/>
<polygon points="153.2,293.5 149.5,297.1 146.3,293.0 150.0,289.5"/>
<polygon points="160.3,294.0 156.6,297.6 153.4,293.5 157.1,290.0"/>
<polygon points="167.4,294.5 163.7,298.1 160.4,294.0 164.2,290.5"/>
<polygon points="145.6,300.6 141.9,304.2 138.7,300.1 142.4,296.6"/>
<polygon points="152.7,301.1 149.0,304.6 145.8,300.6 149.5,297.1"/>
<polygon points="159.8,301.6 156.0,305.1 152.8,301.1 156.6,297.6"/>
<polygon points="166.9,302.1 163.1,305.6 159.9,301.6 163.7,298.1"/>
<polygon points="145.1,308.2 141.3,311.7 138.1,307.7 141.9,304.2"/>
<polygon points="152.2,308.7 148.4,312.2 145.2,308.2 149.0,304.6"/>
<polygon points="159.2,309.2 155.5,312.7 152.3,308.7 156.0,305.1"/>
<polygon points="166.3,309.7 162.6,313.2 159.4,309.2 163.1,305.6"/>
<polygon points="186.1,285.1 182.6,288.8 179.1,285.1 182.6,281.5"/>
<polygon points="193.2,285.1 189.7,288.8 186.2,285.1 189.7,281.5"/>
<polygon points="200.3,285.1 196.8,288.8 193.3,285.1 196.8,281.5"/>
<polygon points="186.1,292.4 182.6,296.1 179.1,292.4 182.6,288.8"/>
<polygon points="193.2,292.4 189.7,296.1 186.2,292.4 189.7,288.8"/>
<polygon points="200.3,292.4 196.8,296.1 193.3,292.4 196.8,288.8"/>
<polygon points="186.1,299.7 182.6,303.4 179.1,299.7 182.6,296.1"/>
<polygon points="193.2,299.7 189.7,303.4 186.2,299.7 189.7,296.1"/>
<polygon points="200.3,299.7 196.8,303.4 193.3,299.7 196.8,296.1"/>
<polygon points="186.1,307.0 182.6,310.6 179.1,307.0 182.6,303.4"/>
<polygon points="193.2,307.0 189.7,310.6 186.2,307.0 189.7,303.4"/>
<polygon points="200.3,307.0 196.8,310.6 193.3,307.0 196.8,303.4"/>
<polygon points="230.1,285.9 225.9,288.7 223.3,284.3 227.5,281.5"/>
<polygon points="237.2,287.5 232.9,290.3 230.3,285.9 234.5,283.1"/>
<polygon points="244.2,289.1 239.9,291.9 237.3,287.5 241.6,284.7"/>
<polygon points="251.2,290.8 246.9,293.6 244.3,289.2 248.6,286.4"/>
<polygon points="228.5,293.1 224.2,295.9 221.6,291.5 225.9,288.7"/>
<polygon points="235.5,294.7 231.2,297.5 228.6,293.1 232.9,290.3"/>
<polygon points="242.5,296.3 238.2,299.2 235.6,294.8 239.9,291.9"/>
<polygon points="249.5,298.0 245.2,300.8 242.6,296.4 246.9,293.6"/>
<polygon points="226.8,300.3 222.5,303.1 219.9,298.7 224.2,295.9"/>
<polygon points="233.8,301.9 229.6,304.7 226.9,300.3 231.2,297.5"/>
<polygon points="240.8,303.6 236.6,306.4 234.0,302.0 238.2,299.2"/>
<polygon points="247.9,305.2 243.6,308.0 241.0,303.6 245.2,300.8"/>
<polygon points="225.1,307.5 220.9,310.3 218.3,305.9 222.5,303.1"/>
<polygon points="232.2,309.1 227.9,312.0 225.3,307.6 229.6,304.7"/>
<polygon points="239.2,310.8 234.9,313.6 232.3,309.2 236.6,306.4"/>
<polygon points="246.2,312.4 241.9,315.2 239.3,310.8 243.6,308.0"/>
<polygon points="22.5,319.0 18.5,322.2 15.3,318.2 19.3,315.0"/>
<polygon points="29.7,319.9 25.7,323.1 22.6,319.1 26.6,315.9"/>
<polygon points="36.9,320.8 32.9,324.0 29.8,319.9 33.8,316.8"/>
<polygon points="21.6,326.3 17.6,329.5 14.5,325.4 18.5,322.2"/>
<polygon points="28.8,327.2 24.8,330.4 21.7,326.3 25.7,323.1"/>
<polygon points="36.1,328.1 32.1,331.2 29.0,327.2 32.9,324.0"/>
<polygon points="20.7,333.5 16.7,336.7 13.6,332.7 17.6,329.5"/>
<polygon points="27.9,334.4 23.9,337.6 20.8,333.5 24.8,330.4"/>
<polygon points="35.2,335.3 31.2,338.5 28.1,334.4 32.1,331.2"/>
<polygon points="19.8,340.8 15.8,344.0 12.7,339.9 16.7,336.7"/>
<polygon points="27.0,341.7 23.0,344.8 19.9,340.8 23.9,337.6"/>
<polygon points="34.3,342.6 30.3,345.7 27.2,341.7 31.2,338.5"/>
<polygon points="54.2,319.3 51.0,323.4 47.0,320.1 50.2,316.0"/>
<polygon points="61.4,318.6 58.2,322.6 54.3,319.3 57.5,315.3"/>
<polygon points="68.7,317.8 65.5,321.9 61.6,318.5 64.7,314.5"/>
<polygon points="75.9,317.0 72.8,321.1 68.8,317.8 72.0,313.7"/>
<polygon points="54.9,326.7 51.8,330.7 47.8,327.4 51.0,323.4"/>
<polygon points="62.2,325.9 59.0,330.0 55.1,326.7 58.2,322.6"/>
<polygon points="69.5,325.2 66.3,329.2 62.3,325.9 65.5,321.9"/>
<polygon points="76.7,324.4 73.5,328.5 69.6,325.1 72.8,321.1"/>
<polygon points="55.7,334.0 52.5,338.1 48.6,334.8 51.8,330.7"/>
<polygon points="63.0,333.3 59.8,337.3 55.8,334.0 59.0,330.0"/>
<polygon points="70.2,332.5 67.1,336.6 63.1,333.3 66.3,329.2"/>
<polygon points="77.5,331.8 74.3,335.8 70.4,332.5 73.5,328.5"/>
<polygon points="56.5,341.4 53.3,345.5 49.4,342.2 52.5,338.1"/>
<polygon points="63.7,340.6 60.6,344.7 56.6,341.4 59.8,337.3"/>
<polygon points="71.0,339.9 67.8,343.9 63.9,340.6 67.1,336.6"/>
<polygon points="78.3,339.1 75.1,343.2 71.1,339.9 74.3,335.8"/>
<polygon points="98.9,319.3 95.1,322.9 91.3,319.3 95.1,315.7"/>
<polygon points="106.7,319.3 102.9,322.9 99.1,319.3 102.9,315.7"/>
<polygon points="98.9,326.5 95.1,330.1 91.3,326.5 95.1,322.9"/>
<polygon points="106.7,326.5 102.9,330.1 99.1,326.5 102.9,322.9"/>
<polygon points="98.9,333.7 95.1,337.3 91.3,333.7 95.1,330.1"/>
<polygon points="106.7,333.7 102.9,337.3 99.1,333.7 102.9,330.1"/>
<polygon points="98.9,340.9 95.1,344.5 91.3,340.9 95.1,337.3"/>
<polygon points="106.7,340.9 102.9,344.5 99.1,340.9 102.9,337.3"/>
<polygon points="121.9,315.7 119.1,320.1 114.9,316.9 117.7,312.5"/>
<polygon points="129.1,314.4 126.3,318.8 122.1,315.7 124.9,311.2"/>
<polygon points="136.3,313.1 133.4,317.6 129.3,314.4 132.1,310.0"/>
<polygon points="123.3,323.3 120.4,327.7 116.2,324.5 119.1,320.1"/>
<polygon points="130.4,322.0 127.6,326.4 123.4,323.2 126.3,318.8"/>
<polygon points="137.6,320.7 134.8,325.1 130.6,322.0 133.4,317.6"/>
<polygon points="124.6,330.8 121.7,335.3 117.6,332.1 120.4,327.7"/>
<polygon points="131.8,329.6 128.9,334.0 124.7,330.8 127.6,326.4"/>
<polygon points="139.0,328.3 136.1,332.7 131.9,329.6 134.8,325.1"/>
<polygon points="125.9,338.4 123.1,342.8 118.9,339.7 121.7,335.3"/>
<polygon points="133.1,337.2 130.3,341.6 126.1,338.4 128.9,334.0"/>
<polygon points="140.3,335.9 137.5,340.3 133.3,337.1 136.1,332.7"/>
<polygon points="160.0,318.6 157.2,322.8 153.0,320.0 155.8,315.8"/>
<polygon points="167.2,317.2 164.4,321.4 160.2,318.6 163.0,314.4"/>
<polygon points="161.4,325.7 158.6,329.9 154.4,327.1 157.2,322.8"/>
<polygon points="168.6,324.3 165.7,328.5 161.5,325.7 164.4,321.4"/>
<polygon points="162.8,332.8 159.9,337.0 155.7,334.1 158.6,329.9"/>
<polygon points="169.9,331.4 167.1,335.6 162.9,332.7 165.7,328.5"/>
<polygon points="164.1,339.8 161.3,344.0 157.1,341.2 159.9,337.0"/>
<polygon points="171.3,338.4 168.5,342.6 164.3,339.8 167.1,335.6"/>
<polygon points="193.4,316.6 189.0,319.2 186.6,314.6 191.0,312.0"/>
<polygon points="200.5,318.6 196.0,321.2 193.6,316.6 198.1,314.0"/>
<polygon points="207.5,320.6 203.0,323.2 200.6,318.6 205.1,316.0"/>
<polygon points="214.5,322.6 210.0,325.2 207.6,320.7 212.1,318.0"/>
<polygon points="191.4,323.8 186.9,326.4 184.5,321.8 189.0,319.2"/>
<polygon points="198.4,325.8 193.9,328.4 191.5,323.8 196.0,321.2"/>
<polygon points="205.4,327.8 200.9,330.4 198.5,325.8 203.0,323.2"/>
<polygon points="212.4,329.8 208.0,332.5 205.5,327.9 210.0,325.2"/>
<polygon points="189.3,331.0 184.8,333.6 182.4,329.0 186.9,326.4"/>
<polygon points="196.3,333.0 191.8,335.6 189.4,331.0 193.9,328.4"/>
<polygon points="203.3,335.0 198.9,337.6 196.5,333.1 200.9,330.4"/>
<polygon points="210.4,337.0 205.9,339.7 203.5,335.1 208.0,332.5"/>
<polygon points="187.2,338.2 182.8,340.8 180.4,336.2 184.8,333.6"/>
<polygon points="194.3,340.2 189.8,342.8 187.4,338.3 191.8,335.6"/>
<polygon points="201.3,342.2 196.8,344.9 194.4,340.3 198.9,337.6"/>
<polygon points="208.3,344.3 203.8,346.9 201.4,342.3 205.9,339.7"/>
<polygon points="225.2,321.5 222.8,326.1 218.4,323.5 220.8,318.9"/>
<polygon points="232.3,319.5 229.9,324.1 225.4,321.5 227.8,316.9"/>
<polygon points="239.3,317.5 236.9,322.1 232.4,319.5 234.8,314.9"/>
<polygon points="227.3,328.7 224.9,333.3 220.4,330.7 222.8,326.1"/>
<polygon points="234.3,326.7 231.9,331.3 227.4,328.7 229.9,324.1"/>
<polygon points="241.3,324.7 238.9,329.3 234.5,326.7 236.9,322.1"/>
<polygon points="229.4,335.9 227.0,340.5 222.5,337.9 224.9,333.3"/>
<polygon points="236.4,333.9 234.0,338.5 229.5,335.9 231.9,331.3"/>
<polygon points="243.4,331.9 241.0,336.5 236.5,333.9 238.9,329.3"/>
<polygon points="231.4,343.1 229.0,347.7 224.6,345.1 227.0,340.5"/>
<polygon points="238.5,341.1 236.1,345.7 231.6,343.1 234.0,338.5"/>
<polygon points="245.5,339.1 243.1,343.7 238.6,341.1 241.0,336.5"/>
<polygon points="295.6,256.1 292.0,260.0 288.4,256.1 292.0,252.2"/>
<polygon points="302.7,256.1 299.1,260.0 295.6,256.1 299.1,252.2"/>
<polygon points="309.8,256.1 306.2,260.0 302.6,256.1 306.2,252.2"/>
<polygon points="316.9,256.1 313.3,260.0 309.8,256.1 313.3,252.2"/>
<polygon points="295.6,264.0 292.0,267.9 288.4,264.0 292.0,260.0"/>
<polygon points="302.7,264.0 299.1,267.9 295.6,264.0 299.1,260.0"/>
<polygon points="309.8,264.0 306.2,267.9 302.6,264.0 306.2,260.0"/>
<polygon points="316.9,264.0 313.3,267.9 309.8,264.0 313.3,260.0"/>
<polygon points="295.6,271.8 292.0,275.7 288.4,271.8 292.0,267.9"/>
<polygon points="302.7,271.8 299.1,275.7 295.6,271.8 299.1,267.9"/>
<polygon points="309.8,271.8 306.2,275.7 302.6,271.8 306.2,267.9"/>
<polygon points="316.9,271.8 313.3,275.7 309.8,271.8 313.3,267.9"/>
<polygon points="295.6,279.7 292.0,283.6 288.4,279.7 292.0,275.7"/>
<polygon points="302.7,279.7 299.1,283.6 295.6,279.7 299.1,275.7"/>
<polygon points="309.8,279.7 306.2,283.6 302.6,279.7 306.2,275.7"/>
<polygon points="316.9,279.7 313.3,283.6 309.8,279.7 313.3,275.7"/>
<polygon points="295.6,287.5 292.0,291.4 288.4,287.5 292.0,283.6"/>
<polygon points="302.7,287.5 299.1,291.4 295.6,287.5 299.1,283.6"/>
<polygon points="309.8,287.5 306.2,291.4 302.6,287.5 306.2,283.6"/>
<polygon points="316.9,287.5 313.3,291.4 309.8,287.5 313.3,283.6"/>
<polygon points="295.6,295.4 292.0,299.3 288.4,295.4 292.0,291.4"/>
<polygon points="302.7,295.4 299.1,299.3 295.6,295.4 299.1,291.4"/>
<polygon points="309.8,295.4 306.2,299.3 302.6,295.4 306.2,291.4"/>
<polygon points="316.9,295.4 313.3,299.3 309.8,295.4 313.3,291.4"/>
<polygon points="295.6,303.2 292.0,307.1 288.4,303.2 292.0,299.3"/>
<polygon points="302.7,303.2 299.1,307.1 295.6,303.2 299.1,299.3"/>
<polygon points="309.8,303.2 306.2,307.1 302.6,303.2 306.2,299.3"/>
<polygon points="316.9,303.2 313.3,307.1 309.8,303.2 313.3,299.3"/>
<polygon points="295.6,311.1 292.0,315.0 288.4,311.1 292.0,307.1"/>
<polygon points="302.7,311.1 299.1,315.0 295.6,311.1 299.1,307.1"/>
<polygon points="309.8,311.1 306.2,315.0 302.6,311.1 306.2,307.1"/>
<polygon points="316.9,311.1 313.3,315.0 309.8,311.1 313.3,307.1"/>
<polygon points="295.6,318.9 292.0,322.8 288.4,318.9 292.0,315.0"/>
<polygon points="302.7,318.9 299.1,322.8 295.6,318.9 299.1,315.0"/>
<polygon points="309.8,318.9 306.2,322.8 302.6,318.9 306.2,315.0"/>
<polygon points="316.9,318.9 313.3,322.8 309.8,318.9 313.3,315.0"/>
<polygon points="295.6,326.8 292.0,330.7 288.4,326.8 292.0,322.8"/>
<polygon points="302.7,326.8 299.1,330.7 295.6,326.8 299.1,322.8"/>
<polygon points="309.8,326.8 306.2,330.7 302.6,326.8 306.2,322.8"/>
<polygon points="316.9,326.8 313.3,330.7 309.8,326.8 313.3,322.8"/>
<polygon points="295.6,334.6 292.0,338.5 288.4,334.6 292.0,330.7"/>
<polygon points="302.7,334.6 299.1,338.5 295.6,334.6 299.1,330.7"/>
<polygon points="309.8,334.6 306.2,338.5 302.6,334.6 306.2,330.7"/>
<polygon points="316.9,334.6 313.3,338.5 309.8,334.6 313.3,330.7"/>
<polygon points="295.6,342.5 292.0,346.4 288.4,342.5 292.0,338.5"/>
<polygon points="302.7,342.5 299.1,346.4 295.6,342.5 299.1,338.5"/>
<polygon points="309.8,342.5 306.2,346.4 302.6,342.5 306.2,338.5"/>
<polygon points="316.9,342.5 313.3,346.4 309.8,342.5 313.3,338.5"/>
<polygon points="339.7,256.1 336.1,260.0 332.6,256.1 336.1,252.2"/>
<polygon points="346.8,256.1 343.2,260.0 339.7,256.1 343.2,252.2"/>
<polygon points="353.9,256.1 350.3,260.0 346.8,256.1 350.3,252.2"/>
<polygon points="361.0,256.1 357.4,260.0 353.9,256.1 357.4,252.2"/>
<polygon points="339.7,264.0 336.1,267.9 332.6,264.0 336.1,260.0"/>
<polygon points="346.8,264.0 343.2,267.9 339.7,264.0 343.2,260.0"/>
<polygon points="353.9,264.0 350.3,267.9 346.8,264.0 350.3,260.0"/>
<polygon points="361.0,264.0 357.4,267.9 353.9,264.0 357.4,260.0"/>
<polygon points="339.7,271.8 336.1,275.7 332.6,271.8 336.1,267.9"/>
<polygon points="346.8,271.8 343.2,275.7 339.7,271.8 343.2,267.9"/>
<polygon points="353.9,271.8 350.3,275.7 346.8,271.8 350.3,267.9"/>
<polygon points="361.0,271.8 357.4,275.7 353.9,271.8 357.4,267.9"/>
<polygon points="339.7,279.7 336.1,283.6 332.6,279.7 336.1,275.7"/>
<polygon points="346.8,279.7 343.2,283.6 339.7,279.7 343.2,275.7"/>
<polygon points="353.9,279.7 350.3,283.6 346.8,279.7 350.3,275.7"/>
<polygon points="361.0,279.7 357.4,283.6 353.9,279.7 357.4,275.7"/>
<polygon points="339.7,287.5 336.1,291.4 332.6,287.5 336.1,283.6"/>
<polygon points="346.8,287.5 343.2,291.4 339.7,287.5 343.2,283.6"/>
<polygon points="353.9,287.5 350.3,291.4 346.8,287.5 350.3,283.6"/>
<polygon points="361.0,287.5 357.4,291.4 353.9,287.5 357.4,283.6"/>
<polygon points="339.7,295.4 336.1,299.3 332.6,295.4 336.1,291.4"/>
<polygon points="346.8,295.4 343.2,299.3 339.7,295.4 343.2,291.4"/>
<polygon points="353.9,295.4 350.3,299.3 346.8,295.4 350.3,291.4"/>
<polygon points="361.0,295.4 357.4,299.3 353.9,295.4 357.4,291.4"/>
<polygon points="339.7,303.2 336.1,307.1 332.6,303.2 336.1,299.3"/>
<polygon points="346.8,303.2 343.2,307.1 339.7,303.2 343.2,299.3"/>
<polygon points="353.9,303.2 350.3,307.1 346.8,303.2 350.3,299.3"/>
<polygon points="361.0,303.2 357.4,307.1 353.9,303.2 357.4,299.3"/>
<polygon points="339.7,311.1 336.1,315.0 332.6,311.1 336.1,307.1"/>
<polygon points="346.8,311.1 343.2,315.0 339.7,311.1 343.2,307.1"/>
<polygon points="353.9,311.1 350.3,315.0 346.8,311.1 350.3,307.1"/>
<polygon points="361.0,311.1 357.4,315.0 353.9,311.1 357.4,307.1"/>
<polygon points="339.7,318.9 336.1,322.8 332.6,318.9 336.1,315.0"/>
<polygon points="346.8,318.9 343.2,322.8 339.7,318.9 343.2,315.0"/>
<polygon points="353.9,318.9 350.3,322.8 346.8,318.9 350.3,315.0"/>
<polygon points="361.0,318.9 357.4,322.8 353.9,318.9 357.4,315.0"/>
<polygon points="339.7,326.8 336.1,330.7 332.6,326.8 336.1,322.8"/>
<polygon points="346.8,326.8 343.2,330.7 339.7,326.8 343.2,322.8"/>
<polygon points="353.9,326.8 350.3,330.7 346.8,326.8 350.3,322.8"/>
<polygon points="361.0,326.8 357.4,330.7 353.9,326.8 357.4,322.8"/>
<polygon points="339.7,334.6 336.1,338.5 332.6,334.6 336.1,330.7"/>
<polygon points="346.8,334.6 343.2,338.5 339.7,334.6 343.2,330.7"/>
<polygon points="353.9,334.6 350.3,338.5 346.8,334.6 350.3,330.7"/>
<polygon points="361.0,334.6 357.4,338.5 353.9,334.6 357.4,330.7"/>
<polygon points="339.7,342.5 336.1,346.4 332.6,342.5 336.1,338.5"/>
<polygon points="346.8,342.5 343.2,346.4 339.7,342.5 343.2,338.5"/>
<polygon points="353.9,342.5 350.3,346.4 346.8,342.5 350.3,338.5"/>
<polygon points="361.0,342.5 357.4,346.4 353.9,342.5 357.4,338.5"/>
<polygon points="383.4,256.1 379.9,260.0 376.3,256.1 379.9,252.2"/>
<polygon points="390.6,256.1 387.0,260.0 383.4,256.1 387.0,252.2"/>
<polygon points="397.6,256.1 394.1,260.0 390.5,256.1 394.1,252.2"/>
<polygon points="404.8,256.1 401.2,260.0 397.6,256.1 401.2,252.2"/>
<polygon points="383.4,264.0 379.9,267.9 376.3,264.0 379.9,260.0"/>
<polygon points="390.6,264.0 387.0,267.9 383.4,264.0 387.0,260.0"/>
<polygon points="397.6,264.0 394.1,267.9 390.5,264.0 394.1,260.0"/>
<polygon points="404.8,264.0 401.2,267.9 397.6,264.0 401.2,260.0"/>
<polygon points="383.4,271.8 379.9,275.7 376.3,271.8 379.9,267.9"/>
<polygon points="390.6,271.8 387.0,275.7 383.4,271.8 387.0,267.9"/>
<polygon points="397.6,271.8 394.1,275.7 390.5,271.8 394.1,267.9"/>
<polygon points="404.8,271.8 401.2,275.7 397.6,271.8 401.2,267.9"/>
<polygon points="383.4,279.7 379.9,283.6 376.3,279.7 379.9,275.7"/>
<polygon points="390.6,279.7 387.0,283.6 383.4,279.7 387.0,275.7"/>
<polygon points="397.6,279.7 394.1,283.6 390.5,279.7 394.1,275.7"/>
<polygon points="404.8,279.7 401.2,283.6 397.6,279.7 401.2,275.7"/>
<polygon points="383.4,287.5 379.9,291.4 376.3,287.5 379.9,283.6"/>
<polygon points="390.6,287.5 387.0,291.4 383.4,287.5 387.0,283.6"/>
<polygon points="397.6,287.5 394.1,291.4 390.5,287.5 394.1,283.6"/>
<polygon points="404.8,287.5 401.2,291.4 397.6,287.5 401.2,283.6"/>
<polygon points="383.4,295.4 379.9,299.3 376.3,295.4 379.9,291.4"/>
<polygon points="390.6,295.4 387.0,299.3 383.4,295.4 387.0,291.4"/>
<polygon points="397.6,295.4 394.1,299.3 390.5,295.4 394.1,291.4"/>
<polygon points="404.8,295.4 401.2,299.3 397.6,295.4 401.2,291.4"/>
<polygon points="383.4,303.2 379.9,307.1 376.3,303.2 379.9,299.3"/>
<polygon points="390.6,303.2 387.0,307.1 383.4,303.2 387.0,299.3"/>
<polygon points="397.6,303.2 394.1,307.1 390.5,303.2 394.1,299.3"/>
<polygon points="404.8,303.2 401.2,307.1 397.6,303.2 401.2,299.3"/>
<polygon points="383.4,311.1 379.9,315.0 376.3,311.1 379.9,307.1"/>
<polygon points="390.6,311.1 387.0,315.0 383.4,311.1 387.0,307.1"/>
<polygon points="397.6,311.1 394.1,315.0 390.5,311.1 394.1,307.1"/>
<polygon points="404.8,311.1 401.2,315.0 397.6,311.1 401.2,307.1"/>
<polygon points="383.4,318.9 379.9,322.8 376.3,318.9 379.9,315.0"/>
<polygon points="390.6,318.9 387.0,322.8 383.4,318.9 387.0,315.0"/>
<polygon points="397.6,318.9 394.1,322.8 390.5,318.9 394.1,315.0"/>
<polygon points="404.8,318.9 401.2,322.8 397.6,318.9 401.2,315.0"/>
<polygon points="383.4,326.8 379.9,330.7 376.3,326.8 379.9,322.8"/>
<polygon points="390.6,326.8 387.0,330.7 383.4,326.8 387.0,322.8"/>
<polygon points="397.6,326.8 394.1,330.7 390.5,326.8 394.1,322.8"/>
<polygon points="404.8,326.8 401.2,330.7 397.6,326.8 401.2,322.8"/>
<polygon points="383.4,334.6 379.9,338.5 376.3,334.6 379.9,330.7"/>
<polygon points="390.6,334.6 387.0,338.5 383.4,334.6 387.0,330.7"/>
<polygon points="397.6,334.6 394.1,338.5 390.5,334.6 394.1,330.7"/>
<polygon points="404.8,334.6 401.2,338.5 397.6,334.6 401.2,330.7"/>
<polygon points="383.4,342.5 379.9,346.4 376.3,342.5 379.9,338.5"/>
<polygon points="390.6,342.5 387.0,346.4 383.4,342.5 387.0,338.5"/>
<polygon points="397.6,342.5 394.1,346.4 390.5,342.5 394.1,338.5"/>
<polygon points="404.8,342.5 401.2,346.4 397.6,342.5 401.2,338.5"/>
<polygon points="426.9,256.1 423.3,260.0 419.8,256.1 423.3,252.2"/>
<polygon points="434.0,256.1 430.4,260.0 426.9,256.1 430.4,252.2"/>
<polygon points="441.1,256.1 437.5,260.0 433.9,256.1 437.5,252.2"/>
<polygon points="448.2,256.1 444.6,260.0 441.1,256.1 444.6,252.2"/>
<polygon points="426.9,264.0 423.3,267.9 419.8,264.0 423.3,260.0"/>
<polygon points="434.0,264.0 430.4,267.9 426.9,264.0 430.4,260.0"/>
<polygon points="441.1,264.0 437.5,267.9 433.9,264.0 437.5,260.0"/>
<polygon points="448.2,264.0 444.6,267.9 441.1,264.0 444.6,260.0"/>
<polygon points="426.9,271.8 423.3,275.7 419.8,271.8 423.3,267.9"/>
<polygon points="434.0,271.8 430.4,275.7 426.9,271.8 430.4,267.9"/>
<polygon points="441.1,271.8 437.5,275.7 433.9,271.8 437.5,267.9"/>
<polygon points="448.2,271.8 444.6,275.7 441.1,271.8 444.6,267.9"/>
<polygon points="426.9,279.7 423.3,283.6 419.8,279.7 423.3,275.7"/>
<polygon points="434.0,279.7 430.4,283.6 426.9,279.7 430.4,275.7"/>
<polygon points="441.1,279.7 437.5,283.6 433.9,279.7 437.5,275.7"/>
<polygon points="448.2,279.7 444.6,283.6 441.1,279.7 444.6,275.7"/>
<polygon points="426.9,287.5 423.3,291.4 419.8,287.5 423.3,283.6"/>
<polygon points="434.0,287.5 430.4,291.4 426.9,287.5 430.4,283.6"/>
<polygon points="441.1,287.5 437.5,291.4 433.9,287.5 437.5,283.6"/>
<polygon points="448.2,287.5 444.6,291.4 441.1,287.5 444.6,283.6"/>
<polygon points="426.9,295.4 423.3,299.3 419.8,295.4 423.3,291.4"/>
<polygon points="434.0,295.4 430.4,299.3 426.9,295.4 430.4,291.4"/>
<polygon points="441.1,295.4 437.5,299.3 433.9,295.4 437.5,291.4"/>
<polygon points="448.2,295.4 444.6,299.3 441.1,295.4 444.6,291.4"/>
<polygon points="426.9,303.2 423.3,307.1 419.8,303.2 423.3,299.3"/>
<polygon points="434.0,303.2 430.4,307.1 426.9,303.2 430.4,299.3"/>
<polygon points="441.1,303.2 437.5,307.1 433.9,303.2 437.5,299.3"/>
<polygon points="448.2,303.2 444.6,307.1 441.1,303.2 444.6,299.3"/>
<polygon points="426.9,311.1 423.3,315.0 419.8,311.1 423.3,307.1"/>
<polygon points="434.0,311.1 430.4,315.0 426.9,311.1 430.4,307.1"/>
<polygon points="441.1,311.1 437.5,315.0 433.9,311.1 437.5,307.1"/>
<polygon points="448.2,311.1 444.6,315.0 441.1,311.1 444.6,307.1"/>
<polygon points="426.9,318.9 423.3,322.8 419.8,318.9 423.3,315.0"/>
<polygon points="434.0,318.9 430.4,322.8 426.9,318.9 430.4,315.0"/>
<polygon points="441.1,318.9 437.5,322.8 433.9,318.9 437.5,315.0"/>
<polygon points="448.2,318.9 444.6,322.8 441.1,318.9 444.6,315.0"/>
<polygon points="426.9,326.8 423.3,330.7 419.8,326.8 423.3,322.8"/>
<polygon points="434.0,326.8 430.4,330.7 426.9,326.8 430.4,322.8"/>
<polygon points="441.1,326.8 437.5,330.7 433.9,326.8 437.5,322.8"/>
<polygon points="448.2,326.8 444.6,330.7 441.1,326.8 444.6,322.8"/>
<polygon points="426.9,334.6 423.3,338.5 419.8,334.6 423.3,330.7"/>
<polygon points="434.0,334.6 430.4,338.5 426.9,334.6 430.4,330.7"/>
<polygon points="441.1,334.6 437.5,338.5 433.9,334.6 437.5,330.7"/>
<polygon points="448.2,334.6 444.6,338.5 441.1,334.6 444.6,330.7"/>
<polygon points="426.9,342.5 423.3,346.4 419.8,342.5 423.3,338.5"/>
<polygon points="434.0,342.5 430.4,346.4 426.9,342.5 430.4,338.5"/>
<polygon points="441.1,342.5 437.5,346.4 433.9,342.5 437.5,338.5"/>
<polygon points="448.2,342.5 444.6,346.4 441.1,342.5 444.6,338.5"/>
<polygon points="470.6,256.1 467.0,260.0 463.4,256.1 467.0,252.2"/>
<polygon points="477.7,256.1 474.1,260.0 470.6,256.1 474.1,252.2"/>
<polygon points="484.8,256.1 481.2,260.0 477.6,256.1 481.2,252.2"/>
<polygon points="491.9,256.1 488.3,260.0 484.8,256.1 488.3,252.2"/>
<polygon points="470.6,264.0 467.0,267.9 463.4,264.0 467.0,260.0"/>
<polygon points="477.7,264.0 474.1,267.9 470.6,264.0 474.1,260.0"/>
<polygon points="484.8,264.0 481.2,267.9 477.6,264.0 481.2,260.0"/>
<polygon points="491.9,264.0 488.3,267.9 484.8,264.0 488.3,260.0"/>
<polygon points="470.6,271.8 467.0,275.7 463.4,271.8 467.0,267.9"/>
<polygon points="477.7,271.8 474.1,275.7 470.6,271.8 474.1,267.9"/>
<polygon points="484.8,271.8 481.2,275.7 477.6,271.8 481.2,267.9"/>
<polygon points="491.9,271.8 488.3,275.7 484.8,271.8 488.3,267.9"/>
<polygon points="470.6,279.7 467.0,283.6 463.4,279.7 467.0,275.7"/>
<polygon points="477.7,279.7 474.1,283.6 470.6,279.7 474.1,275.7"/>
<polygon points="484.8,279.7 481.2,283.6 477.6,279.7 481.2,275.7"/>
<polygon points="491.9,279.7 488.3,283.6 484.8,279.7 488.3,275.7"/>
<polygon points="470.6,287.5 467.0,291.4 463.4,287.5 467.0,283.6"/>
<polygon points="477.7,287.5 474.1,291.4 470.6,287.5 474.1,283.6"/>
<polygon points="484.8,287.5 481.2,291.4 477.6,287.5 481.2,283.6"/>
<polygon points="491.9,287.5 488.3,291.4 484.8,287.5 488.3,283.6"/>
<polygon points="470.6,295.4 467.0,299.3 463.4,295.4 467.0,291.4"/>
<polygon points="477.7,295.4 474.1,299.3 470.6,295.4 474.1,291.4"/>
<polygon points="484.8,295.4 481.2,299.3 477.6,295.4 481.2,291.4"/>
<polygon points="491.9,295.4 488.3,299.3 484.8,295.4 488.3,291.4"/>
<polygon points="470.6,303.2 467.0,307.1 463.4,303.2 467.0,299.3"/>
<polygon points="477.7,303.2 474.1,307.1 470.6,303.2 474.1,299.3"/>
<polygon points="484.8,303.2 481.2,307.1 477.6,303.2 481.2,299.3"/>
<polygon points="491.9,303.2 488.3,307.1 484.8,303.2 488.3,299.3"/>
<polygon points="470.6,311.1 467.0,315.0 463.4,311.1 467.0,307.1"/>
<polygon points="477.7,311.1 474.1,315.0 470.6,311.1 474.1,307.1"/>
<polygon points="484.8,311.1 481.2,315.0 477.6,311.1 481.2,307.1"/>
<polygon points="491.9,311.1 488.3,315.0 484.8,311.1 488.3,307.1"/>
<polygon points="470.6,318.9 467.0,322.8 463.4,318.9 467.0,315.0"/>
<polygon points="477.7,318.9 474.1,322.8 470.6,318.9 474.1,315.0"/>
<polygon points="484.8,318.9 481.2,322.8 477.6,318.9 481.2,315.0"/>
<polygon points="491.9,318.9 488.3,322.8 484.8,318.9 488.3,315.0"/>
<polygon points="470.6,326.8 467.0,330.7 463.4,326.8 467.0,322.8"/>
<polygon points="477.7,326.8 474.1,330.7 470.6,326.8 474.1,322.8"/>
<polygon points="484.8,326.8 481.2,330.7 477.6,326.8 481.2,322.8"/>
<polygon points="491.9,326.8 488.3,330.7 484.8,326.8 488.3,322.8"/>
<polygon points="470.6,334.6 467.0,338.5 463.4,334.6 467.0,330.7"/>
<polygon points="477.7,334.6 474.1,338.5 470.6,334.6 474.1,330.7"/>
<polygon points="484.8,334.6 481.2,338.5 477.6,334.6 481.2,330.7"/>
<polygon points="491.9,334.6 488.3,338.5 484.8,334.6 488.3,330.7"/>
<polygon points="470.6,342.5 467.0,346.4 463.4,342.5 467.0,338.5"/>
<polygon points="477.7,342.5 474.1,346.4 470.6,342.5 474.1,338.5"/>
<polygon points="484.8,342.5 481.2,346.4 477.6,342.5 481.2,338.5"/>
<polygon points="491.9,342.5 488.3,346.4 484.8,342.5 488.3,338.5"/>
<polygon points="514.0,256.1 510.5,260.0 506.9,256.1 510.5,252.2"/>
<polygon points="521.1,256.1 517.6,260.0 514.1,256.1 517.6,252.2"/>
<polygon points="528.2,256.1 524.7,260.0 521.2,256.1 524.7,252.2"/>
<polygon points="535.3,256.1 531.8,260.0 528.2,256.1 531.8,252.2"/>
<polygon points="514.0,264.0 510.5,267.9 506.9,264.0 510.5,260.0"/>
<polygon points="521.1,264.0 517.6,267.9 514.1,264.0 517.6,260.0"/>
<polygon points="528.2,264.0 524.7,267.9 521.2,264.0 524.7,260.0"/>
<polygon points="535.3,264.0 531.8,267.9 528.2,264.0 531.8,260.0"/>
<polygon points="514.0,271.8 510.5,275.7 506.9,271.8 510.5,267.9"/>
<polygon points="521.1,271.8 517.6,275.7 514.1,271.8 517.6,267.9"/>
<polygon points="528.2,271.8 524.7,275.7 521.2,271.8 524.7,267.9"/>
<polygon points="535.3,271.8 531.8,275.7 528.2,271.8 531.8,267.9"/>
<polygon points="514.0,279.7 510.5,283.6 506.9,279.7 510.5,275.7"/>
<polygon points="521.1,279.7 517.6,283.6 514.1,279.7 517.6,275.7"/>
<polygon points="528.2,279.7 524.7,283.6 521.2,279.7 524.7,275.7"/>
<polygon points="535.3,279.7 531.8,283.6 528.2,279.7 531.8,275.7"/>
<polygon points="514.0,287.5 510.5,291.4 506.9,287.5 510.5,283.6"/>
<polygon points="521.1,287.5 517.6,291.4 514.1,287.5 517.6,283.6"/>
<polygon points="528.2,287.5 524.7,291.4 521.2,287.5 524.7,283.6"/>
<polygon points="535.3,287.5 531.8,291.4 528.2,287.5 531.8,283.6"/>
<polygon points="514.0,295.4 510.5,299.3 506.9,295.4 510.5,291.4"/>
<polygon points="521.1,295.4 517.6,299.3 514.1,295.4 517.6,291.4"/>
<polygon points="528.2,295.4 524.7,299.3 521.2,295.4 524.7,291.4"/>
<polygon points="535.3,295.4 531.8,299.3 528.2,295.4 531.8,291.4"/>
<polygon points="514.0,303.2 510.5,307.1 506.9,303.2 510.5,299.3"/>
<polygon points="521.1,303.2 517.6,307.1 514.1,303.2 517.6,299.3"/>
<polygon points="528.2,303.2 524.7,307.1 521.2,303.2 524.7,299.3"/>
<polygon points="535.3,303.2 531.8,307.1 528.2,303.2 531.8,299.3"/>
<polygon points="514.0,311.1 510.5,315.0 506.9,311.1 510.5,307.1"/>
<polygon points="521.1,311.1 517.6,315.0 514.1,311.1 517.6,307.1"/>
<polygon points="528.2,311.1 524.7,315.0 521.2,311.1 524.7,307.1"/>
<polygon points="535.3,311.1 531.8,315.0 528.2,311.1 531.8,307.1"/>
<polygon points="514.0,318.9 510.5,322.8 506.9,318.9 510.5,315.0"/>
<polygon points="521.1,318.9 517.6,322.8 514.1,318.9 517.6,315.0"/>
<polygon points="528.2,318.9 524.7,322.8 521.2,318.9 524.7,315.0"/>
<polygon points="535.3,318.9 531.8,322.8 528.2,318.9 531.8,315.0"/>
<polygon points="514.0,326.8 510.5,330.7 506.9,326.8 510.5,322.8"/>
<polygon points="521.1,326.8 517.6,330.7 514.1,326.8 517.6,322.8"/>
<polygon points="528.2,326.8 524.7,330.7 521.2,326.8 524.7,322.8"/>
<polygon points="535.3,326.8 531.8,330.7 528.2,326.8 531.8,322.8"/>
<polygon points="514.0,334.6 510.5,338.5 506.9,334.6 510.5,330.7"/>
<polygon points="521.1,334.6 517.6,338.5 514.1,334.6 517.6,330.7"/>
<polygon points="528.2,334.6 524.7,338.5 521.2,334.6 524.7,330.7"/>
<polygon points="535.3,334.6 531.8,338.5 528.2,334.6 531.8,330.7"/>
<polygon points="514.0,342.5 510.5,346.4 506.9,342.5 510.5,338.5"/>
<polygon points="521.1,342.5 517.6,346.4 514.1,342.5 517.6,338.5"/>
<polygon points="528.2,342.5 524.7,346.4 521.2,342.5 524.7,338.5"/>
<polygon points="535.3,342.5 531.8,346.4 528.2,342.5 531.8,338.5"/>
</g>
<g fill="#8c8090">
<circle cx="15.4" cy="255.9" r="1.15"/>
<circle cx="23.0" cy="255.9" r="1.15"/>
<circle cx="30.6" cy="255.9" r="1.15"/>
<circle cx="38.2" cy="255.9" r="1.15"/>
<circle cx="45.8" cy="255.9" r="1.15"/>
<circle cx="53.4" cy="255.9" r="1.15"/>
<circle cx="61.0" cy="255.9" r="1.15"/>
<circle cx="68.6" cy="255.9" r="1.15"/>
<circle cx="76.2" cy="255.9" r="1.15"/>
<circle cx="83.8" cy="255.9" r="1.15"/>
<circle cx="91.4" cy="255.9" r="1.15"/>
<circle cx="99.0" cy="255.9" r="1.15"/>
<circle cx="106.6" cy="255.9" r="1.15"/>
<circle cx="114.2" cy="255.9" r="1.15"/>
<circle cx="121.8" cy="255.9" r="1.15"/>
<circle cx="129.4" cy="255.9" r="1.15"/>
<circle cx="137.0" cy="255.9" r="1.15"/>
<circle cx="144.6" cy="255.9" r="1.15"/>
<circle cx="152.2" cy="255.9" r="1.15"/>
<circle cx="159.8" cy="255.9" r="1.15"/>
<circle cx="167.4" cy="255.9" r="1.15"/>
<circle cx="175.0" cy="255.9" r="1.15"/>
<circle cx="182.6" cy="255.9" r="1.15"/>
<circle cx="190.2" cy="255.9" r="1.15"/>
<circle cx="197.8" cy="255.9" r="1.15"/>
<circle cx="205.4" cy="255.9" r="1.15"/>
<circle cx="213.0" cy="255.9" r="1.15"/>
<circle cx="220.6" cy="255.9" r="1.15"/>
<circle cx="228.2" cy="255.9" r="1.15"/>
<circle cx="235.8" cy="255.9" r="1.15"/>
<circle cx="243.4" cy="255.9" r="1.15"/>
<circle cx="251.0" cy="255.9" r="1.15"/>
<circle cx="15.4" cy="263.4" r="1.15"/>
<circle cx="23.0" cy="263.4" r="1.15"/>
<circle cx="30.6" cy="263.4" r="1.15"/>
<circle cx="38.2" cy="263.4" r="1.15"/>
<circle cx="45.8" cy="263.4" r="1.15"/>
<circle cx="53.4" cy="263.4" r="1.15"/>
<circle cx="61.0" cy="263.4" r="1.15"/>
<circle cx="68.6" cy="263.4" r="1.15"/>
<circle cx="76.2" cy="263.4" r="1.15"/>
<circle cx="83.8" cy="263.4" r="1.15"/>
<circle cx="91.4" cy="263.4" r="1.15"/>
<circle cx="99.0" cy="263.4" r="1.15"/>
<circle cx="106.6" cy="263.4" r="1.15"/>
<circle cx="114.2" cy="263.4" r="1.15"/>
<circle cx="121.8" cy="263.4" r="1.15"/>
<circle cx="129.4" cy="263.4" r="1.15"/>
<circle cx="137.0" cy="263.4" r="1.15"/>
<circle cx="144.6" cy="263.4" r="1.15"/>
<circle cx="152.2" cy="263.4" r="1.15"/>
<circle cx="159.8" cy="263.4" r="1.15"/>
<circle cx="167.4" cy="263.4" r="1.15"/>
<circle cx="175.0" cy="263.4" r="1.15"/>
<circle cx="182.6" cy="263.4" r="1.15"/>
<circle cx="190.2" cy="263.4" r="1.15"/>
<circle cx="197.8" cy="263.4" r="1.15"/>
<circle cx="205.4" cy="263.4" r="1.15"/>
<circle cx="213.0" cy="263.4" r="1.15"/>
<circle cx="220.6" cy="263.4" r="1.15"/>
<circle cx="228.2" cy="263.4" r="1.15"/>
<circle cx="235.8" cy="263.4" r="1.15"/>
<circle cx="243.4" cy="263.4" r="1.15"/>
<circle cx="251.0" cy="263.4" r="1.15"/>
<circle cx="15.4" cy="270.8" r="1.15"/>
<circle cx="23.0" cy="270.8" r="1.15"/>
<circle cx="30.6" cy="270.8" r="1.15"/>
<circle cx="38.2" cy="270.8" r="1.15"/>
<circle cx="45.8" cy="270.8" r="1.15"/>
<circle cx="53.4" cy="270.8" r="1.15"/>
<circle cx="61.0" cy="270.8" r="1.15"/>
<circle cx="68.6" cy="270.8" r="1.15"/>
<circle cx="76.2" cy="270.8" r="1.15"/>
<circle cx="83.8" cy="270.8" r="1.15"/>
<circle cx="91.4" cy="270.8" r="1.15"/>
<circle cx="99.0" cy="270.8" r="1.15"/>
<circle cx="106.6" cy="270.8" r="1.15"/>
<circle cx="114.2" cy="270.8" r="1.15"/>
<circle cx="121.8" cy="270.8" r="1.15"/>
<circle cx="129.4" cy="270.8" r="1.15"/>
<circle cx="137.0" cy="270.8" r="1.15"/>
<circle cx="144.6" cy="270.8" r="1.15"/>
<circle cx="152.2" cy="270.8" r="1.15"/>
<circle cx="159.8" cy="270.8" r="1.15"/>
<circle cx="167.4" cy="270.8" r="1.15"/>
<circle cx="175.0" cy="270.8" r="1.15"/>
<circle cx="182.6" cy="270.8" r="1.15"/>
<circle cx="190.2" cy="270.8" r="1.15"/>
<circle cx="197.8" cy="270.8" r="1.15"/>
<circle cx="205.4" cy="270.8" r="1.15"/>
<circle cx="213.0" cy="270.8" r="1.15"/>
<circle cx="220.6" cy="270.8" r="1.15"/>
<circle cx="228.2" cy="270.8" r="1.15"/>
<circle cx="235.8" cy="270.8" r="1.15"/>
<circle cx="243.4" cy="270.8" r="1.15"/>
<circle cx="251.0" cy="270.8" r="1.15"/>
<circle cx="15.4" cy="278.2" r="1.15"/>
<circle cx="23.0" cy="278.2" r="1.15"/>
<circle cx="30.6" cy="278.2" r="1.15"/>
<circle cx="38.2" cy="278.2" r="1.15"/>
<circle cx="45.8" cy="278.2" r="1.15"/>
<circle cx="53.4" cy="278.2" r="1.15"/>
<circle cx="61.0" cy="278.2" r="1.15"/>
<circle cx="68.6" cy="278.2" r="1.15"/>
<circle cx="76.2" cy="278.2" r="1.15"/>
<circle cx="83.8" cy="278.2" r="1.15"/>
<circle cx="91.4" cy="278.2" r="1.15"/>
<circle cx="99.0" cy="278.2" r="1.15"/>
<circle cx="106.6" cy="278.2" r="1.15"/>
<circle cx="114.2" cy="278.2" r="1.15"/>
<circle cx="121.8" cy="278.2" r="1.15"/>
<circle cx="129.4" cy="278.2" r="1.15"/>
<circle cx="137.0" cy="278.2" r="1.15"/>
<circle cx="144.6" cy="278.2" r="1.15"/>
<circle cx="152.2" cy="278.2" r="1.15"/>
<circle cx="159.8" cy="278.2" r="1.15"/>
<circle cx="167.4" cy="278.2" r="1.15"/>
<circle cx="175.0" cy="278.2" r="1.15"/>
<circle cx="182.6" cy="278.2" r="1.15"/>
<circle cx="190.2" cy="278.2" r="1.15"/>
<circle cx="197.8" cy="278.2" r="1.15"/>
<circle cx="205.4" cy="278.2" r="1.15"/>
<circle cx="213.0" cy="278.2" r="1.15"/>
<circle cx="220.6" cy="278.2" r="1.15"/>
<circle cx="228.2" cy="278.2" r="1.15"/>
<circle cx="235.8" cy="278.2" r="1.15"/>
<circle cx="243.4" cy="278.2" r="1.15"/>
<circle cx="251.0" cy="278.2" r="1.15"/>
<circle cx="16.6" cy="287.5" r="1.15"/>
<circle cx="23.8" cy="286.9" r="1.15"/>
<circle cx="30.9" cy="286.2" r="1.15"/>
<circle cx="38.1" cy="285.6" r="1.15"/>
<circle cx="17.3" cy="295.0" r="1.15"/>
<circle cx="24.4" cy="294.3" r="1.15"/>
<circle cx="31.6" cy="293.7" r="1.15"/>
<circle cx="38.8" cy="293.1" r="1.15"/>
<circle cx="17.9" cy="302.4" r="1.15"/>
<circle cx="25.1" cy="301.8" r="1.15"/>
<circle cx="32.3" cy="301.2" r="1.15"/>
<circle cx="39.4" cy="300.6" r="1.15"/>
<circle cx="18.6" cy="309.9" r="1.15"/>
<circle cx="25.7" cy="309.3" r="1.15"/>
<circle cx="32.9" cy="308.7" r="1.15"/>
<circle cx="40.1" cy="308.0" r="1.15"/>
<circle cx="59.6" cy="285.3" r="1.15"/>
<circle cx="66.7" cy="285.7" r="1.15"/>
<circle cx="73.8" cy="286.0" r="1.15"/>
<circle cx="59.2" cy="292.9" r="1.15"/>
<circle cx="66.3" cy="293.3" r="1.15"/>
<circle cx="73.4" cy="293.6" r="1.15"/>
<circle cx="58.8" cy="300.5" r="1.15"/>
<circle cx="65.9" cy="300.9" r="1.15"/>
<circle cx="73.0" cy="301.2" r="1.15"/>
<circle cx="58.4" cy="308.1" r="1.15"/>
<circle cx="65.5" cy="308.4" r="1.15"/>
<circle cx="72.6" cy="308.8" r="1.15"/>
<circle cx="93.7" cy="287.8" r="1.15"/>
<circle cx="100.7" cy="287.1" r="1.15"/>
<circle cx="107.6" cy="286.3" r="1.15"/>
<circle cx="114.6" cy="285.6" r="1.15"/>
<circle cx="121.5" cy="284.9" r="1.15"/>
<circle cx="94.5" cy="295.4" r="1.15"/>
<circle cx="101.5" cy="294.6" r="1.15"/>
<circle cx="108.4" cy="293.9" r="1.15"/>
<circle cx="115.4" cy="293.2" r="1.15"/>
<circle cx="122.3" cy="292.4" r="1.15"/>
<circle cx="95.3" cy="302.9" r="1.15"/>
<circle cx="102.3" cy="302.2" r="1.15"/>
<circle cx="109.2" cy="301.5" r="1.15"/>
<circle cx="116.2" cy="300.7" r="1.15"/>
<circle cx="123.1" cy="300.0" r="1.15"/>
<circle cx="96.1" cy="310.5" r="1.15"/>
<circle cx="103.0" cy="309.7" r="1.15"/>
<circle cx="110.0" cy="309.0" r="1.15"/>
<circle cx="117.0" cy="308.3" r="1.15"/>
<circle cx="123.9" cy="307.5" r="1.15"/>
<circle cx="143.2" cy="285.2" r="1.15"/>
<circle cx="150.3" cy="285.7" r="1.15"/>
<circle cx="157.4" cy="286.2" r="1.15"/>
<circle cx="164.4" cy="286.7" r="1.15"/>
<circle cx="142.7" cy="292.8" r="1.15"/>
<circle cx="149.8" cy="293.3" r="1.15"/>
<circle cx="156.8" cy="293.8" r="1.15"/>
<circle cx="163.9" cy="294.3" r="1.15"/>
<circle cx="142.1" cy="300.4" r="1.15"/>
<circle cx="149.2" cy="300.9" r="1.15"/>
<circle cx="156.3" cy="301.4" r="1.15"/>
<circle cx="163.4" cy="301.8" r="1.15"/>
<circle cx="141.6" cy="307.9" r="1.15"/>
<circle cx="148.7" cy="308.4" r="1.15"/>
<circle cx="155.8" cy="308.9" r="1.15"/>
<circle cx="162.9" cy="309.4" r="1.15"/>
<circle cx="182.6" cy="285.1" r="1.15"/>
<circle cx="189.7" cy="285.1" r="1.15"/>
<circle cx="196.8" cy="285.1" r="1.15"/>
<circle cx="182.6" cy="292.4" r="1.15"/>
<circle cx="189.7" cy="292.4" r="1.15"/>
<circle cx="196.8" cy="292.4" r="1.15"/>
<circle cx="182.6" cy="299.7" r="1.15"/>
<circle cx="189.7" cy="299.7" r="1.15"/>
<circle cx="196.8" cy="299.7" r="1.15"/>
<circle cx="182.6" cy="307.0" r="1.15"/>
<circle cx="189.7" cy="307.0" r="1.15"/>
<circle cx="196.8" cy="307.0" r="1.15"/>
<circle cx="226.7" cy="285.1" r="1.15"/>
<circle cx="233.7" cy="286.7" r="1.15"/>
<circle cx="240.7" cy="288.3" r="1.15"/>
<circle cx="247.7" cy="290.0" r="1.15"/>
<circle cx="225.0" cy="292.3" r="1.15"/>
<circle cx="232.1" cy="293.9" r="1.15"/>
<circle cx="239.1" cy="295.5" r="1.15"/>
<circle cx="246.1" cy="297.2" r="1.15"/>
<circle cx="223.4" cy="299.5" r="1.15"/>
<circle cx="230.4" cy="301.1" r="1.15"/>
<circle cx="237.4" cy="302.8" r="1.15"/>
<circle cx="244.4" cy="304.4" r="1.15"/>
<circle cx="221.7" cy="306.7" r="1.15"/>
<circle cx="228.7" cy="308.4" r="1.15"/>
<circle cx="235.7" cy="310.0" r="1.15"/>
<circle cx="242.8" cy="311.6" r="1.15"/>
<circle cx="18.9" cy="318.6" r="1.15"/>
<circle cx="26.1" cy="319.5" r="1.15"/>
<circle cx="33.4" cy="320.4" r="1.15"/>
<circle cx="18.0" cy="325.8" r="1.15"/>
<circle cx="25.3" cy="326.7" r="1.15"/>
<circle cx="32.5" cy="327.6" r="1.15"/>
<circle cx="17.1" cy="333.1" r="1.15"/>
<circle cx="24.4" cy="334.0" r="1.15"/>
<circle cx="31.6" cy="334.9" r="1.15"/>
<circle cx="16.2" cy="340.3" r="1.15"/>
<circle cx="23.5" cy="341.2" r="1.15"/>
<circle cx="30.7" cy="342.1" r="1.15"/>
<circle cx="50.6" cy="319.7" r="1.15"/>
<circle cx="57.9" cy="318.9" r="1.15"/>
<circle cx="65.1" cy="318.2" r="1.15"/>
<circle cx="72.4" cy="317.4" r="1.15"/>
<circle cx="51.4" cy="327.1" r="1.15"/>
<circle cx="58.6" cy="326.3" r="1.15"/>
<circle cx="65.9" cy="325.5" r="1.15"/>
<circle cx="73.2" cy="324.8" r="1.15"/>
<circle cx="52.1" cy="334.4" r="1.15"/>
<circle cx="59.4" cy="333.7" r="1.15"/>
<circle cx="66.7" cy="332.9" r="1.15"/>
<circle cx="73.9" cy="332.1" r="1.15"/>
<circle cx="52.9" cy="341.8" r="1.15"/>
<circle cx="60.2" cy="341.0" r="1.15"/>
<circle cx="67.4" cy="340.3" r="1.15"/>
<circle cx="74.7" cy="339.5" r="1.15"/>
<circle cx="95.1" cy="319.3" r="1.15"/>
<circle cx="102.9" cy="319.3" r="1.15"/>
<circle cx="95.1" cy="326.5" r="1.15"/>
<circle cx="102.9" cy="326.5" r="1.15"/>
<circle cx="95.1" cy="333.7" r="1.15"/>
<circle cx="102.9" cy="333.7" r="1.15"/>
<circle cx="95.1" cy="340.9" r="1.15"/>
<circle cx="102.9" cy="340.9" r="1.15"/>
<circle cx="118.4" cy="316.3" r="1.15"/>
<circle cx="125.6" cy="315.0" r="1.15"/>
<circle cx="132.8" cy="313.8" r="1.15"/>
<circle cx="119.7" cy="323.9" r="1.15"/>
<circle cx="126.9" cy="322.6" r="1.15"/>
<circle cx="134.1" cy="321.3" r="1.15"/>
<circle cx="121.1" cy="331.5" r="1.15"/>
<circle cx="128.3" cy="330.2" r="1.15"/>
<circle cx="135.5" cy="328.9" r="1.15"/>
<circle cx="122.4" cy="339.0" r="1.15"/>
<circle cx="129.6" cy="337.8" r="1.15"/>
<circle cx="136.8" cy="336.5" r="1.15"/>
<circle cx="156.5" cy="319.3" r="1.15"/>
<circle cx="163.7" cy="317.9" r="1.15"/>
<circle cx="157.9" cy="326.4" r="1.15"/>
<circle cx="165.0" cy="325.0" r="1.15"/>
<circle cx="159.2" cy="333.4" r="1.15"/>
<circle cx="166.4" cy="332.0" r="1.15"/>
<circle cx="160.6" cy="340.5" r="1.15"/>
<circle cx="167.8" cy="339.1" r="1.15"/>
<circle cx="190.0" cy="315.6" r="1.15"/>
<circle cx="197.0" cy="317.6" r="1.15"/>
<circle cx="204.0" cy="319.6" r="1.15"/>
<circle cx="211.1" cy="321.6" r="1.15"/>
<circle cx="187.9" cy="322.8" r="1.15"/>
<circle cx="194.9" cy="324.8" r="1.15"/>
<circle cx="202.0" cy="326.8" r="1.15"/>
<circle cx="209.0" cy="328.8" r="1.15"/>
<circle cx="185.9" cy="330.0" r="1.15"/>
<circle cx="192.9" cy="332.0" r="1.15"/>
<circle cx="199.9" cy="334.0" r="1.15"/>
<circle cx="206.9" cy="336.1" r="1.15"/>
<circle cx="183.8" cy="337.2" r="1.15"/>
<circle cx="190.8" cy="339.2" r="1.15"/>
<circle cx="197.8" cy="341.3" r="1.15"/>
<circle cx="204.8" cy="343.3" r="1.15"/>
<circle cx="221.8" cy="322.5" r="1.15"/>
<circle cx="228.8" cy="320.5" r="1.15"/>
<circle cx="235.8" cy="318.5" r="1.15"/>
<circle cx="223.9" cy="329.7" r="1.15"/>
<circle cx="230.9" cy="327.7" r="1.15"/>
<circle cx="237.9" cy="325.7" r="1.15"/>
<circle cx="225.9" cy="336.9" r="1.15"/>
<circle cx="233.0" cy="334.9" r="1.15"/>
<circle cx="240.0" cy="332.9" r="1.15"/>
<circle cx="228.0" cy="344.1" r="1.15"/>
<circle cx="235.0" cy="342.1" r="1.15"/>
<circle cx="242.0" cy="340.1" r="1.15"/>
<circle cx="292.0" cy="256.1" r="1.15"/>
<circle cx="299.1" cy="256.1" r="1.15"/>
<circle cx="306.2" cy="256.1" r="1.15"/>
<circle cx="313.3" cy="256.1" r="1.15"/>
<circle cx="292.0" cy="264.0" r="1.15"/>
<circle cx="299.1" cy="264.0" r="1.15"/>
<circle cx="306.2" cy="264.0" r="1.15"/>
<circle cx="313.3" cy="264.0" r="1.15"/>
<circle cx="292.0" cy="271.8" r="1.15"/>
<circle cx="299.1" cy="271.8" r="1.15"/>
<circle cx="306.2" cy="271.8" r="1.15"/>
<circle cx="313.3" cy="271.8" r="1.15"/>
<circle cx="292.0" cy="279.7" r="1.15"/>
<circle cx="299.1" cy="279.7" r="1.15"/>
<circle cx="306.2" cy="279.7" r="1.15"/>
<circle cx="313.3" cy="279.7" r="1.15"/>
<circle cx="292.0" cy="287.5" r="1.15"/>
<circle cx="299.1" cy="287.5" r="1.15"/>
<circle cx="306.2" cy="287.5" r="1.15"/>
<circle cx="313.3" cy="287.5" r="1.15"/>
<circle cx="292.0" cy="295.4" r="1.15"/>
<circle cx="299.1" cy="295.4" r="1.15"/>
<circle cx="306.2" cy="295.4" r="1.15"/>
<circle cx="313.3" cy="295.4" r="1.15"/>
<circle cx="292.0" cy="303.2" r="1.15"/>
<circle cx="299.1" cy="303.2" r="1.15"/>
<circle cx="306.2" cy="303.2" r="1.15"/>
<circle cx="313.3" cy="303.2" r="1.15"/>
<circle cx="292.0" cy="311.1" r="1.15"/>
<circle cx="299.1" cy="311.1" r="1.15"/>
<circle cx="306.2" cy="311.1" r="1.15"/>
<circle cx="313.3" cy="311.1" r="1.15"/>
<circle cx="292.0" cy="318.9" r="1.15"/>
<circle cx="299.1" cy="318.9" r="1.15"/>
<circle cx="306.2" cy="318.9" r="1.15"/>
<circle cx="313.3" cy="318.9" r="1.15"/>
<circle cx="292.0" cy="326.8" r="1.15"/>
<circle cx="299.1" cy="326.8" r="1.15"/>
<circle cx="306.2" cy="326.8" r="1.15"/>
<circle cx="313.3" cy="326.8" r="1.15"/>
<circle cx="292.0" cy="334.6" r="1.15"/>
<circle cx="299.1" cy="334.6" r="1.15"/>
<circle cx="306.2" cy="334.6" r="1.15"/>
<circle cx="313.3" cy="334.6" r="1.15"/>
<circle cx="292.0" cy="342.5" r="1.15"/>
<circle cx="299.1" cy="342.5" r="1.15"/>
<circle cx="306.2" cy="342.5" r="1.15"/>
<circle cx="313.3" cy="342.5" r="1.15"/>
<circle cx="336.1" cy="256.1" r="1.15"/>
<circle cx="343.2" cy="256.1" r="1.15"/>
<circle cx="350.3" cy="256.1" r="1.15"/>
<circle cx="357.4" cy="256.1" r="1.15"/>
<circle cx="336.1" cy="264.0" r="1.15"/>
<circle cx="343.2" cy="264.0" r="1.15"/>
<circle cx="350.3" cy="264.0" r="1.15"/>
<circle cx="357.4" cy="264.0" r="1.15"/>
<circle cx="336.1" cy="271.8" r="1.15"/>
<circle cx="343.2" cy="271.8" r="1.15"/>
<circle cx="350.3" cy="271.8" r="1.15"/>
<circle cx="357.4" cy="271.8" r="1.15"/>
<circle cx="336.1" cy="279.7" r="1.15"/>
<circle cx="343.2" cy="279.7" r="1.15"/>
<circle cx="350.3" cy="279.7" r="1.15"/>
<circle cx="357.4" cy="279.7" r="1.15"/>
<circle cx="336.1" cy="287.5" r="1.15"/>
<circle cx="343.2" cy="287.5" r="1.15"/>
<circle cx="350.3" cy="287.5" r="1.15"/>
<circle cx="357.4" cy="287.5" r="1.15"/>
<circle cx="336.1" cy="295.4" r="1.15"/>
<circle cx="343.2" cy="295.4" r="1.15"/>
<circle cx="350.3" cy="295.4" r="1.15"/>
<circle cx="357.4" cy="295.4" r="1.15"/>
<circle cx="336.1" cy="303.2" r="1.15"/>
<circle cx="343.2" cy="303.2" r="1.15"/>
<circle cx="350.3" cy="303.2" r="1.15"/>
<circle cx="357.4" cy="303.2" r="1.15"/>
<circle cx="336.1" cy="311.1" r="1.15"/>
<circle cx="343.2" cy="311.1" r="1.15"/>
<circle cx="350.3" cy="311.1" r="1.15"/>
<circle cx="357.4" cy="311.1" r="1.15"/>
<circle cx="336.1" cy="318.9" r="1.15"/>
<circle cx="343.2" cy="318.9" r="1.15"/>
<circle cx="350.3" cy="318.9" r="1.15"/>
<circle cx="357.4" cy="318.9" r="1.15"/>
<circle cx="336.1" cy="326.8" r="1.15"/>
<circle cx="343.2" cy="326.8" r="1.15"/>
<circle cx="350.3" cy="326.8" r="1.15"/>
<circle cx="357.4" cy="326.8" r="1.15"/>
<circle cx="336.1" cy="334.6" r="1.15"/>
<circle cx="343.2" cy="334.6" r="1.15"/>
<circle cx="350.3" cy="334.6" r="1.15"/>
<circle cx="357.4" cy="334.6" r="1.15"/>
<circle cx="336.1" cy="342.5" r="1.15"/>
<circle cx="343.2" cy="342.5" r="1.15"/>
<circle cx="350.3" cy="342.5" r="1.15"/>
<circle cx="357.4" cy="342.5" r="1.15"/>
<circle cx="379.9" cy="256.1" r="1.15"/>
<circle cx="387.0" cy="256.1" r="1.15"/>
<circle cx="394.1" cy="256.1" r="1.15"/>
<circle cx="401.2" cy="256.1" r="1.15"/>
<circle cx="379.9" cy="264.0" r="1.15"/>
<circle cx="387.0" cy="264.0" r="1.15"/>
<circle cx="394.1" cy="264.0" r="1.15"/>
<circle cx="401.2" cy="264.0" r="1.15"/>
<circle cx="379.9" cy="271.8" r="1.15"/>
<circle cx="387.0" cy="271.8" r="1.15"/>
<circle cx="394.1" cy="271.8" r="1.15"/>
<circle cx="401.2" cy="271.8" r="1.15"/>
<circle cx="379.9" cy="279.7" r="1.15"/>
<circle cx="387.0" cy="279.7" r="1.15"/>
<circle cx="394.1" cy="279.7" r="1.15"/>
<circle cx="401.2" cy="279.7" r="1.15"/>
<circle cx="379.9" cy="287.5" r="1.15"/>
<circle cx="387.0" cy="287.5" r="1.15"/>
<circle cx="394.1" cy="287.5" r="1.15"/>
<circle cx="401.2" cy="287.5" r="1.15"/>
<circle cx="379.9" cy="295.4" r="1.15"/>
<circle cx="387.0" cy="295.4" r="1.15"/>
<circle cx="394.1" cy="295.4" r="1.15"/>
<circle cx="401.2" cy="295.4" r="1.15"/>
<circle cx="379.9" cy="303.2" r="1.15"/>
<circle cx="387.0" cy="303.2" r="1.15"/>
<circle cx="394.1" cy="303.2" r="1.15"/>
<circle cx="401.2" cy="303.2" r="1.15"/>
<circle cx="379.9" cy="311.1" r="1.15"/>
<circle cx="387.0" cy="311.1" r="1.15"/>
<circle cx="394.1" cy="311.1" r="1.15"/>
<circle cx="401.2" cy="311.1" r="1.15"/>
<circle cx="379.9" cy="318.9" r="1.15"/>
<circle cx="387.0" cy="318.9" r="1.15"/>
<circle cx="394.1" cy="318.9" r="1.15"/>
<circle cx="401.2" cy="318.9" r="1.15"/>
<circle cx="379.9" cy="326.8" r="1.15"/>
<circle cx="387.0" cy="326.8" r="1.15"/>
<circle cx="394.1" cy="326.8" r="1.15"/>
<circle cx="401.2" cy="326.8" r="1.15"/>
<circle cx="379.9" cy="334.6" r="1.15"/>
<circle cx="387.0" cy="334.6" r="1.15"/>
<circle cx="394.1" cy="334.6" r="1.15"/>
<circle cx="401.2" cy="334.6" r="1.15"/>
<circle cx="379.9" cy="342.5" r="1.15"/>
<circle cx="387.0" cy="342.5" r="1.15"/>
<circle cx="394.1" cy="342.5" r="1.15"/>
<circle cx="401.2" cy="342.5" r="1.15"/>
<circle cx="423.3" cy="256.1" r="1.15"/>
<circle cx="430.4" cy="256.1" r="1.15"/>
<circle cx="437.5" cy="256.1" r="1.15"/>
<circle cx="444.6" cy="256.1" r="1.15"/>
<circle cx="423.3" cy="264.0" r="1.15"/>
<circle cx="430.4" cy="264.0" r="1.15"/>
<circle cx="437.5" cy="264.0" r="1.15"/>
<circle cx="444.6" cy="264.0" r="1.15"/>
<circle cx="423.3" cy="271.8" r="1.15"/>
<circle cx="430.4" cy="271.8" r="1.15"/>
<circle cx="437.5" cy="271.8" r="1.15"/>
<circle cx="444.6" cy="271.8" r="1.15"/>
<circle cx="423.3" cy="279.7" r="1.15"/>
<circle cx="430.4" cy="279.7" r="1.15"/>
<circle cx="437.5" cy="279.7" r="1.15"/>
<circle cx="444.6" cy="279.7" r="1.15"/>
<circle cx="423.3" cy="287.5" r="1.15"/>
<circle cx="430.4" cy="287.5" r="1.15"/>
<circle cx="437.5" cy="287.5" r="1.15"/>
<circle cx="444.6" cy="287.5" r="1.15"/>
<circle cx="423.3" cy="295.4" r="1.15"/>
<circle cx="430.4" cy="295.4" r="1.15"/>
<circle cx="437.5" cy="295.4" r="1.15"/>
<circle cx="444.6" cy="295.4" r="1.15"/>
<circle cx="423.3" cy="303.2" r="1.15"/>
<circle cx="430.4" cy="303.2" r="1.15"/>
<circle cx="437.5" cy="303.2" r="1.15"/>
<circle cx="444.6" cy="303.2" r="1.15"/>
<circle cx="423.3" cy="311.1" r="1.15"/>
<circle cx="430.4" cy="311.1" r="1.15"/>
<circle cx="437.5" cy="311.1" r="1.15"/>
<circle cx="444.6" cy="311.1" r="1.15"/>
<circle cx="423.3" cy="318.9" r="1.15"/>
<circle cx="430.4" cy="318.9" r="1.15"/>
<circle cx="437.5" cy="318.9" r="1.15"/>
<circle cx="444.6" cy="318.9" r="1.15"/>
<circle cx="423.3" cy="326.8" r="1.15"/>
<circle cx="430.4" cy="326.8" r="1.15"/>
<circle cx="437.5" cy="326.8" r="1.15"/>
<circle cx="444.6" cy="326.8" r="1.15"/>
<circle cx="423.3" cy="334.6" r="1.15"/>
<circle cx="430.4" cy="334.6" r="1.15"/>
<circle cx="437.5" cy="334.6" r="1.15"/>
<circle cx="444.6" cy="334.6" r="1.15"/>
<circle cx="423.3" cy="342.5" r="1.15"/>
<circle cx="430.4" cy="342.5" r="1.15"/>
<circle cx="437.5" cy="342.5" r="1.15"/>
<circle cx="444.6" cy="342.5" r="1.15"/>
<circle cx="467.0" cy="256.1" r="1.15"/>
<circle cx="474.1" cy="256.1" r="1.15"/>
<circle cx="481.2" cy="256.1" r="1.15"/>
<circle cx="488.3" cy="256.1" r="1.15"/>
<circle cx="467.0" cy="264.0" r="1.15"/>
<circle cx="474.1" cy="264.0" r="1.15"/>
<circle cx="481.2" cy="264.0" r="1.15"/>
<circle cx="488.3" cy="264.0" r="1.15"/>
<circle cx="467.0" cy="271.8" r="1.15"/>
<circle cx="474.1" cy="271.8" r="1.15"/>
<circle cx="481.2" cy="271.8" r="1.15"/>
<circle cx="488.3" cy="271.8" r="1.15"/>
<circle cx="467.0" cy="279.7" r="1.15"/>
<circle cx="474.1" cy="279.7" r="1.15"/>
<circle cx="481.2" cy="279.7" r="1.15"/>
<circle cx="488.3" cy="279.7" r="1.15"/>
<circle cx="467.0" cy="287.5" r="1.15"/>
<circle cx="474.1" cy="287.5" r="1.15"/>
<circle cx="481.2" cy="287.5" r="1.15"/>
<circle cx="488.3" cy="287.5" r="1.15"/>
<circle cx="467.0" cy="295.4" r="1.15"/>
<circle cx="474.1" cy="295.4" r="1.15"/>
<circle cx="481.2" cy="295.4" r="1.15"/>
<circle cx="488.3" cy="295.4" r="1.15"/>
<circle cx="467.0" cy="303.2" r="1.15"/>
<circle cx="474.1" cy="303.2" r="1.15"/>
<circle cx="481.2" cy="303.2" r="1.15"/>
<circle cx="488.3" cy="303.2" r="1.15"/>
<circle cx="467.0" cy="311.1" r="1.15"/>
<circle cx="474.1" cy="311.1" r="1.15"/>
<circle cx="481.2" cy="311.1" r="1.15"/>
<circle cx="488.3" cy="311.1" r="1.15"/>
<circle cx="467.0" cy="318.9" r="1.15"/>
<circle cx="474.1" cy="318.9" r="1.15"/>
<circle cx="481.2" cy="318.9" r="1.15"/>
<circle cx="488.3" cy="318.9" r="1.15"/>
<circle cx="467.0" cy="326.8" r="1.15"/>
<circle cx="474.1" cy="326.8" r="1.15"/>
<circle cx="481.2" cy="326.8" r="1.15"/>
<circle cx="488.3" cy="326.8" r="1.15"/>
<circle cx="467.0" cy="334.6" r="1.15"/>
<circle cx="474.1" cy="334.6" r="1.15"/>
<circle cx="481.2" cy="334.6" r="1.15"/>
<circle cx="488.3" cy="334.6" r="1.15"/>
<circle cx="467.0" cy="342.5" r="1.15"/>
<circle cx="474.1" cy="342.5" r="1.15"/>
<circle cx="481.2" cy="342.5" r="1.15"/>
<circle cx="488.3" cy="342.5" r="1.15"/>
<circle cx="510.5" cy="256.1" r="1.15"/>
<circle cx="517.6" cy="256.1" r="1.15"/>
<circle cx="524.7" cy="256.1" r="1.15"/>
<circle cx="531.8" cy="256.1" r="1.15"/>
<circle cx="510.5" cy="264.0" r="1.15"/>
<circle cx="517.6" cy="264.0" r="1.15"/>
<circle cx="524.7" cy="264.0" r="1.15"/>
<circle cx="531.8" cy="264.0" r="1.15"/>
<circle cx="510.5" cy="271.8" r="1.15"/>
<circle cx="517.6" cy="271.8" r="1.15"/>
<circle cx="524.7" cy="271.8" r="1.15"/>
<circle cx="531.8" cy="271.8" r="1.15"/>
<circle cx="510.5" cy="279.7" r="1.15"/>
<circle cx="517.6" cy="279.7" r="1.15"/>
<circle cx="524.7" cy="279.7" r="1.15"/>
<circle cx="531.8" cy="279.7" r="1.15"/>
<circle cx="510.5" cy="287.5" r="1.15"/>
<circle cx="517.6" cy="287.5" r="1.15"/>
<circle cx="524.7" cy="287.5" r="1.15"/>
<circle cx="531.8" cy="287.5" r="1.15"/>
<circle cx="510.5" cy="295.4" r="1.15"/>
<circle cx="517.6" cy="295.4" r="1.15"/>
<circle cx="524.7" cy="295.4" r="1.15"/>
<circle cx="531.8" cy="295.4" r="1.15"/>
<circle cx="510.5" cy="303.2" r="1.15"/>
<circle cx="517.6" cy="303.2" r="1.15"/>
<circle cx="524.7" cy="303.2" r="1.15"/>
<circle cx="531.8" cy="303.2" r="1.15"/>
<circle cx="510.5" cy="311.1" r="1.15"/>
<circle cx="517.6" cy="311.1" r="1.15"/>
<circle cx="524.7" cy="311.1" r="1.15"/>
<circle cx="531.8" cy="311.1" r="1.15"/>
<circle cx="510.5" cy="318.9" r="1.15"/>
<circle cx="517.6" cy="318.9" r="1.15"/>
<circle cx="524.7" cy="318.9" r="1.15"/>
<circle cx="531.8" cy="318.9" r="1.15"/>
<circle cx="510.5" cy="326.8" r="1.15"/>
<circle cx="517.6" cy="326.8" r="1.15"/>
<circle cx="524.7" cy="326.8" r="1.15"/>
<circle cx="531.8" cy="326.8" r="1.15"/>
<circle cx="510.5" cy="334.6" r="1.15"/>
<circle cx="517.6" cy="334.6" r="1.15"/>
<circle cx="524.7" cy="334.6" r="1.15"/>
<circle cx="531.8" cy="334.6" r="1.15"/>
<circle cx="510.5" cy="342.5" r="1.15"/>
<circle cx="517.6" cy="342.5" r="1.15"/>
<circle cx="524.7" cy="342.5" r="1.15"/>
<circle cx="531.8" cy="342.5" r="1.15"/>
</g>
<g fill="#f2b25a">
<circle cx="19.2" cy="255.9" r="0.55"/>
<circle cx="26.8" cy="255.9" r="0.55"/>
<circle cx="34.4" cy="255.9" r="0.55"/>
<circle cx="42.0" cy="255.9" r="0.55"/>
<circle cx="49.6" cy="255.9" r="0.55"/>
<circle cx="57.2" cy="255.9" r="0.55"/>
<circle cx="64.8" cy="255.9" r="0.55"/>
<circle cx="72.4" cy="255.9" r="0.55"/>
<circle cx="80.0" cy="255.9" r="0.55"/>
<circle cx="87.6" cy="255.9" r="0.55"/>
<circle cx="95.2" cy="255.9" r="0.55"/>
<circle cx="102.8" cy="255.9" r="0.55"/>
<circle cx="110.4" cy="255.9" r="0.55"/>
<circle cx="118.0" cy="255.9" r="0.55"/>
<circle cx="125.6" cy="255.9" r="0.55"/>
<circle cx="133.2" cy="255.9" r="0.55"/>
<circle cx="140.8" cy="255.9" r="0.55"/>
<circle cx="148.4" cy="255.9" r="0.55"/>
<circle cx="156.0" cy="255.9" r="0.55"/>
<circle cx="163.6" cy="255.9" r="0.55"/>
<circle cx="171.2" cy="255.9" r="0.55"/>
<circle cx="178.8" cy="255.9" r="0.55"/>
<circle cx="186.4" cy="255.9" r="0.55"/>
<circle cx="194.0" cy="255.9" r="0.55"/>
<circle cx="201.6" cy="255.9" r="0.55"/>
<circle cx="209.2" cy="255.9" r="0.55"/>
<circle cx="216.8" cy="255.9" r="0.55"/>
<circle cx="224.4" cy="255.9" r="0.55"/>
<circle cx="232.0" cy="255.9" r="0.55"/>
<circle cx="239.6" cy="255.9" r="0.55"/>
<circle cx="247.2" cy="255.9" r="0.55"/>
<circle cx="19.2" cy="263.4" r="0.55"/>
<circle cx="26.8" cy="263.4" r="0.55"/>
<circle cx="34.4" cy="263.4" r="0.55"/>
<circle cx="42.0" cy="263.4" r="0.55"/>
<circle cx="49.6" cy="263.4" r="0.55"/>
<circle cx="57.2" cy="263.4" r="0.55"/>
<circle cx="64.8" cy="263.4" r="0.55"/>
<circle cx="72.4" cy="263.4" r="0.55"/>
<circle cx="80.0" cy="263.4" r="0.55"/>
<circle cx="87.6" cy="263.4" r="0.55"/>
<circle cx="95.2" cy="263.4" r="0.55"/>
<circle cx="102.8" cy="263.4" r="0.55"/>
<circle cx="110.4" cy="263.4" r="0.55"/>
<circle cx="118.0" cy="263.4" r="0.55"/>
<circle cx="125.6" cy="263.4" r="0.55"/>
<circle cx="133.2" cy="263.4" r="0.55"/>
<circle cx="140.8" cy="263.4" r="0.55"/>
<circle cx="148.4" cy="263.4" r="0.55"/>
<circle cx="156.0" cy="263.4" r="0.55"/>
<circle cx="163.6" cy="263.4" r="0.55"/>
<circle cx="171.2" cy="263.4" r="0.55"/>
<circle cx="178.8" cy="263.4" r="0.55"/>
<circle cx="186.4" cy="263.4" r="0.55"/>
<circle cx="194.0" cy="263.4" r="0.55"/>
<circle cx="201.6" cy="263.4" r="0.55"/>
<circle cx="209.2" cy="263.4" r="0.55"/>
<circle cx="216.8" cy="263.4" r="0.55"/>
<circle cx="224.4" cy="263.4" r="0.55"/>
<circle cx="232.0" cy="263.4" r="0.55"/>
<circle cx="239.6" cy="263.4" r="0.55"/>
<circle cx="247.2" cy="263.4" r="0.55"/>
<circle cx="19.2" cy="270.8" r="0.55"/>
<circle cx="26.8" cy="270.8" r="0.55"/>
<circle cx="34.4" cy="270.8" r="0.55"/>
<circle cx="42.0" cy="270.8" r="0.55"/>
<circle cx="49.6" cy="270.8" r="0.55"/>
<circle cx="57.2" cy="270.8" r="0.55"/>
<circle cx="64.8" cy="270.8" r="0.55"/>
<circle cx="72.4" cy="270.8" r="0.55"/>
<circle cx="80.0" cy="270.8" r="0.55"/>
<circle cx="87.6" cy="270.8" r="0.55"/>
<circle cx="95.2" cy="270.8" r="0.55"/>
<circle cx="102.8" cy="270.8" r="0.55"/>
<circle cx="110.4" cy="270.8" r="0.55"/>
<circle cx="118.0" cy="270.8" r="0.55"/>
<circle cx="125.6" cy="270.8" r="0.55"/>
<circle cx="133.2" cy="270.8" r="0.55"/>
<circle cx="140.8" cy="270.8" r="0.55"/>
<circle cx="148.4" cy="270.8" r="0.55"/>
<circle cx="156.0" cy="270.8" r="0.55"/>
<circle cx="163.6" cy="270.8" r="0.55"/>
<circle cx="171.2" cy="270.8" r="0.55"/>
<circle cx="178.8" cy="270.8" r="0.55"/>
<circle cx="186.4" cy="270.8" r="0.55"/>
<circle cx="194.0" cy="270.8" r="0.55"/>
<circle cx="201.6" cy="270.8" r="0.55"/>
<circle cx="209.2" cy="270.8" r="0.55"/>
<circle cx="216.8" cy="270.8" r="0.55"/>
<circle cx="224.4" cy="270.8" r="0.55"/>
<circle cx="232.0" cy="270.8" r="0.55"/>
<circle cx="239.6" cy="270.8" r="0.55"/>
<circle cx="247.2" cy="270.8" r="0.55"/>
<circle cx="19.2" cy="278.2" r="0.55"/>
<circle cx="26.8" cy="278.2" r="0.55"/>
<circle cx="34.4" cy="278.2" r="0.55"/>
<circle cx="42.0" cy="278.2" r="0.55"/>
<circle cx="49.6" cy="278.2" r="0.55"/>
<circle cx="57.2" cy="278.2" r="0.55"/>
<circle cx="64.8" cy="278.2" r="0.55"/>
<circle cx="72.4" cy="278.2" r="0.55"/>
<circle cx="80.0" cy="278.2" r="0.55"/>
<circle cx="87.6" cy="278.2" r="0.55"/>
<circle cx="95.2" cy="278.2" r="0.55"/>
<circle cx="102.8" cy="278.2" r="0.55"/>
<circle cx="110.4" cy="278.2" r="0.55"/>
<circle cx="118.0" cy="278.2" r="0.55"/>
<circle cx="125.6" cy="278.2" r="0.55"/>
<circle cx="133.2" cy="278.2" r="0.55"/>
<circle cx="140.8" cy="278.2" r="0.55"/>
<circle cx="148.4" cy="278.2" r="0.55"/>
<circle cx="156.0" cy="278.2" r="0.55"/>
<circle cx="163.6" cy="278.2" r="0.55"/>
<circle cx="171.2" cy="278.2" r="0.55"/>
<circle cx="178.8" cy="278.2" r="0.55"/>
<circle cx="186.4" cy="278.2" r="0.55"/>
<circle cx="194.0" cy="278.2" r="0.55"/>
<circle cx="201.6" cy="278.2" r="0.55"/>
<circle cx="209.2" cy="278.2" r="0.55"/>
<circle cx="216.8" cy="278.2" r="0.55"/>
<circle cx="224.4" cy="278.2" r="0.55"/>
<circle cx="232.0" cy="278.2" r="0.55"/>
<circle cx="239.6" cy="278.2" r="0.55"/>
<circle cx="247.2" cy="278.2" r="0.55"/>
<circle cx="15.4" cy="259.6" r="0.55"/>
<circle cx="23.0" cy="259.6" r="0.55"/>
<circle cx="30.6" cy="259.6" r="0.55"/>
<circle cx="38.2" cy="259.6" r="0.55"/>
<circle cx="45.8" cy="259.6" r="0.55"/>
<circle cx="53.4" cy="259.6" r="0.55"/>
<circle cx="61.0" cy="259.6" r="0.55"/>
<circle cx="68.6" cy="259.6" r="0.55"/>
<circle cx="76.2" cy="259.6" r="0.55"/>
<circle cx="83.8" cy="259.6" r="0.55"/>
<circle cx="91.4" cy="259.6" r="0.55"/>
<circle cx="99.0" cy="259.6" r="0.55"/>
<circle cx="106.6" cy="259.6" r="0.55"/>
<circle cx="114.2" cy="259.6" r="0.55"/>
<circle cx="121.8" cy="259.6" r="0.55"/>
<circle cx="129.4" cy="259.6" r="0.55"/>
<circle cx="137.0" cy="259.6" r="0.55"/>
<circle cx="144.6" cy="259.6" r="0.55"/>
<circle cx="152.2" cy="259.6" r="0.55"/>
<circle cx="159.8" cy="259.6" r="0.55"/>
<circle cx="167.4" cy="259.6" r="0.55"/>
<circle cx="175.0" cy="259.6" r="0.55"/>
<circle cx="182.6" cy="259.6" r="0.55"/>
<circle cx="190.2" cy="259.6" r="0.55"/>
<circle cx="197.8" cy="259.6" r="0.55"/>
<circle cx="205.4" cy="259.6" r="0.55"/>
<circle cx="213.0" cy="259.6" r="0.55"/>
<circle cx="220.6" cy="259.6" r="0.55"/>
<circle cx="228.2" cy="259.6" r="0.55"/>
<circle cx="235.8" cy="259.6" r="0.55"/>
<circle cx="243.4" cy="259.6" r="0.55"/>
<circle cx="251.0" cy="259.6" r="0.55"/>
<circle cx="15.4" cy="267.1" r="0.55"/>
<circle cx="23.0" cy="267.1" r="0.55"/>
<circle cx="30.6" cy="267.1" r="0.55"/>
<circle cx="38.2" cy="267.1" r="0.55"/>
<circle cx="45.8" cy="267.1" r="0.55"/>
<circle cx="53.4" cy="267.1" r="0.55"/>
<circle cx="61.0" cy="267.1" r="0.55"/>
<circle cx="68.6" cy="267.1" r="0.55"/>
<circle cx="76.2" cy="267.1" r="0.55"/>
<circle cx="83.8" cy="267.1" r="0.55"/>
<circle cx="91.4" cy="267.1" r="0.55"/>
<circle cx="99.0" cy="267.1" r="0.55"/>
<circle cx="106.6" cy="267.1" r="0.55"/>
<circle cx="114.2" cy="267.1" r="0.55"/>
<circle cx="121.8" cy="267.1" r="0.55"/>
<circle cx="129.4" cy="267.1" r="0.55"/>
<circle cx="137.0" cy="267.1" r="0.55"/>
<circle cx="144.6" cy="267.1" r="0.55"/>
<circle cx="152.2" cy="267.1" r="0.55"/>
<circle cx="159.8" cy="267.1" r="0.55"/>
<circle cx="167.4" cy="267.1" r="0.55"/>
<circle cx="175.0" cy="267.1" r="0.55"/>
<circle cx="182.6" cy="267.1" r="0.55"/>
<circle cx="190.2" cy="267.1" r="0.55"/>
<circle cx="197.8" cy="267.1" r="0.55"/>
<circle cx="205.4" cy="267.1" r="0.55"/>
<circle cx="213.0" cy="267.1" r="0.55"/>
<circle cx="220.6" cy="267.1" r="0.55"/>
<circle cx="228.2" cy="267.1" r="0.55"/>
<circle cx="235.8" cy="267.1" r="0.55"/>
<circle cx="243.4" cy="267.1" r="0.55"/>
<circle cx="251.0" cy="267.1" r="0.55"/>
<circle cx="15.4" cy="274.5" r="0.55"/>
<circle cx="23.0" cy="274.5" r="0.55"/>
<circle cx="30.6" cy="274.5" r="0.55"/>
<circle cx="38.2" cy="274.5" r="0.55"/>
<circle cx="45.8" cy="274.5" r="0.55"/>
<circle cx="53.4" cy="274.5" r="0.55"/>
<circle cx="61.0" cy="274.5" r="0.55"/>
<circle cx="68.6" cy="274.5" r="0.55"/>
<circle cx="76.2" cy="274.5" r="0.55"/>
<circle cx="83.8" cy="274.5" r="0.55"/>
<circle cx="91.4" cy="274.5" r="0.55"/>
<circle cx="99.0" cy="274.5" r="0.55"/>
<circle cx="106.6" cy="274.5" r="0.55"/>
<circle cx="114.2" cy="274.5" r="0.55"/>
<circle cx="121.8" cy="274.5" r="0.55"/>
<circle cx="129.4" cy="274.5" r="0.55"/>
<circle cx="137.0" cy="274.5" r="0.55"/>
<circle cx="144.6" cy="274.5" r="0.55"/>
<circle cx="152.2" cy="274.5" r="0.55"/>
<circle cx="159.8" cy="274.5" r="0.55"/>
<circle cx="167.4" cy="274.5" r="0.55"/>
<circle cx="175.0" cy="274.5" r="0.55"/>
<circle cx="182.6" cy="274.5" r="0.55"/>
<circle cx="190.2" cy="274.5" r="0.55"/>
<circle cx="197.8" cy="274.5" r="0.55"/>
<circle cx="205.4" cy="274.5" r="0.55"/>
<circle cx="213.0" cy="274.5" r="0.55"/>
<circle cx="220.6" cy="274.5" r="0.55"/>
<circle cx="228.2" cy="274.5" r="0.55"/>
<circle cx="235.8" cy="274.5" r="0.55"/>
<circle cx="243.4" cy="274.5" r="0.55"/>
<circle cx="251.0" cy="274.5" r="0.55"/>
<circle cx="20.2" cy="287.2" r="0.55"/>
<circle cx="27.4" cy="286.6" r="0.55"/>
<circle cx="34.5" cy="285.9" r="0.55"/>
<circle cx="20.8" cy="294.7" r="0.55"/>
<circle cx="28.0" cy="294.0" r="0.55"/>
<circle cx="35.2" cy="293.4" r="0.55"/>
<circle cx="21.5" cy="302.1" r="0.55"/>
<circle cx="28.7" cy="301.5" r="0.55"/>
<circle cx="35.8" cy="300.9" r="0.55"/>
<circle cx="22.1" cy="309.6" r="0.55"/>
<circle cx="29.3" cy="309.0" r="0.55"/>
<circle cx="36.5" cy="308.3" r="0.55"/>
<circle cx="16.9" cy="291.2" r="0.55"/>
<circle cx="24.1" cy="290.6" r="0.55"/>
<circle cx="31.3" cy="290.0" r="0.55"/>
<circle cx="38.4" cy="289.4" r="0.55"/>
<circle cx="17.6" cy="298.7" r="0.55"/>
<circle cx="24.8" cy="298.1" r="0.55"/>
<circle cx="31.9" cy="297.5" r="0.55"/>
<circle cx="39.1" cy="296.8" r="0.55"/>
<circle cx="18.2" cy="306.2" r="0.55"/>
<circle cx="25.4" cy="305.6" r="0.55"/>
<circle cx="32.6" cy="304.9" r="0.55"/>
<circle cx="39.8" cy="304.3" r="0.55"/>
<circle cx="63.1" cy="285.5" r="0.55"/>
<circle cx="70.2" cy="285.9" r="0.55"/>
<circle cx="62.7" cy="293.1" r="0.55"/>
<circle cx="69.8" cy="293.4" r="0.55"/>
<circle cx="62.3" cy="300.7" r="0.55"/>
<circle cx="69.4" cy="301.0" r="0.55"/>
<circle cx="62.0" cy="308.3" r="0.55"/>
<circle cx="69.0" cy="308.6" r="0.55"/>
<circle cx="59.4" cy="289.1" r="0.55"/>
<circle cx="66.5" cy="289.5" r="0.55"/>
<circle cx="73.6" cy="289.8" r="0.55"/>
<circle cx="59.0" cy="296.7" r="0.55"/>
<circle cx="66.1" cy="297.1" r="0.55"/>
<circle cx="73.2" cy="297.4" r="0.55"/>
<circle cx="58.6" cy="304.3" r="0.55"/>
<circle cx="65.7" cy="304.6" r="0.55"/>
<circle cx="72.8" cy="305.0" r="0.55"/>
<circle cx="97.2" cy="287.4" r="0.55"/>
<circle cx="104.1" cy="286.7" r="0.55"/>
<circle cx="111.1" cy="286.0" r="0.55"/>
<circle cx="118.1" cy="285.2" r="0.55"/>
<circle cx="98.0" cy="295.0" r="0.55"/>
<circle cx="104.9" cy="294.3" r="0.55"/>
<circle cx="111.9" cy="293.5" r="0.55"/>
<circle cx="118.9" cy="292.8" r="0.55"/>
<circle cx="98.8" cy="302.6" r="0.55"/>
<circle cx="105.7" cy="301.8" r="0.55"/>
<circle cx="112.7" cy="301.1" r="0.55"/>
<circle cx="119.7" cy="300.4" r="0.55"/>
<circle cx="99.6" cy="310.1" r="0.55"/>
<circle cx="106.5" cy="309.4" r="0.55"/>
<circle cx="113.5" cy="308.6" r="0.55"/>
<circle cx="120.4" cy="307.9" r="0.55"/>
<circle cx="94.1" cy="291.6" r="0.55"/>
<circle cx="101.1" cy="290.8" r="0.55"/>
<circle cx="108.0" cy="290.1" r="0.55"/>
<circle cx="115.0" cy="289.4" r="0.55"/>
<circle cx="121.9" cy="288.7" r="0.55"/>
<circle cx="94.9" cy="299.1" r="0.55"/>
<circle cx="101.9" cy="298.4" r="0.55"/>
<circle cx="108.8" cy="297.7" r="0.55"/>
<circle cx="115.8" cy="296.9" r="0.55"/>
<circle cx="122.7" cy="296.2" r="0.55"/>
<circle cx="95.7" cy="306.7" r="0.55"/>
<circle cx="102.6" cy="306.0" r="0.55"/>
<circle cx="109.6" cy="305.2" r="0.55"/>
<circle cx="116.6" cy="304.5" r="0.55"/>
<circle cx="123.5" cy="303.8" r="0.55"/>
<circle cx="146.7" cy="285.4" r="0.55"/>
<circle cx="153.8" cy="285.9" r="0.55"/>
<circle cx="160.9" cy="286.4" r="0.55"/>
<circle cx="146.2" cy="293.0" r="0.55"/>
<circle cx="153.3" cy="293.5" r="0.55"/>
<circle cx="160.4" cy="294.0" r="0.55"/>
<circle cx="145.7" cy="300.6" r="0.55"/>
<circle cx="152.8" cy="301.1" r="0.55"/>
<circle cx="159.8" cy="301.6" r="0.55"/>
<circle cx="145.2" cy="308.2" r="0.55"/>
<circle cx="152.2" cy="308.7" r="0.55"/>
<circle cx="159.3" cy="309.2" r="0.55"/>
<circle cx="142.9" cy="289.0" r="0.55"/>
<circle cx="150.0" cy="289.5" r="0.55"/>
<circle cx="157.1" cy="290.0" r="0.55"/>
<circle cx="164.2" cy="290.5" r="0.55"/>
<circle cx="142.4" cy="296.6" r="0.55"/>
<circle cx="149.5" cy="297.1" r="0.55"/>
<circle cx="156.6" cy="297.6" r="0.55"/>
<circle cx="163.7" cy="298.1" r="0.55"/>
<circle cx="141.9" cy="304.2" r="0.55"/>
<circle cx="149.0" cy="304.6" r="0.55"/>
<circle cx="156.0" cy="305.1" r="0.55"/>
<circle cx="163.1" cy="305.6" r="0.55"/>
<circle cx="186.2" cy="285.1" r="0.55"/>
<circle cx="193.2" cy="285.1" r="0.55"/>
<circle cx="186.2" cy="292.4" r="0.55"/>
<circle cx="193.2" cy="292.4" r="0.55"/>
<circle cx="186.2" cy="299.7" r="0.55"/>
<circle cx="193.2" cy="299.7" r="0.55"/>
<circle cx="186.2" cy="307.0" r="0.55"/>
<circle cx="193.2" cy="307.0" r="0.55"/>
<circle cx="182.6" cy="288.8" r="0.55"/>
<circle cx="189.7" cy="288.8" r="0.55"/>
<circle cx="196.8" cy="288.8" r="0.55"/>
<circle cx="182.6" cy="296.1" r="0.55"/>
<circle cx="189.7" cy="296.1" r="0.55"/>
<circle cx="196.8" cy="296.1" r="0.55"/>
<circle cx="182.6" cy="303.4" r="0.55"/>
<circle cx="189.7" cy="303.4" r="0.55"/>
<circle cx="196.8" cy="303.4" r="0.55"/>
<circle cx="230.2" cy="285.9" r="0.55"/>
<circle cx="237.2" cy="287.5" r="0.55"/>
<circle cx="244.2" cy="289.1" r="0.55"/>
<circle cx="228.5" cy="293.1" r="0.55"/>
<circle cx="235.6" cy="294.7" r="0.55"/>
<circle cx="242.6" cy="296.4" r="0.55"/>
<circle cx="226.9" cy="300.3" r="0.55"/>
<circle cx="233.9" cy="302.0" r="0.55"/>
<circle cx="240.9" cy="303.6" r="0.55"/>
<circle cx="225.2" cy="307.5" r="0.55"/>
<circle cx="232.2" cy="309.2" r="0.55"/>
<circle cx="239.2" cy="310.8" r="0.55"/>
<circle cx="225.9" cy="288.7" r="0.55"/>
<circle cx="232.9" cy="290.3" r="0.55"/>
<circle cx="239.9" cy="291.9" r="0.55"/>
<circle cx="246.9" cy="293.6" r="0.55"/>
<circle cx="224.2" cy="295.9" r="0.55"/>
<circle cx="231.2" cy="297.5" r="0.55"/>
<circle cx="238.2" cy="299.2" r="0.55"/>
<circle cx="245.2" cy="300.8" r="0.55"/>
<circle cx="222.5" cy="303.1" r="0.55"/>
<circle cx="229.6" cy="304.7" r="0.55"/>
<circle cx="236.6" cy="306.4" r="0.55"/>
<circle cx="243.6" cy="308.0" r="0.55"/>
<circle cx="22.5" cy="319.0" r="0.55"/>
<circle cx="29.8" cy="319.9" r="0.55"/>
<circle cx="21.6" cy="326.3" r="0.55"/>
<circle cx="28.9" cy="327.2" r="0.55"/>
<circle cx="20.7" cy="333.5" r="0.55"/>
<circle cx="28.0" cy="334.4" r="0.55"/>
<circle cx="19.9" cy="340.8" r="0.55"/>
<circle cx="27.1" cy="341.7" r="0.55"/>
<circle cx="18.5" cy="322.2" r="0.55"/>
<circle cx="25.7" cy="323.1" r="0.55"/>
<circle cx="32.9" cy="324.0" r="0.55"/>
<circle cx="17.6" cy="329.5" r="0.55"/>
<circle cx="24.8" cy="330.4" r="0.55"/>
<circle cx="32.1" cy="331.2" r="0.55"/>
<circle cx="16.7" cy="336.7" r="0.55"/>
<circle cx="23.9" cy="337.6" r="0.55"/>
<circle cx="31.2" cy="338.5" r="0.55"/>
<circle cx="54.2" cy="319.3" r="0.55"/>
<circle cx="61.5" cy="318.6" r="0.55"/>
<circle cx="68.8" cy="317.8" r="0.55"/>
<circle cx="55.0" cy="326.7" r="0.55"/>
<circle cx="62.3" cy="325.9" r="0.55"/>
<circle cx="69.5" cy="325.2" r="0.55"/>
<circle cx="55.8" cy="334.0" r="0.55"/>
<circle cx="63.0" cy="333.3" r="0.55"/>
<circle cx="70.3" cy="332.5" r="0.55"/>
<circle cx="56.6" cy="341.4" r="0.55"/>
<circle cx="63.8" cy="340.6" r="0.55"/>
<circle cx="71.1" cy="339.9" r="0.55"/>
<circle cx="51.0" cy="323.4" r="0.55"/>
<circle cx="58.2" cy="322.6" r="0.55"/>
<circle cx="65.5" cy="321.9" r="0.55"/>
<circle cx="72.8" cy="321.1" r="0.55"/>
<circle cx="51.8" cy="330.7" r="0.55"/>
<circle cx="59.0" cy="330.0" r="0.55"/>
<circle cx="66.3" cy="329.2" r="0.55"/>
<circle cx="73.5" cy="328.5" r="0.55"/>
<circle cx="52.5" cy="338.1" r="0.55"/>
<circle cx="59.8" cy="337.3" r="0.55"/>
<circle cx="67.1" cy="336.6" r="0.55"/>
<circle cx="74.3" cy="335.8" r="0.55"/>
<circle cx="99.0" cy="319.3" r="0.55"/>
<circle cx="99.0" cy="326.5" r="0.55"/>
<circle cx="99.0" cy="333.7" r="0.55"/>
<circle cx="99.0" cy="340.9" r="0.55"/>
<circle cx="95.1" cy="322.9" r="0.55"/>
<circle cx="102.9" cy="322.9" r="0.55"/>
<circle cx="95.1" cy="330.1" r="0.55"/>
<circle cx="102.9" cy="330.1" r="0.55"/>
<circle cx="95.1" cy="337.3" r="0.55"/>
<circle cx="102.9" cy="337.3" r="0.55"/>
<circle cx="122.0" cy="315.7" r="0.55"/>
<circle cx="129.2" cy="314.4" r="0.55"/>
<circle cx="123.3" cy="323.2" r="0.55"/>
<circle cx="130.5" cy="322.0" r="0.55"/>
<circle cx="124.7" cy="330.8" r="0.55"/>
<circle cx="131.9" cy="329.6" r="0.55"/>
<circle cx="126.0" cy="338.4" r="0.55"/>
<circle cx="133.2" cy="337.1" r="0.55"/>
<circle cx="119.1" cy="320.1" r="0.55"/>
<circle cx="126.3" cy="318.8" r="0.55"/>
<circle cx="133.4" cy="317.6" r="0.55"/>
<circle cx="120.4" cy="327.7" r="0.55"/>
<circle cx="127.6" cy="326.4" r="0.55"/>
<circle cx="134.8" cy="325.1" r="0.55"/>
<circle cx="121.7" cy="335.3" r="0.55"/>
<circle cx="128.9" cy="334.0" r="0.55"/>
<circle cx="136.1" cy="332.7" r="0.55"/>
<circle cx="160.1" cy="318.6" r="0.55"/>
<circle cx="161.5" cy="325.7" r="0.55"/>
<circle cx="162.8" cy="332.7" r="0.55"/>
<circle cx="164.2" cy="339.8" r="0.55"/>
<circle cx="157.2" cy="322.8" r="0.55"/>
<circle cx="164.4" cy="321.4" r="0.55"/>
<circle cx="158.6" cy="329.9" r="0.55"/>
<circle cx="165.7" cy="328.5" r="0.55"/>
<circle cx="159.9" cy="337.0" r="0.55"/>
<circle cx="167.1" cy="335.6" r="0.55"/>
<circle cx="193.5" cy="316.6" r="0.55"/>
<circle cx="200.5" cy="318.6" r="0.55"/>
<circle cx="207.5" cy="320.6" r="0.55"/>
<circle cx="191.4" cy="323.8" r="0.55"/>
<circle cx="198.5" cy="325.8" r="0.55"/>
<circle cx="205.5" cy="327.8" r="0.55"/>
<circle cx="189.4" cy="331.0" r="0.55"/>
<circle cx="196.4" cy="333.0" r="0.55"/>
<circle cx="203.4" cy="335.0" r="0.55"/>
<circle cx="187.3" cy="338.2" r="0.55"/>
<circle cx="194.3" cy="340.2" r="0.55"/>
<circle cx="201.3" cy="342.3" r="0.55"/>
<circle cx="189.0" cy="319.2" r="0.55"/>
<circle cx="196.0" cy="321.2" r="0.55"/>
<circle cx="203.0" cy="323.2" r="0.55"/>
<circle cx="210.0" cy="325.2" r="0.55"/>
<circle cx="186.9" cy="326.4" r="0.55"/>
<circle cx="193.9" cy="328.4" r="0.55"/>
<circle cx="200.9" cy="330.4" r="0.55"/>
<circle cx="208.0" cy="332.5" r="0.55"/>
<circle cx="184.8" cy="333.6" r="0.55"/>
<circle cx="191.8" cy="335.6" r="0.55"/>
<circle cx="198.9" cy="337.6" r="0.55"/>
<circle cx="205.9" cy="339.7" r="0.55"/>
<circle cx="225.3" cy="321.5" r="0.55"/>
<circle cx="232.3" cy="319.5" r="0.55"/>
<circle cx="227.4" cy="328.7" r="0.55"/>
<circle cx="234.4" cy="326.7" r="0.55"/>
<circle cx="229.4" cy="335.9" r="0.55"/>
<circle cx="236.5" cy="333.9" r="0.55"/>
<circle cx="231.5" cy="343.1" r="0.55"/>
<circle cx="238.5" cy="341.1" r="0.55"/>
<circle cx="222.8" cy="326.1" r="0.55"/>
<circle cx="229.9" cy="324.1" r="0.55"/>
<circle cx="236.9" cy="322.1" r="0.55"/>
<circle cx="224.9" cy="333.3" r="0.55"/>
<circle cx="231.9" cy="331.3" r="0.55"/>
<circle cx="238.9" cy="329.3" r="0.55"/>
<circle cx="227.0" cy="340.5" r="0.55"/>
<circle cx="234.0" cy="338.5" r="0.55"/>
<circle cx="241.0" cy="336.5" r="0.55"/>
<circle cx="295.6" cy="256.1" r="0.55"/>
<circle cx="302.6" cy="256.1" r="0.55"/>
<circle cx="309.8" cy="256.1" r="0.55"/>
<circle cx="295.6" cy="264.0" r="0.55"/>
<circle cx="302.6" cy="264.0" r="0.55"/>
<circle cx="309.8" cy="264.0" r="0.55"/>
<circle cx="295.6" cy="271.8" r="0.55"/>
<circle cx="302.6" cy="271.8" r="0.55"/>
<circle cx="309.8" cy="271.8" r="0.55"/>
<circle cx="295.6" cy="279.7" r="0.55"/>
<circle cx="302.6" cy="279.7" r="0.55"/>
<circle cx="309.8" cy="279.7" r="0.55"/>
<circle cx="295.6" cy="287.5" r="0.55"/>
<circle cx="302.6" cy="287.5" r="0.55"/>
<circle cx="309.8" cy="287.5" r="0.55"/>
<circle cx="295.6" cy="295.4" r="0.55"/>
<circle cx="302.6" cy="295.4" r="0.55"/>
<circle cx="309.8" cy="295.4" r="0.55"/>
<circle cx="295.6" cy="303.2" r="0.55"/>
<circle cx="302.6" cy="303.2" r="0.55"/>
<circle cx="309.8" cy="303.2" r="0.55"/>
<circle cx="295.6" cy="311.1" r="0.55"/>
<circle cx="302.6" cy="311.1" r="0.55"/>
<circle cx="309.8" cy="311.1" r="0.55"/>
<circle cx="295.6" cy="318.9" r="0.55"/>
<circle cx="302.6" cy="318.9" r="0.55"/>
<circle cx="309.8" cy="318.9" r="0.55"/>
<circle cx="295.6" cy="326.8" r="0.55"/>
<circle cx="302.6" cy="326.8" r="0.55"/>
<circle cx="309.8" cy="326.8" r="0.55"/>
<circle cx="295.6" cy="334.6" r="0.55"/>
<circle cx="302.6" cy="334.6" r="0.55"/>
<circle cx="309.8" cy="334.6" r="0.55"/>
<circle cx="295.6" cy="342.5" r="0.55"/>
<circle cx="302.6" cy="342.5" r="0.55"/>
<circle cx="309.8" cy="342.5" r="0.55"/>
<circle cx="292.0" cy="260.0" r="0.55"/>
<circle cx="299.1" cy="260.0" r="0.55"/>
<circle cx="306.2" cy="260.0" r="0.55"/>
<circle cx="313.3" cy="260.0" r="0.55"/>
<circle cx="292.0" cy="267.9" r="0.55"/>
<circle cx="299.1" cy="267.9" r="0.55"/>
<circle cx="306.2" cy="267.9" r="0.55"/>
<circle cx="313.3" cy="267.9" r="0.55"/>
<circle cx="292.0" cy="275.7" r="0.55"/>
<circle cx="299.1" cy="275.7" r="0.55"/>
<circle cx="306.2" cy="275.7" r="0.55"/>
<circle cx="313.3" cy="275.7" r="0.55"/>
<circle cx="292.0" cy="283.6" r="0.55"/>
<circle cx="299.1" cy="283.6" r="0.55"/>
<circle cx="306.2" cy="283.6" r="0.55"/>
<circle cx="313.3" cy="283.6" r="0.55"/>
<circle cx="292.0" cy="291.4" r="0.55"/>
<circle cx="299.1" cy="291.4" r="0.55"/>
<circle cx="306.2" cy="291.4" r="0.55"/>
<circle cx="313.3" cy="291.4" r="0.55"/>
<circle cx="292.0" cy="299.3" r="0.55"/>
<circle cx="299.1" cy="299.3" r="0.55"/>
<circle cx="306.2" cy="299.3" r="0.55"/>
<circle cx="313.3" cy="299.3" r="0.55"/>
<circle cx="292.0" cy="307.1" r="0.55"/>
<circle cx="299.1" cy="307.1" r="0.55"/>
<circle cx="306.2" cy="307.1" r="0.55"/>
<circle cx="313.3" cy="307.1" r="0.55"/>
<circle cx="292.0" cy="315.0" r="0.55"/>
<circle cx="299.1" cy="315.0" r="0.55"/>
<circle cx="306.2" cy="315.0" r="0.55"/>
<circle cx="313.3" cy="315.0" r="0.55"/>
<circle cx="292.0" cy="322.8" r="0.55"/>
<circle cx="299.1" cy="322.8" r="0.55"/>
<circle cx="306.2" cy="322.8" r="0.55"/>
<circle cx="313.3" cy="322.8" r="0.55"/>
<circle cx="292.0" cy="330.7" r="0.55"/>
<circle cx="299.1" cy="330.7" r="0.55"/>
<circle cx="306.2" cy="330.7" r="0.55"/>
<circle cx="313.3" cy="330.7" r="0.55"/>
<circle cx="292.0" cy="338.5" r="0.55"/>
<circle cx="299.1" cy="338.5" r="0.55"/>
<circle cx="306.2" cy="338.5" r="0.55"/>
<circle cx="313.3" cy="338.5" r="0.55"/>
<circle cx="339.7" cy="256.1" r="0.55"/>
<circle cx="346.8" cy="256.1" r="0.55"/>
<circle cx="353.9" cy="256.1" r="0.55"/>
<circle cx="339.7" cy="264.0" r="0.55"/>
<circle cx="346.8" cy="264.0" r="0.55"/>
<circle cx="353.9" cy="264.0" r="0.55"/>
<circle cx="339.7" cy="271.8" r="0.55"/>
<circle cx="346.8" cy="271.8" r="0.55"/>
<circle cx="353.9" cy="271.8" r="0.55"/>
<circle cx="339.7" cy="279.7" r="0.55"/>
<circle cx="346.8" cy="279.7" r="0.55"/>
<circle cx="353.9" cy="279.7" r="0.55"/>
<circle cx="339.7" cy="287.5" r="0.55"/>
<circle cx="346.8" cy="287.5" r="0.55"/>
<circle cx="353.9" cy="287.5" r="0.55"/>
<circle cx="339.7" cy="295.4" r="0.55"/>
<circle cx="346.8" cy="295.4" r="0.55"/>
<circle cx="353.9" cy="295.4" r="0.55"/>
<circle cx="339.7" cy="303.2" r="0.55"/>
<circle cx="346.8" cy="303.2" r="0.55"/>
<circle cx="353.9" cy="303.2" r="0.55"/>
<circle cx="339.7" cy="311.1" r="0.55"/>
<circle cx="346.8" cy="311.1" r="0.55"/>
<circle cx="353.9" cy="311.1" r="0.55"/>
<circle cx="339.7" cy="318.9" r="0.55"/>
<circle cx="346.8" cy="318.9" r="0.55"/>
<circle cx="353.9" cy="318.9" r="0.55"/>
<circle cx="339.7" cy="326.8" r="0.55"/>
<circle cx="346.8" cy="326.8" r="0.55"/>
<circle cx="353.9" cy="326.8" r="0.55"/>
<circle cx="339.7" cy="334.6" r="0.55"/>
<circle cx="346.8" cy="334.6" r="0.55"/>
<circle cx="353.9" cy="334.6" r="0.55"/>
<circle cx="339.7" cy="342.5" r="0.55"/>
<circle cx="346.8" cy="342.5" r="0.55"/>
<circle cx="353.9" cy="342.5" r="0.55"/>
<circle cx="336.1" cy="260.0" r="0.55"/>
<circle cx="343.2" cy="260.0" r="0.55"/>
<circle cx="350.3" cy="260.0" r="0.55"/>
<circle cx="357.4" cy="260.0" r="0.55"/>
<circle cx="336.1" cy="267.9" r="0.55"/>
<circle cx="343.2" cy="267.9" r="0.55"/>
<circle cx="350.3" cy="267.9" r="0.55"/>
<circle cx="357.4" cy="267.9" r="0.55"/>
<circle cx="336.1" cy="275.7" r="0.55"/>
<circle cx="343.2" cy="275.7" r="0.55"/>
<circle cx="350.3" cy="275.7" r="0.55"/>
<circle cx="357.4" cy="275.7" r="0.55"/>
<circle cx="336.1" cy="283.6" r="0.55"/>
<circle cx="343.2" cy="283.6" r="0.55"/>
<circle cx="350.3" cy="283.6" r="0.55"/>
<circle cx="357.4" cy="283.6" r="0.55"/>
<circle cx="336.1" cy="291.4" r="0.55"/>
<circle cx="343.2" cy="291.4" r="0.55"/>
<circle cx="350.3" cy="291.4" r="0.55"/>
<circle cx="357.4" cy="291.4" r="0.55"/>
<circle cx="336.1" cy="299.3" r="0.55"/>
<circle cx="343.2" cy="299.3" r="0.55"/>
<circle cx="350.3" cy="299.3" r="0.55"/>
<circle cx="357.4" cy="299.3" r="0.55"/>
<circle cx="336.1" cy="307.1" r="0.55"/>
<circle cx="343.2" cy="307.1" r="0.55"/>
<circle cx="350.3" cy="307.1" r="0.55"/>
<circle cx="357.4" cy="307.1" r="0.55"/>
<circle cx="336.1" cy="315.0" r="0.55"/>
<circle cx="343.2" cy="315.0" r="0.55"/>
<circle cx="350.3" cy="315.0" r="0.55"/>
<circle cx="357.4" cy="315.0" r="0.55"/>
<circle cx="336.1" cy="322.8" r="0.55"/>
<circle cx="343.2" cy="322.8" r="0.55"/>
<circle cx="350.3" cy="322.8" r="0.55"/>
<circle cx="357.4" cy="322.8" r="0.55"/>
<circle cx="336.1" cy="330.7" r="0.55"/>
<circle cx="343.2" cy="330.7" r="0.55"/>
<circle cx="350.3" cy="330.7" r="0.55"/>
<circle cx="357.4" cy="330.7" r="0.55"/>
<circle cx="336.1" cy="338.5" r="0.55"/>
<circle cx="343.2" cy="338.5" r="0.55"/>
<circle cx="350.3" cy="338.5" r="0.55"/>
<circle cx="357.4" cy="338.5" r="0.55"/>
<circle cx="383.4" cy="256.1" r="0.55"/>
<circle cx="390.5" cy="256.1" r="0.55"/>
<circle cx="397.6" cy="256.1" r="0.55"/>
<circle cx="383.4" cy="264.0" r="0.55"/>
<circle cx="390.5" cy="264.0" r="0.55"/>
<circle cx="397.6" cy="264.0" r="0.55"/>
<circle cx="383.4" cy="271.8" r="0.55"/>
<circle cx="390.5" cy="271.8" r="0.55"/>
<circle cx="397.6" cy="271.8" r="0.55"/>
<circle cx="383.4" cy="279.7" r="0.55"/>
<circle cx="390.5" cy="279.7" r="0.55"/>
<circle cx="397.6" cy="279.7" r="0.55"/>
<circle cx="383.4" cy="287.5" r="0.55"/>
<circle cx="390.5" cy="287.5" r="0.55"/>
<circle cx="397.6" cy="287.5" r="0.55"/>
<circle cx="383.4" cy="295.4" r="0.55"/>
<circle cx="390.5" cy="295.4" r="0.55"/>
<circle cx="397.6" cy="295.4" r="0.55"/>
<circle cx="383.4" cy="303.2" r="0.55"/>
<circle cx="390.5" cy="303.2" r="0.55"/>
<circle cx="397.6" cy="303.2" r="0.55"/>
<circle cx="383.4" cy="311.1" r="0.55"/>
<circle cx="390.5" cy="311.1" r="0.55"/>
<circle cx="397.6" cy="311.1" r="0.55"/>
<circle cx="383.4" cy="318.9" r="0.55"/>
<circle cx="390.5" cy="318.9" r="0.55"/>
<circle cx="397.6" cy="318.9" r="0.55"/>
<circle cx="383.4" cy="326.8" r="0.55"/>
<circle cx="390.5" cy="326.8" r="0.55"/>
<circle cx="397.6" cy="326.8" r="0.55"/>
<circle cx="383.4" cy="334.6" r="0.55"/>
<circle cx="390.5" cy="334.6" r="0.55"/>
<circle cx="397.6" cy="334.6" r="0.55"/>
<circle cx="383.4" cy="342.5" r="0.55"/>
<circle cx="390.5" cy="342.5" r="0.55"/>
<circle cx="397.6" cy="342.5" r="0.55"/>
<circle cx="379.9" cy="260.0" r="0.55"/>
<circle cx="387.0" cy="260.0" r="0.55"/>
<circle cx="394.1" cy="260.0" r="0.55"/>
<circle cx="401.2" cy="260.0" r="0.55"/>
<circle cx="379.9" cy="267.9" r="0.55"/>
<circle cx="387.0" cy="267.9" r="0.55"/>
<circle cx="394.1" cy="267.9" r="0.55"/>
<circle cx="401.2" cy="267.9" r="0.55"/>
<circle cx="379.9" cy="275.7" r="0.55"/>
<circle cx="387.0" cy="275.7" r="0.55"/>
<circle cx="394.1" cy="275.7" r="0.55"/>
<circle cx="401.2" cy="275.7" r="0.55"/>
<circle cx="379.9" cy="283.6" r="0.55"/>
<circle cx="387.0" cy="283.6" r="0.55"/>
<circle cx="394.1" cy="283.6" r="0.55"/>
<circle cx="401.2" cy="283.6" r="0.55"/>
<circle cx="379.9" cy="291.4" r="0.55"/>
<circle cx="387.0" cy="291.4" r="0.55"/>
<circle cx="394.1" cy="291.4" r="0.55"/>
<circle cx="401.2" cy="291.4" r="0.55"/>
<circle cx="379.9" cy="299.3" r="0.55"/>
<circle cx="387.0" cy="299.3" r="0.55"/>
<circle cx="394.1" cy="299.3" r="0.55"/>
<circle cx="401.2" cy="299.3" r="0.55"/>
<circle cx="379.9" cy="307.1" r="0.55"/>
<circle cx="387.0" cy="307.1" r="0.55"/>
<circle cx="394.1" cy="307.1" r="0.55"/>
<circle cx="401.2" cy="307.1" r="0.55"/>
<circle cx="379.9" cy="315.0" r="0.55"/>
<circle cx="387.0" cy="315.0" r="0.55"/>
<circle cx="394.1" cy="315.0" r="0.55"/>
<circle cx="401.2" cy="315.0" r="0.55"/>
<circle cx="379.9" cy="322.8" r="0.55"/>
<circle cx="387.0" cy="322.8" r="0.55"/>
<circle cx="394.1" cy="322.8" r="0.55"/>
<circle cx="401.2" cy="322.8" r="0.55"/>
<circle cx="379.9" cy="330.7" r="0.55"/>
<circle cx="387.0" cy="330.7" r="0.55"/>
<circle cx="394.1" cy="330.7" r="0.55"/>
<circle cx="401.2" cy="330.7" r="0.55"/>
<circle cx="379.9" cy="338.5" r="0.55"/>
<circle cx="387.0" cy="338.5" r="0.55"/>
<circle cx="394.1" cy="338.5" r="0.55"/>
<circle cx="401.2" cy="338.5" r="0.55"/>
<circle cx="426.9" cy="256.1" r="0.55"/>
<circle cx="433.9" cy="256.1" r="0.55"/>
<circle cx="441.1" cy="256.1" r="0.55"/>
<circle cx="426.9" cy="264.0" r="0.55"/>
<circle cx="433.9" cy="264.0" r="0.55"/>
<circle cx="441.1" cy="264.0" r="0.55"/>
<circle cx="426.9" cy="271.8" r="0.55"/>
<circle cx="433.9" cy="271.8" r="0.55"/>
<circle cx="441.1" cy="271.8" r="0.55"/>
<circle cx="426.9" cy="279.7" r="0.55"/>
<circle cx="433.9" cy="279.7" r="0.55"/>
<circle cx="441.1" cy="279.7" r="0.55"/>
<circle cx="426.9" cy="287.5" r="0.55"/>
<circle cx="433.9" cy="287.5" r="0.55"/>
<circle cx="441.1" cy="287.5" r="0.55"/>
<circle cx="426.9" cy="295.4" r="0.55"/>
<circle cx="433.9" cy="295.4" r="0.55"/>
<circle cx="441.1" cy="295.4" r="0.55"/>
<circle cx="426.9" cy="303.2" r="0.55"/>
<circle cx="433.9" cy="303.2" r="0.55"/>
<circle cx="441.1" cy="303.2" r="0.55"/>
<circle cx="426.9" cy="311.1" r="0.55"/>
<circle cx="433.9" cy="311.1" r="0.55"/>
<circle cx="441.1" cy="311.1" r="0.55"/>
<circle cx="426.9" cy="318.9" r="0.55"/>
<circle cx="433.9" cy="318.9" r="0.55"/>
<circle cx="441.1" cy="318.9" r="0.55"/>
<circle cx="426.9" cy="326.8" r="0.55"/>
<circle cx="433.9" cy="326.8" r="0.55"/>
<circle cx="441.1" cy="326.8" r="0.55"/>
<circle cx="426.9" cy="334.6" r="0.55"/>
<circle cx="433.9" cy="334.6" r="0.55"/>
<circle cx="441.1" cy="334.6" r="0.55"/>
<circle cx="426.9" cy="342.5" r="0.55"/>
<circle cx="433.9" cy="342.5" r="0.55"/>
<circle cx="441.1" cy="342.5" r="0.55"/>
<circle cx="423.3" cy="260.0" r="0.55"/>
<circle cx="430.4" cy="260.0" r="0.55"/>
<circle cx="437.5" cy="260.0" r="0.55"/>
<circle cx="444.6" cy="260.0" r="0.55"/>
<circle cx="423.3" cy="267.9" r="0.55"/>
<circle cx="430.4" cy="267.9" r="0.55"/>
<circle cx="437.5" cy="267.9" r="0.55"/>
<circle cx="444.6" cy="267.9" r="0.55"/>
<circle cx="423.3" cy="275.7" r="0.55"/>
<circle cx="430.4" cy="275.7" r="0.55"/>
<circle cx="437.5" cy="275.7" r="0.55"/>
<circle cx="444.6" cy="275.7" r="0.55"/>
<circle cx="423.3" cy="283.6" r="0.55"/>
<circle cx="430.4" cy="283.6" r="0.55"/>
<circle cx="437.5" cy="283.6" r="0.55"/>
<circle cx="444.6" cy="283.6" r="0.55"/>
<circle cx="423.3" cy="291.4" r="0.55"/>
<circle cx="430.4" cy="291.4" r="0.55"/>
<circle cx="437.5" cy="291.4" r="0.55"/>
<circle cx="444.6" cy="291.4" r="0.55"/>
<circle cx="423.3" cy="299.3" r="0.55"/>
<circle cx="430.4" cy="299.3" r="0.55"/>
<circle cx="437.5" cy="299.3" r="0.55"/>
<circle cx="444.6" cy="299.3" r="0.55"/>
<circle cx="423.3" cy="307.1" r="0.55"/>
<circle cx="430.4" cy="307.1" r="0.55"/>
<circle cx="437.5" cy="307.1" r="0.55"/>
<circle cx="444.6" cy="307.1" r="0.55"/>
<circle cx="423.3" cy="315.0" r="0.55"/>
<circle cx="430.4" cy="315.0" r="0.55"/>
<circle cx="437.5" cy="315.0" r="0.55"/>
<circle cx="444.6" cy="315.0" r="0.55"/>
<circle cx="423.3" cy="322.8" r="0.55"/>
<circle cx="430.4" cy="322.8" r="0.55"/>
<circle cx="437.5" cy="322.8" r="0.55"/>
<circle cx="444.6" cy="322.8" r="0.55"/>
<circle cx="423.3" cy="330.7" r="0.55"/>
<circle cx="430.4" cy="330.7" r="0.55"/>
<circle cx="437.5" cy="330.7" r="0.55"/>
<circle cx="444.6" cy="330.7" r="0.55"/>
<circle cx="423.3" cy="338.5" r="0.55"/>
<circle cx="430.4" cy="338.5" r="0.55"/>
<circle cx="437.5" cy="338.5" r="0.55"/>
<circle cx="444.6" cy="338.5" r="0.55"/>
<circle cx="470.6" cy="256.1" r="0.55"/>
<circle cx="477.6" cy="256.1" r="0.55"/>
<circle cx="484.8" cy="256.1" r="0.55"/>
<circle cx="470.6" cy="264.0" r="0.55"/>
<circle cx="477.6" cy="264.0" r="0.55"/>
<circle cx="484.8" cy="264.0" r="0.55"/>
<circle cx="470.6" cy="271.8" r="0.55"/>
<circle cx="477.6" cy="271.8" r="0.55"/>
<circle cx="484.8" cy="271.8" r="0.55"/>
<circle cx="470.6" cy="279.7" r="0.55"/>
<circle cx="477.6" cy="279.7" r="0.55"/>
<circle cx="484.8" cy="279.7" r="0.55"/>
<circle cx="470.6" cy="287.5" r="0.55"/>
<circle cx="477.6" cy="287.5" r="0.55"/>
<circle cx="484.8" cy="287.5" r="0.55"/>
<circle cx="470.6" cy="295.4" r="0.55"/>
<circle cx="477.6" cy="295.4" r="0.55"/>
<circle cx="484.8" cy="295.4" r="0.55"/>
<circle cx="470.6" cy="303.2" r="0.55"/>
<circle cx="477.6" cy="303.2" r="0.55"/>
<circle cx="484.8" cy="303.2" r="0.55"/>
<circle cx="470.6" cy="311.1" r="0.55"/>
<circle cx="477.6" cy="311.1" r="0.55"/>
<circle cx="484.8" cy="311.1" r="0.55"/>
<circle cx="470.6" cy="318.9" r="0.55"/>
<circle cx="477.6" cy="318.9" r="0.55"/>
<circle cx="484.8" cy="318.9" r="0.55"/>
<circle cx="470.6" cy="326.8" r="0.55"/>
<circle cx="477.6" cy="326.8" r="0.55"/>
<circle cx="484.8" cy="326.8" r="0.55"/>
<circle cx="470.6" cy="334.6" r="0.55"/>
<circle cx="477.6" cy="334.6" r="0.55"/>
<circle cx="484.8" cy="334.6" r="0.55"/>
<circle cx="470.6" cy="342.5" r="0.55"/>
<circle cx="477.6" cy="342.5" r="0.55"/>
<circle cx="484.8" cy="342.5" r="0.55"/>
<circle cx="467.0" cy="260.0" r="0.55"/>
<circle cx="474.1" cy="260.0" r="0.55"/>
<circle cx="481.2" cy="260.0" r="0.55"/>
<circle cx="488.3" cy="260.0" r="0.55"/>
<circle cx="467.0" cy="267.9" r="0.55"/>
<circle cx="474.1" cy="267.9" r="0.55"/>
<circle cx="481.2" cy="267.9" r="0.55"/>
<circle cx="488.3" cy="267.9" r="0.55"/>
<circle cx="467.0" cy="275.7" r="0.55"/>
<circle cx="474.1" cy="275.7" r="0.55"/>
<circle cx="481.2" cy="275.7" r="0.55"/>
<circle cx="488.3" cy="275.7" r="0.55"/>
<circle cx="467.0" cy="283.6" r="0.55"/>
<circle cx="474.1" cy="283.6" r="0.55"/>
<circle cx="481.2" cy="283.6" r="0.55"/>
<circle cx="488.3" cy="283.6" r="0.55"/>
<circle cx="467.0" cy="291.4" r="0.55"/>
<circle cx="474.1" cy="291.4" r="0.55"/>
<circle cx="481.2" cy="291.4" r="0.55"/>
<circle cx="488.3" cy="291.4" r="0.55"/>
<circle cx="467.0" cy="299.3" r="0.55"/>
<circle cx="474.1" cy="299.3" r="0.55"/>
<circle cx="481.2" cy="299.3" r="0.55"/>
<circle cx="488.3" cy="299.3" r="0.55"/>
<circle cx="467.0" cy="307.1" r="0.55"/>
<circle cx="474.1" cy="307.1" r="0.55"/>
<circle cx="481.2" cy="307.1" r="0.55"/>
<circle cx="488.3" cy="307.1" r="0.55"/>
<circle cx="467.0" cy="315.0" r="0.55"/>
<circle cx="474.1" cy="315.0" r="0.55"/>
<circle cx="481.2" cy="315.0" r="0.55"/>
<circle cx="488.3" cy="315.0" r="0.55"/>
<circle cx="467.0" cy="322.8" r="0.55"/>
<circle cx="474.1" cy="322.8" r="0.55"/>
<circle cx="481.2" cy="322.8" r="0.55"/>
<circle cx="488.3" cy="322.8" r="0.55"/>
<circle cx="467.0" cy="330.7" r="0.55"/>
<circle cx="474.1" cy="330.7" r="0.55"/>
<circle cx="481.2" cy="330.7" r="0.55"/>
<circle cx="488.3" cy="330.7" r="0.55"/>
<circle cx="467.0" cy="338.5" r="0.55"/>
<circle cx="474.1" cy="338.5" r="0.55"/>
<circle cx="481.2" cy="338.5" r="0.55"/>
<circle cx="488.3" cy="338.5" r="0.55"/>
<circle cx="514.0" cy="256.1" r="0.55"/>
<circle cx="521.1" cy="256.1" r="0.55"/>
<circle cx="528.2" cy="256.1" r="0.55"/>
<circle cx="514.0" cy="264.0" r="0.55"/>
<circle cx="521.1" cy="264.0" r="0.55"/>
<circle cx="528.2" cy="264.0" r="0.55"/>
<circle cx="514.0" cy="271.8" r="0.55"/>
<circle cx="521.1" cy="271.8" r="0.55"/>
<circle cx="528.2" cy="271.8" r="0.55"/>
<circle cx="514.0" cy="279.7" r="0.55"/>
<circle cx="521.1" cy="279.7" r="0.55"/>
<circle cx="528.2" cy="279.7" r="0.55"/>
<circle cx="514.0" cy="287.5" r="0.55"/>
<circle cx="521.1" cy="287.5" r="0.55"/>
<circle cx="528.2" cy="287.5" r="0.55"/>
<circle cx="514.0" cy="295.4" r="0.55"/>
<circle cx="521.1" cy="295.4" r="0.55"/>
<circle cx="528.2" cy="295.4" r="0.55"/>
<circle cx="514.0" cy="303.2" r="0.55"/>
<circle cx="521.1" cy="303.2" r="0.55"/>
<circle cx="528.2" cy="303.2" r="0.55"/>
<circle cx="514.0" cy="311.1" r="0.55"/>
<circle cx="521.1" cy="311.1" r="0.55"/>
<circle cx="528.2" cy="311.1" r="0.55"/>
<circle cx="514.0" cy="318.9" r="0.55"/>
<circle cx="521.1" cy="318.9" r="0.55"/>
<circle cx="528.2" cy="318.9" r="0.55"/>
<circle cx="514.0" cy="326.8" r="0.55"/>
<circle cx="521.1" cy="326.8" r="0.55"/>
<circle cx="528.2" cy="326.8" r="0.55"/>
<circle cx="514.0" cy="334.6" r="0.55"/>
<circle cx="521.1" cy="334.6" r="0.55"/>
<circle cx="528.2" cy="334.6" r="0.55"/>
<circle cx="514.0" cy="342.5" r="0.55"/>
<circle cx="521.1" cy="342.5" r="0.55"/>
<circle cx="528.2" cy="342.5" r="0.55"/>
<circle cx="510.5" cy="260.0" r="0.55"/>
<circle cx="517.6" cy="260.0" r="0.55"/>
<circle cx="524.7" cy="260.0" r="0.55"/>
<circle cx="531.8" cy="260.0" r="0.55"/>
<circle cx="510.5" cy="267.9" r="0.55"/>
<circle cx="517.6" cy="267.9" r="0.55"/>
<circle cx="524.7" cy="267.9" r="0.55"/>
<circle cx="531.8" cy="267.9" r="0.55"/>
<circle cx="510.5" cy="275.7" r="0.55"/>
<circle cx="517.6" cy="275.7" r="0.55"/>
<circle cx="524.7" cy="275.7" r="0.55"/>
<circle cx="531.8" cy="275.7" r="0.55"/>
<circle cx="510.5" cy="283.6" r="0.55"/>
<circle cx="517.6" cy="283.6" r="0.55"/>
<circle cx="524.7" cy="283.6" r="0.55"/>
<circle cx="531.8" cy="283.6" r="0.55"/>
<circle cx="510.5" cy="291.4" r="0.55"/>
<circle cx="517.6" cy="291.4" r="0.55"/>
<circle cx="524.7" cy="291.4" r="0.55"/>
<circle cx="531.8" cy="291.4" r="0.55"/>
<circle cx="510.5" cy="299.3" r="0.55"/>
<circle cx="517.6" cy="299.3" r="0.55"/>
<circle cx="524.7" cy="299.3" r="0.55"/>
<circle cx="531.8" cy="299.3" r="0.55"/>
<circle cx="510.5" cy="307.1" r="0.55"/>
<circle cx="517.6" cy="307.1" r="0.55"/>
<circle cx="524.7" cy="307.1" r="0.55"/>
<circle cx="531.8" cy="307.1" r="0.55"/>
<circle cx="510.5" cy="315.0" r="0.55"/>
<circle cx="517.6" cy="315.0" r="0.55"/>
<circle cx="524.7" cy="315.0" r="0.55"/>
<circle cx="531.8" cy="315.0" r="0.55"/>
<circle cx="510.5" cy="322.8" r="0.55"/>
<circle cx="517.6" cy="322.8" r="0.55"/>
<circle cx="524.7" cy="322.8" r="0.55"/>
<circle cx="531.8" cy="322.8" r="0.55"/>
<circle cx="510.5" cy="330.7" r="0.55"/>
<circle cx="517.6" cy="330.7" r="0.55"/>
<circle cx="524.7" cy="330.7" r="0.55"/>
<circle cx="531.8" cy="330.7" r="0.55"/>
<circle cx="510.5" cy="338.5" r="0.55"/>
<circle cx="517.6" cy="338.5" r="0.55"/>
<circle cx="524.7" cy="338.5" r="0.55"/>
<circle cx="531.8" cy="338.5" r="0.55"/>
</g>
<g fill="#e6461c">
<circle cx="19.2" cy="259.6" r="1.15"/>
<circle cx="26.8" cy="259.6" r="1.15"/>
<circle cx="34.4" cy="259.6" r="1.15"/>
<circle cx="42.0" cy="259.6" r="1.15"/>
<circle cx="49.6" cy="259.6" r="1.15"/>
<circle cx="57.2" cy="259.6" r="1.15"/>
<circle cx="64.8" cy="259.6" r="1.15"/>
<circle cx="72.4" cy="259.6" r="1.15"/>
<circle cx="80.0" cy="259.6" r="1.15"/>
<circle cx="87.6" cy="259.6" r="1.15"/>
<circle cx="95.2" cy="259.6" r="1.15"/>
<circle cx="102.8" cy="259.6" r="1.15"/>
<circle cx="110.4" cy="259.6" r="1.15"/>
<circle cx="118.0" cy="259.6" r="1.15"/>
<circle cx="125.6" cy="259.6" r="1.15"/>
<circle cx="133.2" cy="259.6" r="1.15"/>
<circle cx="140.8" cy="259.6" r="1.15"/>
<circle cx="148.4" cy="259.6" r="1.15"/>
<circle cx="156.0" cy="259.6" r="1.15"/>
<circle cx="163.6" cy="259.6" r="1.15"/>
<circle cx="171.2" cy="259.6" r="1.15"/>
<circle cx="178.8" cy="259.6" r="1.15"/>
<circle cx="186.4" cy="259.6" r="1.15"/>
<circle cx="194.0" cy="259.6" r="1.15"/>
<circle cx="201.6" cy="259.6" r="1.15"/>
<circle cx="209.2" cy="259.6" r="1.15"/>
<circle cx="216.8" cy="259.6" r="1.15"/>
<circle cx="224.4" cy="259.6" r="1.15"/>
<circle cx="232.0" cy="259.6" r="1.15"/>
<circle cx="239.6" cy="259.6" r="1.15"/>
<circle cx="247.2" cy="259.6" r="1.15"/>
<circle cx="19.2" cy="267.1" r="1.15"/>
<circle cx="26.8" cy="267.1" r="1.15"/>
<circle cx="34.4" cy="267.1" r="1.15"/>
<circle cx="42.0" cy="267.1" r="1.15"/>
<circle cx="49.6" cy="267.1" r="1.15"/>
<circle cx="57.2" cy="267.1" r="1.15"/>
<circle cx="64.8" cy="267.1" r="1.15"/>
<circle cx="72.4" cy="267.1" r="1.15"/>
<circle cx="80.0" cy="267.1" r="1.15"/>
<circle cx="87.6" cy="267.1" r="1.15"/>
<circle cx="95.2" cy="267.1" r="1.15"/>
<circle cx="102.8" cy="267.1" r="1.15"/>
<circle cx="110.4" cy="267.1" r="1.15"/>
<circle cx="118.0" cy="267.1" r="1.15"/>
<circle cx="125.6" cy="267.1" r="1.15"/>
<circle cx="133.2" cy="267.1" r="1.15"/>
<circle cx="140.8" cy="267.1" r="1.15"/>
<circle cx="148.4" cy="267.1" r="1.15"/>
<circle cx="156.0" cy="267.1" r="1.15"/>
<circle cx="163.6" cy="267.1" r="1.15"/>
<circle cx="171.2" cy="267.1" r="1.15"/>
<circle cx="178.8" cy="267.1" r="1.15"/>
<circle cx="186.4" cy="267.1" r="1.15"/>
<circle cx="194.0" cy="267.1" r="1.15"/>
<circle cx="201.6" cy="267.1" r="1.15"/>
<circle cx="209.2" cy="267.1" r="1.15"/>
<circle cx="216.8" cy="267.1" r="1.15"/>
<circle cx="224.4" cy="267.1" r="1.15"/>
<circle cx="232.0" cy="267.1" r="1.15"/>
<circle cx="239.6" cy="267.1" r="1.15"/>
<circle cx="247.2" cy="267.1" r="1.15"/>
<circle cx="19.2" cy="274.5" r="1.15"/>
<circle cx="26.8" cy="274.5" r="1.15"/>
<circle cx="34.4" cy="274.5" r="1.15"/>
<circle cx="42.0" cy="274.5" r="1.15"/>
<circle cx="49.6" cy="274.5" r="1.15"/>
<circle cx="57.2" cy="274.5" r="1.15"/>
<circle cx="64.8" cy="274.5" r="1.15"/>
<circle cx="72.4" cy="274.5" r="1.15"/>
<circle cx="80.0" cy="274.5" r="1.15"/>
<circle cx="87.6" cy="274.5" r="1.15"/>
<circle cx="95.2" cy="274.5" r="1.15"/>
<circle cx="102.8" cy="274.5" r="1.15"/>
<circle cx="110.4" cy="274.5" r="1.15"/>
<circle cx="118.0" cy="274.5" r="1.15"/>
<circle cx="125.6" cy="274.5" r="1.15"/>
<circle cx="133.2" cy="274.5" r="1.15"/>
<circle cx="140.8" cy="274.5" r="1.15"/>
<circle cx="148.4" cy="274.5" r="1.15"/>
<circle cx="156.0" cy="274.5" r="1.15"/>
<circle cx="163.6" cy="274.5" r="1.15"/>
<circle cx="171.2" cy="274.5" r="1.15"/>
<circle cx="178.8" cy="274.5" r="1.15"/>
<circle cx="186.4" cy="274.5" r="1.15"/>
<circle cx="194.0" cy="274.5" r="1.15"/>
<circle cx="201.6" cy="274.5" r="1.15"/>
<circle cx="209.2" cy="274.5" r="1.15"/>
<circle cx="216.8" cy="274.5" r="1.15"/>
<circle cx="224.4" cy="274.5" r="1.15"/>
<circle cx="232.0" cy="274.5" r="1.15"/>
<circle cx="239.6" cy="274.5" r="1.15"/>
<circle cx="247.2" cy="274.5" r="1.15"/>
<circle cx="20.5" cy="290.9" r="1.15"/>
<circle cx="27.7" cy="290.3" r="1.15"/>
<circle cx="34.9" cy="289.7" r="1.15"/>
<circle cx="21.2" cy="298.4" r="1.15"/>
<circle cx="28.3" cy="297.8" r="1.15"/>
<circle cx="35.5" cy="297.1" r="1.15"/>
<circle cx="21.8" cy="305.9" r="1.15"/>
<circle cx="29.0" cy="305.2" r="1.15"/>
<circle cx="36.2" cy="304.6" r="1.15"/>
<circle cx="62.9" cy="289.3" r="1.15"/>
<circle cx="70.0" cy="289.7" r="1.15"/>
<circle cx="62.5" cy="296.9" r="1.15"/>
<circle cx="69.6" cy="297.2" r="1.15"/>
<circle cx="62.2" cy="304.5" r="1.15"/>
<circle cx="69.2" cy="304.8" r="1.15"/>
<circle cx="97.6" cy="291.2" r="1.15"/>
<circle cx="104.5" cy="290.5" r="1.15"/>
<circle cx="111.5" cy="289.7" r="1.15"/>
<circle cx="118.5" cy="289.0" r="1.15"/>
<circle cx="98.4" cy="298.8" r="1.15"/>
<circle cx="105.3" cy="298.0" r="1.15"/>
<circle cx="112.3" cy="297.3" r="1.15"/>
<circle cx="119.3" cy="296.6" r="1.15"/>
<circle cx="99.2" cy="306.3" r="1.15"/>
<circle cx="106.1" cy="305.6" r="1.15"/>
<circle cx="113.1" cy="304.9" r="1.15"/>
<circle cx="120.1" cy="304.1" r="1.15"/>
<circle cx="146.5" cy="289.2" r="1.15"/>
<circle cx="153.6" cy="289.7" r="1.15"/>
<circle cx="160.6" cy="290.2" r="1.15"/>
<circle cx="145.9" cy="296.8" r="1.15"/>
<circle cx="153.0" cy="297.3" r="1.15"/>
<circle cx="160.1" cy="297.8" r="1.15"/>
<circle cx="145.4" cy="304.4" r="1.15"/>
<circle cx="152.5" cy="304.9" r="1.15"/>
<circle cx="159.6" cy="305.4" r="1.15"/>
<circle cx="186.2" cy="288.8" r="1.15"/>
<circle cx="193.2" cy="288.8" r="1.15"/>
<circle cx="186.2" cy="296.1" r="1.15"/>
<circle cx="193.2" cy="296.1" r="1.15"/>
<circle cx="186.2" cy="303.4" r="1.15"/>
<circle cx="193.2" cy="303.4" r="1.15"/>
<circle cx="229.4" cy="289.5" r="1.15"/>
<circle cx="236.4" cy="291.1" r="1.15"/>
<circle cx="243.4" cy="292.8" r="1.15"/>
<circle cx="227.7" cy="296.7" r="1.15"/>
<circle cx="234.7" cy="298.3" r="1.15"/>
<circle cx="241.7" cy="300.0" r="1.15"/>
<circle cx="226.0" cy="303.9" r="1.15"/>
<circle cx="233.1" cy="305.6" r="1.15"/>
<circle cx="240.1" cy="307.2" r="1.15"/>
<circle cx="22.1" cy="322.7" r="1.15"/>
<circle cx="29.3" cy="323.6" r="1.15"/>
<circle cx="21.2" cy="329.9" r="1.15"/>
<circle cx="28.4" cy="330.8" r="1.15"/>
<circle cx="20.3" cy="337.2" r="1.15"/>
<circle cx="27.5" cy="338.0" r="1.15"/>
<circle cx="54.6" cy="323.0" r="1.15"/>
<circle cx="61.9" cy="322.2" r="1.15"/>
<circle cx="69.1" cy="321.5" r="1.15"/>
<circle cx="55.4" cy="330.4" r="1.15"/>
<circle cx="62.7" cy="329.6" r="1.15"/>
<circle cx="69.9" cy="328.8" r="1.15"/>
<circle cx="56.2" cy="337.7" r="1.15"/>
<circle cx="63.4" cy="337.0" r="1.15"/>
<circle cx="70.7" cy="336.2" r="1.15"/>
<circle cx="99.0" cy="322.9" r="1.15"/>
<circle cx="99.0" cy="330.1" r="1.15"/>
<circle cx="99.0" cy="337.3" r="1.15"/>
<circle cx="122.7" cy="319.5" r="1.15"/>
<circle cx="129.9" cy="318.2" r="1.15"/>
<circle cx="124.0" cy="327.0" r="1.15"/>
<circle cx="131.2" cy="325.8" r="1.15"/>
<circle cx="125.3" cy="334.6" r="1.15"/>
<circle cx="132.5" cy="333.4" r="1.15"/>
<circle cx="160.8" cy="322.1" r="1.15"/>
<circle cx="162.1" cy="329.2" r="1.15"/>
<circle cx="163.5" cy="336.3" r="1.15"/>
<circle cx="192.5" cy="320.2" r="1.15"/>
<circle cx="199.5" cy="322.2" r="1.15"/>
<circle cx="206.5" cy="324.2" r="1.15"/>
<circle cx="190.4" cy="327.4" r="1.15"/>
<circle cx="197.4" cy="329.4" r="1.15"/>
<circle cx="204.4" cy="331.4" r="1.15"/>
<circle cx="188.3" cy="334.6" r="1.15"/>
<circle cx="195.4" cy="336.6" r="1.15"/>
<circle cx="202.4" cy="338.7" r="1.15"/>
<circle cx="226.3" cy="325.1" r="1.15"/>
<circle cx="233.4" cy="323.1" r="1.15"/>
<circle cx="228.4" cy="332.3" r="1.15"/>
<circle cx="235.4" cy="330.3" r="1.15"/>
<circle cx="230.5" cy="339.5" r="1.15"/>
<circle cx="237.5" cy="337.5" r="1.15"/>
<circle cx="295.6" cy="260.0" r="1.15"/>
<circle cx="302.6" cy="260.0" r="1.15"/>
<circle cx="309.8" cy="260.0" r="1.15"/>
<circle cx="295.6" cy="267.9" r="1.15"/>
<circle cx="302.6" cy="267.9" r="1.15"/>
<circle cx="309.8" cy="267.9" r="1.15"/>
<circle cx="295.6" cy="275.7" r="1.15"/>
<circle cx="302.6" cy="275.7" r="1.15"/>
<circle cx="309.8" cy="275.7" r="1.15"/>
<circle cx="295.6" cy="283.6" r="1.15"/>
<circle cx="302.6" cy="283.6" r="1.15"/>
<circle cx="309.8" cy="283.6" r="1.15"/>
<circle cx="295.6" cy="291.4" r="1.15"/>
<circle cx="302.6" cy="291.4" r="1.15"/>
<circle cx="309.8" cy="291.4" r="1.15"/>
<circle cx="295.6" cy="299.3" r="1.15"/>
<circle cx="302.6" cy="299.3" r="1.15"/>
<circle cx="309.8" cy="299.3" r="1.15"/>
<circle cx="295.6" cy="307.1" r="1.15"/>
<circle cx="302.6" cy="307.1" r="1.15"/>
<circle cx="309.8" cy="307.1" r="1.15"/>
<circle cx="295.6" cy="315.0" r="1.15"/>
<circle cx="302.6" cy="315.0" r="1.15"/>
<circle cx="309.8" cy="315.0" r="1.15"/>
<circle cx="295.6" cy="322.8" r="1.15"/>
<circle cx="302.6" cy="322.8" r="1.15"/>
<circle cx="309.8" cy="322.8" r="1.15"/>
<circle cx="295.6" cy="330.7" r="1.15"/>
<circle cx="302.6" cy="330.7" r="1.15"/>
<circle cx="309.8" cy="330.7" r="1.15"/>
<circle cx="295.6" cy="338.5" r="1.15"/>
<circle cx="302.6" cy="338.5" r="1.15"/>
<circle cx="309.8" cy="338.5" r="1.15"/>
<circle cx="339.7" cy="260.0" r="1.15"/>
<circle cx="346.8" cy="260.0" r="1.15"/>
<circle cx="353.9" cy="260.0" r="1.15"/>
<circle cx="339.7" cy="267.9" r="1.15"/>
<circle cx="346.8" cy="267.9" r="1.15"/>
<circle cx="353.9" cy="267.9" r="1.15"/>
<circle cx="339.7" cy="275.7" r="1.15"/>
<circle cx="346.8" cy="275.7" r="1.15"/>
<circle cx="353.9" cy="275.7" r="1.15"/>
<circle cx="339.7" cy="283.6" r="1.15"/>
<circle cx="346.8" cy="283.6" r="1.15"/>
<circle cx="353.9" cy="283.6" r="1.15"/>
<circle cx="339.7" cy="291.4" r="1.15"/>
<circle cx="346.8" cy="291.4" r="1.15"/>
<circle cx="353.9" cy="291.4" r="1.15"/>
<circle cx="339.7" cy="299.3" r="1.15"/>
<circle cx="346.8" cy="299.3" r="1.15"/>
<circle cx="353.9" cy="299.3" r="1.15"/>
<circle cx="339.7" cy="307.1" r="1.15"/>
<circle cx="346.8" cy="307.1" r="1.15"/>
<circle cx="353.9" cy="307.1" r="1.15"/>
<circle cx="339.7" cy="315.0" r="1.15"/>
<circle cx="346.8" cy="315.0" r="1.15"/>
<circle cx="353.9" cy="315.0" r="1.15"/>
<circle cx="339.7" cy="322.8" r="1.15"/>
<circle cx="346.8" cy="322.8" r="1.15"/>
<circle cx="353.9" cy="322.8" r="1.15"/>
<circle cx="339.7" cy="330.7" r="1.15"/>
<circle cx="346.8" cy="330.7" r="1.15"/>
<circle cx="353.9" cy="330.7" r="1.15"/>
<circle cx="339.7" cy="338.5" r="1.15"/>
<circle cx="346.8" cy="338.5" r="1.15"/>
<circle cx="353.9" cy="338.5" r="1.15"/>
<circle cx="383.4" cy="260.0" r="1.15"/>
<circle cx="390.5" cy="260.0" r="1.15"/>
<circle cx="397.6" cy="260.0" r="1.15"/>
<circle cx="383.4" cy="267.9" r="1.15"/>
<circle cx="390.5" cy="267.9" r="1.15"/>
<circle cx="397.6" cy="267.9" r="1.15"/>
<circle cx="383.4" cy="275.7" r="1.15"/>
<circle cx="390.5" cy="275.7" r="1.15"/>
<circle cx="397.6" cy="275.7" r="1.15"/>
<circle cx="383.4" cy="283.6" r="1.15"/>
<circle cx="390.5" cy="283.6" r="1.15"/>
<circle cx="397.6" cy="283.6" r="1.15"/>
<circle cx="383.4" cy="291.4" r="1.15"/>
<circle cx="390.5" cy="291.4" r="1.15"/>
<circle cx="397.6" cy="291.4" r="1.15"/>
<circle cx="383.4" cy="299.3" r="1.15"/>
<circle cx="390.5" cy="299.3" r="1.15"/>
<circle cx="397.6" cy="299.3" r="1.15"/>
<circle cx="383.4" cy="307.1" r="1.15"/>
<circle cx="390.5" cy="307.1" r="1.15"/>
<circle cx="397.6" cy="307.1" r="1.15"/>
<circle cx="383.4" cy="315.0" r="1.15"/>
<circle cx="390.5" cy="315.0" r="1.15"/>
<circle cx="397.6" cy="315.0" r="1.15"/>
<circle cx="383.4" cy="322.8" r="1.15"/>
<circle cx="390.5" cy="322.8" r="1.15"/>
<circle cx="397.6" cy="322.8" r="1.15"/>
<circle cx="383.4" cy="330.7" r="1.15"/>
<circle cx="390.5" cy="330.7" r="1.15"/>
<circle cx="397.6" cy="330.7" r="1.15"/>
<circle cx="383.4" cy="338.5" r="1.15"/>
<circle cx="390.5" cy="338.5" r="1.15"/>
<circle cx="397.6" cy="338.5" r="1.15"/>
<circle cx="426.9" cy="260.0" r="1.15"/>
<circle cx="433.9" cy="260.0" r="1.15"/>
<circle cx="441.1" cy="260.0" r="1.15"/>
<circle cx="426.9" cy="267.9" r="1.15"/>
<circle cx="433.9" cy="267.9" r="1.15"/>
<circle cx="441.1" cy="267.9" r="1.15"/>
<circle cx="426.9" cy="275.7" r="1.15"/>
<circle cx="433.9" cy="275.7" r="1.15"/>
<circle cx="441.1" cy="275.7" r="1.15"/>
<circle cx="426.9" cy="283.6" r="1.15"/>
<circle cx="433.9" cy="283.6" r="1.15"/>
<circle cx="441.1" cy="283.6" r="1.15"/>
<circle cx="426.9" cy="291.4" r="1.15"/>
<circle cx="433.9" cy="291.4" r="1.15"/>
<circle cx="441.1" cy="291.4" r="1.15"/>
<circle cx="426.9" cy="299.3" r="1.15"/>
<circle cx="433.9" cy="299.3" r="1.15"/>
<circle cx="441.1" cy="299.3" r="1.15"/>
<circle cx="426.9" cy="307.1" r="1.15"/>
<circle cx="433.9" cy="307.1" r="1.15"/>
<circle cx="441.1" cy="307.1" r="1.15"/>
<circle cx="426.9" cy="315.0" r="1.15"/>
<circle cx="433.9" cy="315.0" r="1.15"/>
<circle cx="441.1" cy="315.0" r="1.15"/>
<circle cx="426.9" cy="322.8" r="1.15"/>
<circle cx="433.9" cy="322.8" r="1.15"/>
<circle cx="441.1" cy="322.8" r="1.15"/>
<circle cx="426.9" cy="330.7" r="1.15"/>
<circle cx="433.9" cy="330.7" r="1.15"/>
<circle cx="441.1" cy="330.7" r="1.15"/>
<circle cx="426.9" cy="338.5" r="1.15"/>
<circle cx="433.9" cy="338.5" r="1.15"/>
<circle cx="441.1" cy="338.5" r="1.15"/>
<circle cx="470.6" cy="260.0" r="1.15"/>
<circle cx="477.6" cy="260.0" r="1.15"/>
<circle cx="484.8" cy="260.0" r="1.15"/>
<circle cx="470.6" cy="267.9" r="1.15"/>
<circle cx="477.6" cy="267.9" r="1.15"/>
<circle cx="484.8" cy="267.9" r="1.15"/>
<circle cx="470.6" cy="275.7" r="1.15"/>
<circle cx="477.6" cy="275.7" r="1.15"/>
<circle cx="484.8" cy="275.7" r="1.15"/>
<circle cx="470.6" cy="283.6" r="1.15"/>
<circle cx="477.6" cy="283.6" r="1.15"/>
<circle cx="484.8" cy="283.6" r="1.15"/>
<circle cx="470.6" cy="291.4" r="1.15"/>
<circle cx="477.6" cy="291.4" r="1.15"/>
<circle cx="484.8" cy="291.4" r="1.15"/>
<circle cx="470.6" cy="299.3" r="1.15"/>
<circle cx="477.6" cy="299.3" r="1.15"/>
<circle cx="484.8" cy="299.3" r="1.15"/>
<circle cx="470.6" cy="307.1" r="1.15"/>
<circle cx="477.6" cy="307.1" r="1.15"/>
<circle cx="484.8" cy="307.1" r="1.15"/>
<circle cx="470.6" cy="315.0" r="1.15"/>
<circle cx="477.6" cy="315.0" r="1.15"/>
<circle cx="484.8" cy="315.0" r="1.15"/>
<circle cx="470.6" cy="322.8" r="1.15"/>
<circle cx="477.6" cy="322.8" r="1.15"/>
<circle cx="484.8" cy="322.8" r="1.15"/>
<circle cx="470.6" cy="330.7" r="1.15"/>
<circle cx="477.6" cy="330.7" r="1.15"/>
<circle cx="484.8" cy="330.7" r="1.15"/>
<circle cx="470.6" cy="338.5" r="1.15"/>
<circle cx="477.6" cy="338.5" r="1.15"/>
<circle cx="484.8" cy="338.5" r="1.15"/>
<circle cx="514.0" cy="260.0" r="1.15"/>
<circle cx="521.1" cy="260.0" r="1.15"/>
<circle cx="528.2" cy="260.0" r="1.15"/>
<circle cx="514.0" cy="267.9" r="1.15"/>
<circle cx="521.1" cy="267.9" r="1.15"/>
<circle cx="528.2" cy="267.9" r="1.15"/>
<circle cx="514.0" cy="275.7" r="1.15"/>
<circle cx="521.1" cy="275.7" r="1.15"/>
<circle cx="528.2" cy="275.7" r="1.15"/>
<circle cx="514.0" cy="283.6" r="1.15"/>
<circle cx="521.1" cy="283.6" r="1.15"/>
<circle cx="528.2" cy="283.6" r="1.15"/>
<circle cx="514.0" cy="291.4" r="1.15"/>
<circle cx="521.1" cy="291.4" r="1.15"/>
<circle cx="528.2" cy="291.4" r="1.15"/>
<circle cx="514.0" cy="299.3" r="1.15"/>
<circle cx="521.1" cy="299.3" r="1.15"/>
<circle cx="528.2" cy="299.3" r="1.15"/>
<circle cx="514.0" cy="307.1" r="1.15"/>
<circle cx="521.1" cy="307.1" r="1.15"/>
<circle cx="528.2" cy="307.1" r="1.15"/>
<circle cx="514.0" cy="315.0" r="1.15"/>
<circle cx="521.1" cy="315.0" r="1.15"/>
<circle cx="528.2" cy="315.0" r="1.15"/>
<circle cx="514.0" cy="322.8" r="1.15"/>
<circle cx="521.1" cy="322.8" r="1.15"/>
<circle cx="528.2" cy="322.8" r="1.15"/>
<circle cx="514.0" cy="330.7" r="1.15"/>
<circle cx="521.1" cy="330.7" r="1.15"/>
<circle cx="528.2" cy="330.7" r="1.15"/>
<circle cx="514.0" cy="338.5" r="1.15"/>
<circle cx="521.1" cy="338.5" r="1.15"/>
<circle cx="528.2" cy="338.5" r="1.15"/>
</g>
<g fill="none" stroke="#5a5a5a" stroke-width="0.55" stroke-linejoin="round">
<polyline points="42.3,287.7 44.2,288.4 45.9,286.7 47.8,288.1 49.5,286.4 51.4,287.1"/>
<polyline points="55.7,289.7 53.8,289.0 52.1,290.7 50.2,289.1 48.5,290.8 46.6,290.1"/>
<polyline points="42.3,295.2 44.2,295.9 45.9,294.2 47.8,295.6 49.5,293.9 51.4,294.6"/>
<polyline points="55.7,297.2 53.8,296.5 52.1,298.2 50.2,296.6 48.5,298.3 46.6,297.6"/>
<polyline points="42.3,302.6 44.2,303.3 45.9,301.6 47.8,303.0 49.5,301.3 51.4,302.0"/>
<polyline points="55.7,304.6 53.8,303.9 52.1,305.6 50.2,304.0 48.5,305.7 46.6,305.0"/>
<polyline points="77.3,289.4 79.0,290.1 80.6,288.4 82.4,289.8 84.0,288.1 85.7,288.8"/>
<polyline points="89.7,291.4 88.0,290.7 86.4,292.4 84.6,290.8 83.0,292.5 81.3,291.8"/>
<polyline points="77.3,296.9 79.0,297.6 80.6,295.9 82.4,297.3 84.0,295.6 85.7,296.3"/>
<polyline points="89.7,298.9 88.0,298.2 86.4,299.9 84.6,298.3 83.0,300.0 81.3,299.3"/>
<polyline points="77.3,304.4 79.0,305.1 80.6,303.4 82.4,304.8 84.0,303.1 85.7,303.8"/>
<polyline points="89.7,306.4 88.0,305.7 86.4,307.4 84.6,305.8 83.0,307.5 81.3,306.8"/>
<polyline points="126.8,287.8 128.5,288.5 130.0,286.8 131.7,288.2 133.2,286.5 134.9,287.2"/>
<polyline points="138.7,289.8 137.0,289.1 135.5,290.8 133.8,289.2 132.3,290.9 130.6,290.2"/>
<polyline points="126.8,295.4 128.5,296.1 130.0,294.4 131.7,295.8 133.2,294.1 134.9,294.8"/>
<polyline points="138.7,297.4 137.0,296.7 135.5,298.4 133.8,296.8 132.3,298.5 130.6,297.8"/>
<polyline points="126.8,303.0 128.5,303.7 130.0,302.0 131.7,303.4 133.2,301.7 134.9,302.4"/>
<polyline points="138.7,305.0 137.0,304.3 135.5,306.0 133.8,304.4 132.3,306.1 130.6,305.4"/>
<polyline points="168.5,289.9 170.3,290.5 172.0,288.8 173.9,290.2 175.6,289.3"/>
<polyline points="178.9,291.9 177.1,291.2 175.4,292.9 173.5,291.4 171.8,292.3"/>
<polyline points="168.5,297.4 170.3,298.0 172.0,296.3 173.9,297.7 175.6,296.8"/>
<polyline points="178.9,299.4 177.1,298.7 175.4,300.4 173.5,298.9 171.8,299.8"/>
<polyline points="168.5,304.9 170.3,305.5 172.0,303.8 173.9,305.2 175.6,304.3"/>
<polyline points="178.9,306.9 177.1,306.2 175.4,307.9 173.5,306.4 171.8,307.3"/>
<polyline points="203.1,287.8 204.8,288.5 206.4,286.8 208.2,288.3 209.8,286.7 211.5,288.2 213.1,286.5 214.8,287.2"/>
<polyline points="220.5,289.8 218.8,289.1 217.2,290.7 215.4,289.2 213.8,290.8 212.1,289.3 210.5,290.9 208.8,290.2"/>
<polyline points="203.1,294.8 204.8,295.5 206.4,293.8 208.2,295.3 209.8,293.7 211.5,295.2 213.1,293.5 214.8,294.2"/>
<polyline points="220.5,296.8 218.8,296.1 217.2,297.7 215.4,296.2 213.8,297.8 212.1,296.3 210.5,297.9 208.8,297.2"/>
<polyline points="203.1,303.0 204.8,303.7 206.4,302.0 208.2,303.5 209.8,301.9 211.5,303.4 213.1,301.7 214.8,302.4"/>
<polyline points="220.5,305.0 218.8,304.3 217.2,305.9 215.4,304.4 213.8,306.0 212.1,304.5 210.5,306.1 208.8,305.4"/>
<polyline points="203.1,310.1 204.8,310.8 206.4,309.1 208.2,310.6 209.8,309.0 211.5,310.5 213.1,308.8 214.8,309.5"/>
<polyline points="220.5,312.1 218.8,311.4 217.2,313.0 215.4,311.5 213.8,313.1 212.1,311.6 210.5,313.2 208.8,312.5"/>
<polyline points="36.3,325.2 38.2,325.8 40.0,324.1 42.0,325.5 43.8,324.6"/>
<polyline points="47.2,327.2 45.3,326.5 43.5,328.2 41.6,326.7 39.8,327.6"/>
<polyline points="36.3,332.4 38.2,333.0 40.0,331.3 42.0,332.7 43.8,331.8"/>
<polyline points="47.2,334.4 45.3,333.7 43.5,335.4 41.6,333.9 39.8,334.8"/>
<polyline points="36.3,339.7 38.2,340.3 40.0,338.6 42.0,340.0 43.8,339.1"/>
<polyline points="47.2,341.7 45.3,341.0 43.5,342.7 41.6,341.2 39.8,342.1"/>
<polyline points="78.1,320.8 79.9,321.5 81.5,319.8 83.3,321.2 84.9,319.5 86.7,320.2"/>
<polyline points="90.7,322.8 88.9,322.1 87.3,323.8 85.5,322.2 83.9,323.9 82.1,323.2"/>
<polyline points="78.1,328.6 79.9,329.3 81.5,327.6 83.3,329.0 84.9,327.3 86.7,328.0"/>
<polyline points="90.7,330.6 88.9,329.9 87.3,331.6 85.5,330.0 83.9,331.7 82.1,331.0"/>
<polyline points="78.1,335.4 79.9,336.1 81.5,334.4 83.3,335.8 84.9,334.1 86.7,334.8"/>
<polyline points="90.7,337.4 88.9,336.7 87.3,338.4 85.5,336.8 83.9,338.5 82.1,337.8"/>
<polyline points="106.3,322.3 108.1,322.9 109.6,321.2 111.5,322.6 113.1,321.7"/>
<polyline points="116.2,324.3 114.5,323.6 112.9,325.3 111.1,323.8 109.4,324.7"/>
<polyline points="106.3,330.7 108.1,331.3 109.6,329.6 111.5,331.0 113.1,330.1"/>
<polyline points="116.2,332.7 114.5,332.0 112.9,333.7 111.1,332.2 109.4,333.1"/>
<polyline points="106.3,339.0 108.1,339.6 109.6,337.9 111.5,339.3 113.1,338.4"/>
<polyline points="116.2,341.0 114.5,340.3 112.9,342.0 111.1,340.5 109.4,341.4"/>
<polyline points="139.3,315.7 141.0,316.4 142.6,314.7 144.4,316.2 146.0,314.5 147.8,316.0 149.4,315.1"/>
<polyline points="154.2,317.7 152.5,317.0 150.9,318.6 149.1,317.1 147.5,318.8 145.8,317.2 144.1,318.1"/>
<polyline points="139.3,323.4 141.0,324.1 142.6,322.4 144.4,323.9 146.0,322.2 147.8,323.7 149.4,322.8"/>
<polyline points="154.2,325.4 152.5,324.7 150.9,326.3 149.1,324.8 147.5,326.5 145.8,324.9 144.1,325.8"/>
<polyline points="139.3,331.8 141.0,332.5 142.6,330.8 144.4,332.3 146.0,330.6 147.8,332.1 149.4,331.2"/>
<polyline points="154.2,333.8 152.5,333.1 150.9,334.7 149.1,333.2 147.5,334.9 145.8,333.3 144.1,334.2"/>
<polyline points="139.3,339.4 141.0,340.1 142.6,338.4 144.4,339.9 146.0,338.2 147.8,339.7 149.4,338.8"/>
<polyline points="154.2,341.4 152.5,340.7 150.9,342.3 149.1,340.8 147.5,342.5 145.8,340.9 144.1,341.8"/>
<polyline points="169.3,319.4 171.0,320.1 172.5,318.4 174.2,319.9 175.8,318.2 177.5,319.7 179.1,318.8"/>
<polyline points="183.7,321.4 182.0,320.7 180.5,322.3 178.8,320.8 177.2,322.5 175.5,320.9 173.9,321.8"/>
<polyline points="169.3,326.4 171.0,327.1 172.5,325.4 174.2,326.9 175.8,325.2 177.5,326.7 179.1,325.8"/>
<polyline points="183.7,328.4 182.0,327.7 180.5,329.3 178.8,327.8 177.2,329.5 175.5,327.9 173.9,328.8"/>
<polyline points="169.3,334.8 171.0,335.5 172.5,333.8 174.2,335.3 175.8,333.6 177.5,335.1 179.1,334.2"/>
<polyline points="183.7,336.8 182.0,336.1 180.5,337.7 178.8,336.2 177.2,337.9 175.5,336.3 173.9,337.2"/>
<polyline points="213.3,333.7 215.2,334.3 216.9,332.5 218.8,333.1"/>
<polyline points="221.2,335.7 219.3,335.0 217.6,336.8 215.7,336.1"/>
<polyline points="213.3,341.2 215.2,341.8 216.9,340.0 218.8,340.6"/>
<polyline points="221.2,343.2 219.3,342.5 217.6,344.3 215.7,343.6"/>
<polyline points="318.6,259.4 320.3,260.1 321.9,258.4 323.8,259.8 325.4,258.1 327.2,258.8"/>
<polyline points="331.2,260.8 329.5,260.1 327.8,261.8 326.0,260.2 324.4,261.9 322.6,261.2"/>
<polyline points="318.6,267.2 320.3,267.9 321.9,266.2 323.8,267.7 325.4,266.0 327.2,266.7"/>
<polyline points="331.2,268.7 329.5,267.9 327.8,269.6 326.0,268.1 324.4,269.8 322.6,269.1"/>
<polyline points="318.6,275.1 320.3,275.8 321.9,274.1 323.8,275.5 325.4,273.8 327.2,274.5"/>
<polyline points="331.2,276.5 329.5,275.8 327.8,277.5 326.0,275.9 324.4,277.6 322.6,276.9"/>
<polyline points="318.6,282.9 320.3,283.6 321.9,281.9 323.8,283.4 325.4,281.7 327.2,282.4"/>
<polyline points="331.2,284.4 329.5,283.6 327.8,285.3 326.0,283.8 324.4,285.5 322.6,284.8"/>
<polyline points="318.6,290.8 320.3,291.5 321.9,289.8 323.8,291.2 325.4,289.5 327.2,290.2"/>
<polyline points="331.2,292.2 329.5,291.5 327.8,293.2 326.0,291.6 324.4,293.3 322.6,292.6"/>
<polyline points="318.6,298.6 320.3,299.3 321.9,297.6 323.8,299.1 325.4,297.4 327.2,298.1"/>
<polyline points="331.2,300.1 329.5,299.3 327.8,301.0 326.0,299.5 324.4,301.2 322.6,300.5"/>
<polyline points="318.6,306.5 320.3,307.2 321.9,305.5 323.8,306.9 325.4,305.2 327.2,305.9"/>
<polyline points="331.2,307.9 329.5,307.2 327.8,308.9 326.0,307.3 324.4,309.0 322.6,308.3"/>
<polyline points="318.6,314.3 320.3,315.0 321.9,313.3 323.8,314.8 325.4,313.1 327.2,313.8"/>
<polyline points="331.2,315.8 329.5,315.0 327.8,316.7 326.0,315.2 324.4,316.9 322.6,316.2"/>
<polyline points="318.6,322.2 320.3,322.9 321.9,321.2 323.8,322.6 325.4,320.9 327.2,321.6"/>
<polyline points="331.2,323.6 329.5,322.9 327.8,324.6 326.0,323.0 324.4,324.7 322.6,324.0"/>
<polyline points="318.6,330.0 320.3,330.7 321.9,329.0 323.8,330.5 325.4,328.8 327.2,329.4"/>
<polyline points="331.2,331.4 329.5,330.7 327.8,332.4 326.0,330.9 324.4,332.6 322.6,331.9"/>
<polyline points="318.6,337.9 320.3,338.6 321.9,336.9 323.8,338.3 325.4,336.6 327.2,337.3"/>
<polyline points="331.2,339.3 329.5,338.6 327.8,340.3 326.0,338.7 324.4,340.4 322.6,339.7"/>
<polyline points="362.7,259.4 364.4,260.1 366.0,258.4 367.8,259.8 369.3,258.1 371.1,258.8"/>
<polyline points="375.0,260.8 373.3,260.1 371.7,261.8 369.9,260.2 368.3,261.9 366.6,261.2"/>
<polyline points="362.7,267.2 364.4,267.9 366.0,266.2 367.8,267.7 369.3,266.0 371.1,266.7"/>
<polyline points="375.0,268.7 373.3,267.9 371.7,269.6 369.9,268.1 368.3,269.8 366.6,269.1"/>
<polyline points="362.7,275.1 364.4,275.8 366.0,274.1 367.8,275.5 369.3,273.8 371.1,274.5"/>
<polyline points="375.0,276.5 373.3,275.8 371.7,277.5 369.9,275.9 368.3,277.6 366.6,276.9"/>
<polyline points="362.7,282.9 364.4,283.6 366.0,281.9 367.8,283.4 369.3,281.7 371.1,282.4"/>
<polyline points="375.0,284.4 373.3,283.6 371.7,285.3 369.9,283.8 368.3,285.5 366.6,284.8"/>
<polyline points="362.7,290.8 364.4,291.5 366.0,289.8 367.8,291.2 369.3,289.5 371.1,290.2"/>
<polyline points="375.0,292.2 373.3,291.5 371.7,293.2 369.9,291.6 368.3,293.3 366.6,292.6"/>
<polyline points="362.7,298.6 364.4,299.3 366.0,297.6 367.8,299.1 369.3,297.4 371.1,298.1"/>
<polyline points="375.0,300.1 373.3,299.3 371.7,301.0 369.9,299.5 368.3,301.2 366.6,300.5"/>
<polyline points="362.7,306.5 364.4,307.2 366.0,305.5 367.8,306.9 369.3,305.2 371.1,305.9"/>
<polyline points="375.0,307.9 373.3,307.2 371.7,308.9 369.9,307.3 368.3,309.0 366.6,308.3"/>
<polyline points="362.7,314.3 364.4,315.0 366.0,313.3 367.8,314.8 369.3,313.1 371.1,313.8"/>
<polyline points="375.0,315.8 373.3,315.0 371.7,316.7 369.9,315.2 368.3,316.9 366.6,316.2"/>
<polyline points="362.7,322.2 364.4,322.9 366.0,321.2 367.8,322.6 369.3,320.9 371.1,321.6"/>
<polyline points="375.0,323.6 373.3,322.9 371.7,324.6 369.9,323.0 368.3,324.7 366.6,324.0"/>
<polyline points="362.7,330.0 364.4,330.7 366.0,329.0 367.8,330.5 369.3,328.8 371.1,329.4"/>
<polyline points="375.0,331.4 373.3,330.7 371.7,332.4 369.9,330.9 368.3,332.6 366.6,331.9"/>
<polyline points="362.7,337.9 364.4,338.6 366.0,336.9 367.8,338.3 369.3,336.6 371.1,337.3"/>
<polyline points="375.0,339.3 373.3,338.6 371.7,340.3 369.9,338.7 368.3,340.4 366.6,339.7"/>
<polyline points="406.4,259.4 408.1,260.1 409.7,258.4 411.4,259.8 412.9,258.1 414.6,258.8"/>
<polyline points="418.4,260.8 416.8,260.1 415.2,261.8 413.5,260.2 411.9,261.9 410.3,261.2"/>
<polyline points="406.4,267.2 408.1,267.9 409.7,266.2 411.4,267.7 412.9,266.0 414.6,266.7"/>
<polyline points="418.4,268.7 416.8,267.9 415.2,269.6 413.5,268.1 411.9,269.8 410.3,269.1"/>
<polyline points="406.4,275.1 408.1,275.8 409.7,274.1 411.4,275.5 412.9,273.8 414.6,274.5"/>
<polyline points="418.4,276.5 416.8,275.8 415.2,277.5 413.5,275.9 411.9,277.6 410.3,276.9"/>
<polyline points="406.4,282.9 408.1,283.6 409.7,281.9 411.4,283.4 412.9,281.7 414.6,282.4"/>
<polyline points="418.4,284.4 416.8,283.6 415.2,285.3 413.5,283.8 411.9,285.5 410.3,284.8"/>
<polyline points="406.4,290.8 408.1,291.5 409.7,289.8 411.4,291.2 412.9,289.5 414.6,290.2"/>
<polyline points="418.4,292.2 416.8,291.5 415.2,293.2 413.5,291.6 411.9,293.3 410.3,292.6"/>
<polyline points="406.4,298.6 408.1,299.3 409.7,297.6 411.4,299.1 412.9,297.4 414.6,298.1"/>
<polyline points="418.4,300.1 416.8,299.3 415.2,301.0 413.5,299.5 411.9,301.2 410.3,300.5"/>
<polyline points="406.4,306.5 408.1,307.2 409.7,305.5 411.4,306.9 412.9,305.2 414.6,305.9"/>
<polyline points="418.4,307.9 416.8,307.2 415.2,308.9 413.5,307.3 411.9,309.0 410.3,308.3"/>
<polyline points="406.4,314.3 408.1,315.0 409.7,313.3 411.4,314.8 412.9,313.1 414.6,313.8"/>
<polyline points="418.4,315.8 416.8,315.0 415.2,316.7 413.5,315.2 411.9,316.9 410.3,316.2"/>
<polyline points="406.4,322.2 408.1,322.9 409.7,321.2 411.4,322.6 412.9,320.9 414.6,321.6"/>
<polyline points="418.4,323.6 416.8,322.9 415.2,324.6 413.5,323.0 411.9,324.7 410.3,324.0"/>
<polyline points="406.4,330.0 408.1,330.7 409.7,329.0 411.4,330.5 412.9,328.8 414.6,329.4"/>
<polyline points="418.4,331.4 416.8,330.7 415.2,332.4 413.5,330.9 411.9,332.6 410.3,331.9"/>
<polyline points="406.4,337.9 408.1,338.6 409.7,336.9 411.4,338.3 412.9,336.6 414.6,337.3"/>
<polyline points="418.4,339.3 416.8,338.6 415.2,340.3 413.5,338.7 411.9,340.4 410.3,339.7"/>
<polyline points="449.9,259.4 451.6,260.1 453.1,258.4 454.9,259.8 456.5,258.1 458.2,258.8"/>
<polyline points="462.1,260.8 460.4,260.1 458.8,261.8 457.1,260.2 455.5,261.9 453.8,261.2"/>
<polyline points="449.9,267.2 451.6,267.9 453.1,266.2 454.9,267.7 456.5,266.0 458.2,266.7"/>
<polyline points="462.1,268.7 460.4,267.9 458.8,269.6 457.1,268.1 455.5,269.8 453.8,269.1"/>
<polyline points="449.9,275.1 451.6,275.8 453.1,274.1 454.9,275.5 456.5,273.8 458.2,274.5"/>
<polyline points="462.1,276.5 460.4,275.8 458.8,277.5 457.1,275.9 455.5,277.6 453.8,276.9"/>
<polyline points="449.9,282.9 451.6,283.6 453.1,281.9 454.9,283.4 456.5,281.7 458.2,282.4"/>
<polyline points="462.1,284.4 460.4,283.6 458.8,285.3 457.1,283.8 455.5,285.5 453.8,284.8"/>
<polyline points="449.9,290.8 451.6,291.5 453.1,289.8 454.9,291.2 456.5,289.5 458.2,290.2"/>
<polyline points="462.1,292.2 460.4,291.5 458.8,293.2 457.1,291.6 455.5,293.3 453.8,292.6"/>
<polyline points="449.9,298.6 451.6,299.3 453.1,297.6 454.9,299.1 456.5,297.4 458.2,298.1"/>
<polyline points="462.1,300.1 460.4,299.3 458.8,301.0 457.1,299.5 455.5,301.2 453.8,300.5"/>
<polyline points="449.9,306.5 451.6,307.2 453.1,305.5 454.9,306.9 456.5,305.2 458.2,305.9"/>
<polyline points="462.1,307.9 460.4,307.2 458.8,308.9 457.1,307.3 455.5,309.0 453.8,308.3"/>
<polyline points="449.9,314.3 451.6,315.0 453.1,313.3 454.9,314.8 456.5,313.1 458.2,313.8"/>
<polyline points="462.1,315.8 460.4,315.0 458.8,316.7 457.1,315.2 455.5,316.9 453.8,316.2"/>
<polyline points="449.9,322.2 451.6,322.9 453.1,321.2 454.9,322.6 456.5,320.9 458.2,321.6"/>
<polyline points="462.1,323.6 460.4,322.9 458.8,324.6 457.1,323.0 455.5,324.7 453.8,324.0"/>
<polyline points="449.9,330.0 451.6,330.7 453.1,329.0 454.9,330.5 456.5,328.8 458.2,329.4"/>
<polyline points="462.1,331.4 460.4,330.7 458.8,332.4 457.1,330.9 455.5,332.6 453.8,331.9"/>
<polyline points="449.9,337.9 451.6,338.6 453.1,336.9 454.9,338.3 456.5,336.6 458.2,337.3"/>
<polyline points="462.1,339.3 460.4,338.6 458.8,340.3 457.1,338.7 455.5,340.4 453.8,339.7"/>
<polyline points="493.6,259.4 495.3,260.1 496.8,258.4 498.6,259.8 500.1,258.1 501.8,258.8"/>
<polyline points="505.6,260.8 504.0,260.1 502.4,261.8 500.7,260.2 499.1,261.9 497.4,261.2"/>
<polyline points="493.6,267.2 495.3,267.9 496.8,266.2 498.6,267.7 500.1,266.0 501.8,266.7"/>
<polyline points="505.6,268.7 504.0,267.9 502.4,269.6 500.7,268.1 499.1,269.8 497.4,269.1"/>
<polyline points="493.6,275.1 495.3,275.8 496.8,274.1 498.6,275.5 500.1,273.8 501.8,274.5"/>
<polyline points="505.6,276.5 504.0,275.8 502.4,277.5 500.7,275.9 499.1,277.6 497.4,276.9"/>
<polyline points="493.6,282.9 495.3,283.6 496.8,281.9 498.6,283.4 500.1,281.7 501.8,282.4"/>
<polyline points="505.6,284.4 504.0,283.6 502.4,285.3 500.7,283.8 499.1,285.5 497.4,284.8"/>
<polyline points="493.6,290.8 495.3,291.5 496.8,289.8 498.6,291.2 500.1,289.5 501.8,290.2"/>
<polyline points="505.6,292.2 504.0,291.5 502.4,293.2 500.7,291.6 499.1,293.3 497.4,292.6"/>
<polyline points="493.6,298.6 495.3,299.3 496.8,297.6 498.6,299.1 500.1,297.4 501.8,298.1"/>
<polyline points="505.6,300.1 504.0,299.3 502.4,301.0 500.7,299.5 499.1,301.2 497.4,300.5"/>
<polyline points="493.6,306.5 495.3,307.2 496.8,305.5 498.6,306.9 500.1,305.2 501.8,305.9"/>
<polyline points="505.6,307.9 504.0,307.2 502.4,308.9 500.7,307.3 499.1,309.0 497.4,308.3"/>
<polyline points="493.6,314.3 495.3,315.0 496.8,313.3 498.6,314.8 500.1,313.1 501.8,313.8"/>
<polyline points="505.6,315.8 504.0,315.0 502.4,316.7 500.7,315.2 499.1,316.9 497.4,316.2"/>
<polyline points="493.6,322.2 495.3,322.9 496.8,321.2 498.6,322.6 500.1,320.9 501.8,321.6"/>
<polyline points="505.6,323.6 504.0,322.9 502.4,324.6 500.7,323.0 499.1,324.7 497.4,324.0"/>
<polyline points="493.6,330.0 495.3,330.7 496.8,329.0 498.6,330.5 500.1,328.8 501.8,329.4"/>
<polyline points="505.6,331.4 504.0,330.7 502.4,332.4 500.7,330.9 499.1,332.6 497.4,331.9"/>
<polyline points="493.6,337.9 495.3,338.6 496.8,336.9 498.6,338.3 500.1,336.6 501.8,337.3"/>
<polyline points="505.6,339.3 504.0,338.6 502.4,340.3 500.7,338.7 499.1,340.4 497.4,339.7"/>
</g>
<g fill="#1a9ee8">
<circle cx="41.5" cy="288.3" r="1.2"/>
<circle cx="56.5" cy="289.5" r="1.2"/>
<circle cx="41.5" cy="295.8" r="1.2"/>
<circle cx="56.5" cy="297.0" r="1.2"/>
<circle cx="41.5" cy="303.2" r="1.2"/>
<circle cx="56.5" cy="304.4" r="1.2"/>
<circle cx="76.5" cy="290.0" r="1.2"/>
<circle cx="90.5" cy="291.2" r="1.2"/>
<circle cx="76.5" cy="297.5" r="1.2"/>
<circle cx="90.5" cy="298.7" r="1.2"/>
<circle cx="76.5" cy="305.0" r="1.2"/>
<circle cx="90.5" cy="306.2" r="1.2"/>
<circle cx="126.0" cy="288.4" r="1.2"/>
<circle cx="139.5" cy="289.6" r="1.2"/>
<circle cx="126.0" cy="296.0" r="1.2"/>
<circle cx="139.5" cy="297.2" r="1.2"/>
<circle cx="126.0" cy="303.6" r="1.2"/>
<circle cx="139.5" cy="304.8" r="1.2"/>
<circle cx="167.7" cy="290.5" r="1.2"/>
<circle cx="179.7" cy="291.7" r="1.2"/>
<circle cx="167.7" cy="298.0" r="1.2"/>
<circle cx="179.7" cy="299.2" r="1.2"/>
<circle cx="167.7" cy="305.5" r="1.2"/>
<circle cx="179.7" cy="306.7" r="1.2"/>
<circle cx="202.3" cy="288.4" r="1.2"/>
<circle cx="221.3" cy="289.6" r="1.2"/>
<circle cx="202.3" cy="295.4" r="1.2"/>
<circle cx="221.3" cy="296.6" r="1.2"/>
<circle cx="202.3" cy="303.6" r="1.2"/>
<circle cx="221.3" cy="304.8" r="1.2"/>
<circle cx="202.3" cy="310.7" r="1.2"/>
<circle cx="221.3" cy="311.9" r="1.2"/>
<circle cx="35.5" cy="325.8" r="1.2"/>
<circle cx="48.0" cy="327.0" r="1.2"/>
<circle cx="35.5" cy="333.0" r="1.2"/>
<circle cx="48.0" cy="334.2" r="1.2"/>
<circle cx="35.5" cy="340.3" r="1.2"/>
<circle cx="48.0" cy="341.5" r="1.2"/>
<circle cx="77.3" cy="321.4" r="1.2"/>
<circle cx="91.5" cy="322.6" r="1.2"/>
<circle cx="77.3" cy="329.2" r="1.2"/>
<circle cx="91.5" cy="330.4" r="1.2"/>
<circle cx="77.3" cy="336.0" r="1.2"/>
<circle cx="91.5" cy="337.2" r="1.2"/>
<circle cx="105.5" cy="322.9" r="1.2"/>
<circle cx="117.0" cy="324.1" r="1.2"/>
<circle cx="105.5" cy="331.3" r="1.2"/>
<circle cx="117.0" cy="332.5" r="1.2"/>
<circle cx="105.5" cy="339.6" r="1.2"/>
<circle cx="117.0" cy="340.8" r="1.2"/>
<circle cx="138.5" cy="316.3" r="1.2"/>
<circle cx="155.0" cy="317.5" r="1.2"/>
<circle cx="138.5" cy="324.0" r="1.2"/>
<circle cx="155.0" cy="325.2" r="1.2"/>
<circle cx="138.5" cy="332.4" r="1.2"/>
<circle cx="155.0" cy="333.6" r="1.2"/>
<circle cx="138.5" cy="340.0" r="1.2"/>
<circle cx="155.0" cy="341.2" r="1.2"/>
<circle cx="168.5" cy="320.0" r="1.2"/>
<circle cx="184.5" cy="321.2" r="1.2"/>
<circle cx="168.5" cy="327.0" r="1.2"/>
<circle cx="184.5" cy="328.2" r="1.2"/>
<circle cx="168.5" cy="335.4" r="1.2"/>
<circle cx="184.5" cy="336.6" r="1.2"/>
<circle cx="212.5" cy="334.3" r="1.2"/>
<circle cx="222.0" cy="335.5" r="1.2"/>
<circle cx="212.5" cy="341.8" r="1.2"/>
<circle cx="222.0" cy="343.0" r="1.2"/>
<circle cx="317.8" cy="260.0" r="1.2"/>
<circle cx="332.1" cy="260.6" r="1.2"/>
<circle cx="317.8" cy="267.9" r="1.2"/>
<circle cx="332.1" cy="268.5" r="1.2"/>
<circle cx="317.8" cy="275.7" r="1.2"/>
<circle cx="332.1" cy="276.3" r="1.2"/>
<circle cx="317.8" cy="283.6" r="1.2"/>
<circle cx="332.1" cy="284.2" r="1.2"/>
<circle cx="317.8" cy="291.4" r="1.2"/>
<circle cx="332.1" cy="292.0" r="1.2"/>
<circle cx="317.8" cy="299.2" r="1.2"/>
<circle cx="332.1" cy="299.9" r="1.2"/>
<circle cx="317.8" cy="307.1" r="1.2"/>
<circle cx="332.1" cy="307.7" r="1.2"/>
<circle cx="317.8" cy="314.9" r="1.2"/>
<circle cx="332.1" cy="315.6" r="1.2"/>
<circle cx="317.8" cy="322.8" r="1.2"/>
<circle cx="332.1" cy="323.4" r="1.2"/>
<circle cx="317.8" cy="330.6" r="1.2"/>
<circle cx="332.1" cy="331.2" r="1.2"/>
<circle cx="317.8" cy="338.5" r="1.2"/>
<circle cx="332.1" cy="339.1" r="1.2"/>
<circle cx="361.9" cy="260.0" r="1.2"/>
<circle cx="375.8" cy="260.6" r="1.2"/>
<circle cx="361.9" cy="267.9" r="1.2"/>
<circle cx="375.8" cy="268.5" r="1.2"/>
<circle cx="361.9" cy="275.7" r="1.2"/>
<circle cx="375.8" cy="276.3" r="1.2"/>
<circle cx="361.9" cy="283.6" r="1.2"/>
<circle cx="375.8" cy="284.2" r="1.2"/>
<circle cx="361.9" cy="291.4" r="1.2"/>
<circle cx="375.8" cy="292.0" r="1.2"/>
<circle cx="361.9" cy="299.2" r="1.2"/>
<circle cx="375.8" cy="299.9" r="1.2"/>
<circle cx="361.9" cy="307.1" r="1.2"/>
<circle cx="375.8" cy="307.7" r="1.2"/>
<circle cx="361.9" cy="314.9" r="1.2"/>
<circle cx="375.8" cy="315.6" r="1.2"/>
<circle cx="361.9" cy="322.8" r="1.2"/>
<circle cx="375.8" cy="323.4" r="1.2"/>
<circle cx="361.9" cy="330.6" r="1.2"/>
<circle cx="375.8" cy="331.2" r="1.2"/>
<circle cx="361.9" cy="338.5" r="1.2"/>
<circle cx="375.8" cy="339.1" r="1.2"/>
<circle cx="405.6" cy="260.0" r="1.2"/>
<circle cx="419.2" cy="260.6" r="1.2"/>
<circle cx="405.6" cy="267.9" r="1.2"/>
<circle cx="419.2" cy="268.5" r="1.2"/>
<circle cx="405.6" cy="275.7" r="1.2"/>
<circle cx="419.2" cy="276.3" r="1.2"/>
<circle cx="405.6" cy="283.6" r="1.2"/>
<circle cx="419.2" cy="284.2" r="1.2"/>
<circle cx="405.6" cy="291.4" r="1.2"/>
<circle cx="419.2" cy="292.0" r="1.2"/>
<circle cx="405.6" cy="299.2" r="1.2"/>
<circle cx="419.2" cy="299.9" r="1.2"/>
<circle cx="405.6" cy="307.1" r="1.2"/>
<circle cx="419.2" cy="307.7" r="1.2"/>
<circle cx="405.6" cy="314.9" r="1.2"/>
<circle cx="419.2" cy="315.6" r="1.2"/>
<circle cx="405.6" cy="322.8" r="1.2"/>
<circle cx="419.2" cy="323.4" r="1.2"/>
<circle cx="405.6" cy="330.6" r="1.2"/>
<circle cx="419.2" cy="331.2" r="1.2"/>
<circle cx="405.6" cy="338.5" r="1.2"/>
<circle cx="419.2" cy="339.1" r="1.2"/>
<circle cx="449.1" cy="260.0" r="1.2"/>
<circle cx="462.9" cy="260.6" r="1.2"/>
<circle cx="449.1" cy="267.9" r="1.2"/>
<circle cx="462.9" cy="268.5" r="1.2"/>
<circle cx="449.1" cy="275.7" r="1.2"/>
<circle cx="462.9" cy="276.3" r="1.2"/>
<circle cx="449.1" cy="283.6" r="1.2"/>
<circle cx="462.9" cy="284.2" r="1.2"/>
<circle cx="449.1" cy="291.4" r="1.2"/>
<circle cx="462.9" cy="292.0" r="1.2"/>
<circle cx="449.1" cy="299.2" r="1.2"/>
<circle cx="462.9" cy="299.9" r="1.2"/>
<circle cx="449.1" cy="307.1" r="1.2"/>
<circle cx="462.9" cy="307.7" r="1.2"/>
<circle cx="449.1" cy="314.9" r="1.2"/>
<circle cx="462.9" cy="315.6" r="1.2"/>
<circle cx="449.1" cy="322.8" r="1.2"/>
<circle cx="462.9" cy="323.4" r="1.2"/>
<circle cx="449.1" cy="330.6" r="1.2"/>
<circle cx="462.9" cy="331.2" r="1.2"/>
<circle cx="449.1" cy="338.5" r="1.2"/>
<circle cx="462.9" cy="339.1" r="1.2"/>
<circle cx="492.8" cy="260.0" r="1.2"/>
<circle cx="506.4" cy="260.6" r="1.2"/>
<circle cx="492.8" cy="267.9" r="1.2"/>
<circle cx="506.4" cy="268.5" r="1.2"/>
<circle cx="492.8" cy="275.7" r="1.2"/>
<circle cx="506.4" cy="276.3" r="1.2"/>
<circle cx="492.8" cy="283.6" r="1.2"/>
<circle cx="506.4" cy="284.2" r="1.2"/>
<circle cx="492.8" cy="291.4" r="1.2"/>
<circle cx="506.4" cy="292.0" r="1.2"/>
<circle cx="492.8" cy="299.2" r="1.2"/>
<circle cx="506.4" cy="299.9" r="1.2"/>
<circle cx="492.8" cy="307.1" r="1.2"/>
<circle cx="506.4" cy="307.7" r="1.2"/>
<circle cx="492.8" cy="314.9" r="1.2"/>
<circle cx="506.4" cy="315.6" r="1.2"/>
<circle cx="492.8" cy="322.8" r="1.2"/>
<circle cx="506.4" cy="323.4" r="1.2"/>
<circle cx="492.8" cy="330.6" r="1.2"/>
<circle cx="506.4" cy="331.2" r="1.2"/>
<circle cx="492.8" cy="338.5" r="1.2"/>
<circle cx="506.4" cy="339.1" r="1.2"/>
</g>
</svg>
<svg width="550" height="377" viewBox="0 0 550 377" style="position:absolute;left:0;top:0" font-family='"Liberation Sans", sans-serif'>
<text x="8.8" y="20.7" font-size="19.3" font-weight="bold" text-anchor="start" fill="#000" >a</text>
<text x="8.8" y="246.9" font-size="20.0" font-weight="bold" text-anchor="start" fill="#000" >b</text>
<text x="137.5" y="17.6" font-size="14.6" font-weight="bold" text-anchor="middle" fill="#000" >BA</text>
<text x="419.8" y="20.8" font-size="15.1" font-weight="bold" text-anchor="middle" fill="#000" >BAAc</text>
<text x="250.1" y="38.3" font-size="12.9" font-weight="normal" text-anchor="end" fill="#1e1eff" stroke="#1e1eff" stroke-width="0.3">&lt;<tspan font-style="italic">n</tspan>&gt; = 1</text>
<text x="251.1" y="72.3" font-size="12.9" font-weight="normal" text-anchor="end" fill="#ff1a1a" stroke="#ff1a1a" stroke-width="0.3">&lt;<tspan font-style="italic">n</tspan>&gt; = 2</text>
<text x="251.1" y="107.7" font-size="12.9" font-weight="normal" text-anchor="end" fill="#169696" stroke="#169696" stroke-width="0.3">&lt;<tspan font-style="italic">n</tspan>&gt; = 3</text>
<text x="251.1" y="143.7" font-size="12.9" font-weight="normal" text-anchor="end" fill="#ff22cc" stroke="#ff22cc" stroke-width="0.3">&lt;<tspan font-style="italic">n</tspan>&gt; = 4</text>
<text x="251.1" y="179.7" font-size="12.9" font-weight="normal" text-anchor="end" fill="#ff8a14" stroke="#ff8a14" stroke-width="0.3">&lt;<tspan font-style="italic">n</tspan>&gt; = 5</text>
<text x="526.6" y="38.8" font-size="12.9" font-weight="normal" text-anchor="end" fill="#1e1eff" stroke="#1e1eff" stroke-width="0.3">&lt;<tspan font-style="italic">n</tspan>&gt; = 1</text>
<text x="528.6" y="73.7" font-size="12.9" font-weight="normal" text-anchor="end" fill="#ff1a1a" stroke="#ff1a1a" stroke-width="0.3">&lt;<tspan font-style="italic">n</tspan>&gt; = 2</text>
<text x="528.6" y="108.2" font-size="12.9" font-weight="normal" text-anchor="end" fill="#169696" stroke="#169696" stroke-width="0.3">&lt;<tspan font-style="italic">n</tspan>&gt; = 3</text>
<text x="528.6" y="145.0" font-size="12.9" font-weight="normal" text-anchor="end" fill="#ff22cc" stroke="#ff22cc" stroke-width="0.3">&lt;<tspan font-style="italic">n</tspan>&gt; = 4</text>
<text x="528.6" y="181.3" font-size="12.9" font-weight="normal" text-anchor="end" fill="#ff8a14" stroke="#ff8a14" stroke-width="0.3">&lt;<tspan font-style="italic">n</tspan>&gt; = 5</text>
<text x="68.7" y="219.0" font-size="12.8" font-weight="normal" text-anchor="middle" fill="#111" >500</text>
<text x="138.3" y="219.0" font-size="12.8" font-weight="normal" text-anchor="middle" fill="#111" >600</text>
<text x="207.8" y="219.0" font-size="12.8" font-weight="normal" text-anchor="middle" fill="#111" >700</text>
<text x="145.5" y="239.8" font-size="13.0" font-weight="normal" text-anchor="middle" fill="#111" >Wavelength (nm)</text>
<text x="343.9" y="222.6" font-size="12.8" font-weight="normal" text-anchor="middle" fill="#111" >500</text>
<text x="414.2" y="222.6" font-size="12.8" font-weight="normal" text-anchor="middle" fill="#111" >600</text>
<text x="484.5" y="222.6" font-size="12.8" font-weight="normal" text-anchor="middle" fill="#111" >700</text>
<text x="421.0" y="242.6" font-size="13.0" font-weight="normal" text-anchor="middle" fill="#111" >Wavelength (nm)</text>
<text transform="translate(25.4,113.9) rotate(-90)" font-size="12.5" letter-spacing="0.35" text-anchor="middle" fill="#111">&#916;<tspan font-style="italic">A</tspan> (OD)</text>
<text transform="translate(299.8,115.7) rotate(-90)" font-size="12.5" letter-spacing="0.35" text-anchor="middle" fill="#111">&#916;<tspan font-style="italic">A</tspan> (OD)</text>
<text x="126.4" y="367.0" font-size="15.0" font-weight="bold" text-anchor="middle" fill="#000" >MQWs</text>
<polygon points="66.40,118.00 67.08,119.87 69.06,119.93 67.49,121.16 68.05,123.07 66.40,121.95 64.75,123.07 65.31,121.16 63.74,119.93 65.72,119.87" fill="#111"/>
<text x="408.9" y="365.9" font-size="15.8" font-weight="normal" text-anchor="middle" fill="#000" stroke="#000" stroke-width="0.35">Phase-pure QWs</text>
</svg>
</body></html>
